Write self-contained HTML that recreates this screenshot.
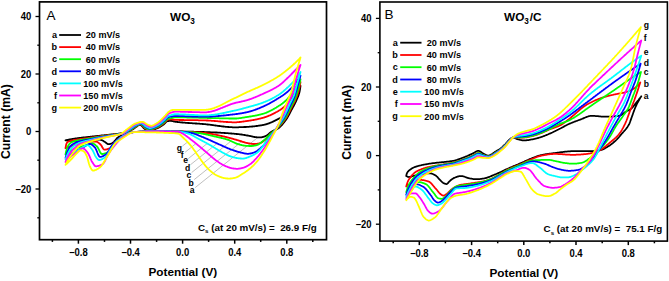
<!DOCTYPE html><html><head><meta charset="utf-8"><style>html,body{margin:0;padding:0;background:#fff;width:669px;height:281px;overflow:hidden}svg{display:block}</style></head><body><svg width="669" height="281" viewBox="0 0 669 281">
<rect width="669" height="281" fill="#fff"/>
<defs><clipPath id="cl"><rect x="40" y="2" width="287" height="238"/></clipPath><clipPath id="cr"><rect x="380" y="2" width="287" height="238"/></clipPath></defs>
<g clip-path="url(#cl)"><line x1="182.3" y1="146.2" x2="187.6" y2="142.0" stroke="#8a8a8a" stroke-width="0.55"/>
<text x="176.8" y="150.6" font-family="'Liberation Sans', sans-serif" font-weight="bold" font-size="8.6">g</text>
<line x1="185.2" y1="152.2" x2="196.0" y2="143.5" stroke="#8a8a8a" stroke-width="0.55"/>
<text x="180.8" y="157.8" font-family="'Liberation Sans', sans-serif" font-weight="bold" font-size="8.6">f</text>
<line x1="188.3" y1="158.6" x2="207.2" y2="143.5" stroke="#8a8a8a" stroke-width="0.55"/>
<text x="183.3" y="163.4" font-family="'Liberation Sans', sans-serif" font-weight="bold" font-size="8.6">e</text>
<line x1="190.4" y1="164.8" x2="217.1" y2="143.4" stroke="#8a8a8a" stroke-width="0.55"/>
<text x="185.0" y="170.8" font-family="'Liberation Sans', sans-serif" font-weight="bold" font-size="8.6">d</text>
<line x1="191.6" y1="172.6" x2="231.1" y2="141.0" stroke="#8a8a8a" stroke-width="0.55"/>
<text x="186.5" y="178.2" font-family="'Liberation Sans', sans-serif" font-weight="bold" font-size="8.6">c</text>
<line x1="194.2" y1="179.6" x2="241.8" y2="141.5" stroke="#8a8a8a" stroke-width="0.55"/>
<text x="188.6" y="185.6" font-family="'Liberation Sans', sans-serif" font-weight="bold" font-size="8.6">b</text>
<line x1="195.2" y1="187.6" x2="258.0" y2="137.3" stroke="#8a8a8a" stroke-width="0.55"/>
<text x="189.7" y="193.2" font-family="'Liberation Sans', sans-serif" font-weight="bold" font-size="8.6">a</text>
<path d="M65.5,140.3 66.0,140.2 66.5,140.1 67.0,140.0 67.5,139.9 68.0,139.8 68.5,139.7 69.0,139.6 69.5,139.5 70.0,139.4 70.5,139.3 71.0,139.2 71.5,139.1 72.0,139.1 72.5,139.0 73.0,138.9 73.5,138.8 74.0,138.7 74.5,138.7 75.0,138.6 75.5,138.5 76.0,138.4 76.5,138.4 77.0,138.3 77.5,138.2 78.0,138.2 78.5,138.1 79.0,138.0 79.5,138.0 80.0,137.9 80.5,137.8 81.0,137.8 81.5,137.7 82.0,137.7 82.5,137.6 83.0,137.5 83.5,137.5 84.0,137.4 84.5,137.4 85.0,137.3 85.5,137.3 86.0,137.2 86.5,137.2 87.0,137.1 87.5,137.1 88.0,137.0 88.5,137.0 89.0,136.9 89.5,136.9 90.0,136.8 90.5,136.7 91.0,136.7 91.5,136.6 92.0,136.6 92.5,136.5 93.0,136.5 93.5,136.4 94.0,136.4 94.5,136.3 95.0,136.2 95.5,136.2 96.0,136.1 96.5,136.1 97.0,136.0 97.5,136.0 98.0,135.9 98.5,135.9 99.0,135.8 99.5,135.8 100.0,135.7 100.5,135.6 101.0,135.6 101.5,135.5 102.0,135.5 102.5,135.4 103.0,135.4 103.5,135.3 104.0,135.3 104.5,135.2 105.0,135.2 105.5,135.1 106.0,135.1 106.5,135.0 107.0,135.0 107.5,134.9 108.0,134.8 108.5,134.8 109.0,134.7 109.5,134.7 110.0,134.6 110.5,134.6 111.0,134.5 111.5,134.5 112.0,134.4 112.5,134.3 113.0,134.3 113.5,134.2 114.0,134.2 114.5,134.1 115.0,134.1 115.5,134.0 116.0,134.0 116.5,133.9 117.0,133.9 117.5,133.8 118.0,133.8 118.5,133.7 119.0,133.6 119.5,133.6 120.0,133.5 120.5,133.4 121.0,133.4 121.5,133.3 122.0,133.2 122.5,133.1 123.0,133.0 123.5,132.9 124.0,132.8 124.5,132.6 125.0,132.5 125.5,132.4 126.0,132.2 126.5,132.0 127.0,131.9 127.5,131.7 128.0,131.5 128.5,131.3 129.0,131.1 129.5,130.9 130.0,130.7 130.5,130.5 131.0,130.2 131.5,130.0 132.0,129.7 132.5,129.5 133.0,129.2 133.5,128.9 134.0,128.5 134.5,128.1 135.0,127.7 135.5,127.3 136.0,127.0 136.5,126.7 137.0,126.3 137.5,125.9 138.0,125.6 138.5,125.3 139.0,125.0 139.5,124.9 140.0,124.8 140.5,124.9 141.0,125.2 141.5,125.6 142.0,126.1 142.5,126.6 143.0,127.2 143.5,127.8 144.0,128.3 144.5,128.7 145.0,129.1 145.5,129.3 146.0,129.6 146.5,129.9 147.0,130.1 147.5,130.3 148.0,130.4 148.5,130.5 149.0,130.5 149.5,130.5 150.0,130.4 150.5,130.3 151.0,130.3 151.5,130.2 152.0,130.0 152.5,129.9 153.0,129.8 153.5,129.6 154.0,129.4 154.5,129.3 155.0,129.1 155.5,128.9 156.0,128.7 156.5,128.5 157.0,128.3 157.5,128.2 158.0,128.0 158.5,127.7 159.0,127.5 159.5,127.2 160.0,126.9 160.5,126.6 161.0,126.3 161.5,126.0 162.0,125.6 162.5,125.3 163.0,124.9 163.5,124.6 164.0,124.2 164.5,123.7 165.0,123.1 165.5,122.6 166.0,122.0 166.5,121.6 167.0,121.3 167.5,121.2 168.0,121.1 168.5,121.0 169.0,120.9 169.5,120.8 170.0,120.8 170.5,120.8 171.0,120.8 171.5,120.9 172.0,121.0 172.5,121.1 173.0,121.2 173.5,121.4 174.0,121.5 174.5,121.6 175.0,121.7 175.5,121.8 176.0,121.8 176.5,121.9 177.0,121.9 177.5,122.0 178.0,122.1 178.5,122.1 179.0,122.2 179.5,122.2 180.0,122.3 180.5,122.3 181.0,122.4 181.5,122.4 182.0,122.5 182.5,122.5 183.0,122.6 183.5,122.6 184.0,122.6 184.5,122.7 185.0,122.7 185.5,122.8 186.0,122.8 186.5,122.8 187.0,122.9 187.5,122.9 188.0,123.0 188.5,123.0 189.0,123.0 189.5,123.1 190.0,123.1 190.5,123.1 191.0,123.2 191.5,123.2 192.0,123.2 192.5,123.3 193.0,123.3 193.5,123.3 194.0,123.4 194.5,123.4 195.0,123.4 195.5,123.5 196.0,123.5 196.5,123.5 197.0,123.6 197.5,123.6 198.0,123.6 198.5,123.7 199.0,123.7 199.5,123.7 200.0,123.8 200.5,123.8 201.0,123.9 201.5,123.9 202.0,123.9 202.5,124.0 203.0,124.0 203.5,124.1 204.0,124.1 204.5,124.2 205.0,124.2 205.5,124.2 206.0,124.3 206.5,124.3 207.0,124.4 207.5,124.5 208.0,124.5 208.5,124.6 209.0,124.6 209.5,124.7 210.0,124.7 210.5,124.8 211.0,124.9 211.5,124.9 212.0,125.0 212.5,125.1 213.0,125.1 213.5,125.2 214.0,125.3 214.5,125.3 215.0,125.4 215.5,125.5 216.0,125.6 216.5,125.6 217.0,125.7 217.5,125.8 218.0,125.8 218.5,125.9 219.0,126.0 219.5,126.0 220.0,126.1 220.5,126.2 221.0,126.2 221.5,126.3 222.0,126.4 222.5,126.4 223.0,126.5 223.5,126.5 224.0,126.6 224.5,126.6 225.0,126.7 225.5,126.8 226.0,126.8 226.5,126.9 227.0,126.9 227.5,126.9 228.0,127.0 228.5,127.0 229.0,127.1 229.5,127.1 230.0,127.1 230.5,127.2 231.0,127.2 231.5,127.2 232.0,127.2 232.5,127.3 233.0,127.3 233.5,127.3 234.0,127.3 234.5,127.3 235.0,127.3 235.5,127.3 236.0,127.3 236.5,127.3 237.0,127.3 237.5,127.3 238.0,127.3 238.5,127.3 239.0,127.2 239.5,127.2 240.0,127.2 240.5,127.2 241.0,127.2 241.5,127.2 242.0,127.1 242.5,127.1 243.0,127.1 243.5,127.1 244.0,127.0 244.5,127.0 245.0,127.0 245.5,127.0 246.0,127.0 246.5,126.9 247.0,126.9 247.5,126.9 248.0,126.8 248.5,126.8 249.0,126.8 249.5,126.7 250.0,126.7 250.5,126.7 251.0,126.6 251.5,126.6 252.0,126.5 252.5,126.5 253.0,126.4 253.5,126.4 254.0,126.3 254.5,126.3 255.0,126.2 255.5,126.2 256.0,126.1 256.5,126.0 257.0,126.0 257.5,125.9 258.0,125.8 258.5,125.7 259.0,125.7 259.5,125.6 260.0,125.5 260.5,125.4 261.0,125.4 261.5,125.3 262.0,125.2 262.5,125.1 263.0,125.0 263.5,124.9 264.0,124.8 264.5,124.7 265.0,124.6 265.5,124.4 266.0,124.3 266.5,124.1 267.0,124.0 267.5,123.8 268.0,123.6 268.5,123.5 269.0,123.3 269.5,123.1 270.0,122.9 270.5,122.7 271.0,122.5 271.5,122.3 272.0,122.1 272.5,121.8 273.0,121.6 273.5,121.4 274.0,121.1 274.5,120.9 275.0,120.6 275.5,120.4 276.0,120.1 276.5,119.9 277.0,119.6 277.5,119.4 278.0,119.1 278.5,118.9 279.0,118.6 279.5,118.3 280.0,118.1 280.5,117.8 281.0,117.5 281.5,117.2 282.0,116.9 282.5,116.6 283.0,116.3 283.5,115.9 284.0,115.6 284.5,115.2 285.0,114.8 285.5,114.4 286.0,114.0 286.5,113.5 287.0,113.0 287.5,112.5 288.0,111.8 288.5,111.2 289.0,110.4 289.5,109.6 290.0,108.7 290.5,107.9 291.0,106.9 291.5,106.0 292.0,105.0 292.5,104.0 293.0,103.0 293.5,102.0 294.0,101.0 294.5,100.0 295.0,99.0 295.5,97.9 296.0,96.8 296.5,95.7 297.0,94.6 297.5,93.4 298.0,92.2 298.5,91.0 299.0,89.7 299.5,88.5 300.0,87.2 300.5,85.9 300.5,85.9 300.0,89.3 299.5,92.0 299.0,93.8 298.5,95.4 298.0,96.7 297.5,97.8 297.0,99.0 296.5,100.2 296.0,101.3 295.5,102.3 295.0,103.3 294.5,104.3 294.0,105.3 293.5,106.2 293.0,107.1 292.5,108.1 292.0,109.0 291.5,109.9 291.0,110.9 290.5,111.9 290.0,112.8 289.5,113.8 289.0,114.7 288.5,115.6 288.0,116.5 287.5,117.4 287.0,118.2 286.5,119.0 286.0,119.7 285.5,120.4 285.0,121.1 284.5,121.7 284.0,122.4 283.5,123.0 283.0,123.6 282.5,124.2 282.0,124.8 281.5,125.4 281.0,125.9 280.5,126.4 280.0,126.9 279.5,127.4 279.0,127.8 278.5,128.2 278.0,128.5 277.5,128.8 277.0,129.1 276.5,129.3 276.0,129.6 275.5,129.8 275.0,130.0 274.5,130.2 274.0,130.4 273.5,130.7 273.0,130.9 272.5,131.1 272.0,131.4 271.5,131.7 271.0,132.0 270.5,132.4 270.0,132.8 269.5,133.2 269.0,133.6 268.5,134.1 268.0,134.5 267.5,134.9 267.0,135.2 266.5,135.6 266.0,135.9 265.5,136.1 265.0,136.3 264.5,136.5 264.0,136.6 263.5,136.8 263.0,136.9 262.5,137.1 262.0,137.2 261.5,137.3 261.0,137.3 260.5,137.4 260.0,137.4 259.5,137.4 259.0,137.4 258.5,137.4 258.0,137.3 257.5,137.3 257.0,137.3 256.5,137.2 256.0,137.2 255.5,137.2 255.0,137.1 254.5,137.0 254.0,136.9 253.5,136.8 253.0,136.7 252.5,136.6 252.0,136.4 251.5,136.3 251.0,136.2 250.5,136.1 250.0,136.0 249.5,135.9 249.0,135.8 248.5,135.7 248.0,135.6 247.5,135.5 247.0,135.5 246.5,135.4 246.0,135.3 245.5,135.2 245.0,135.1 244.5,135.0 244.0,134.9 243.5,134.8 243.0,134.8 242.5,134.7 242.0,134.6 241.5,134.5 241.0,134.5 240.5,134.4 240.0,134.3 239.5,134.3 239.0,134.2 238.5,134.2 238.0,134.1 237.5,134.1 237.0,134.0 236.5,134.0 236.0,133.9 235.5,133.9 235.0,133.8 234.5,133.8 234.0,133.7 233.5,133.7 233.0,133.6 232.5,133.6 232.0,133.6 231.5,133.5 231.0,133.5 230.5,133.4 230.0,133.4 229.5,133.3 229.0,133.3 228.5,133.3 228.0,133.2 227.5,133.2 227.0,133.2 226.5,133.1 226.0,133.1 225.5,133.1 225.0,133.0 224.5,133.0 224.0,132.9 223.5,132.9 223.0,132.9 222.5,132.9 222.0,132.8 221.5,132.8 221.0,132.8 220.5,132.7 220.0,132.7 219.5,132.7 219.0,132.6 218.5,132.6 218.0,132.6 217.5,132.6 217.0,132.5 216.5,132.5 216.0,132.5 215.5,132.5 215.0,132.4 214.5,132.4 214.0,132.4 213.5,132.4 213.0,132.4 212.5,132.3 212.0,132.3 211.5,132.3 211.0,132.3 210.5,132.3 210.0,132.2 209.5,132.2 209.0,132.2 208.5,132.2 208.0,132.2 207.5,132.1 207.0,132.1 206.5,132.1 206.0,132.1 205.5,132.1 205.0,132.1 204.5,132.1 204.0,132.0 203.5,132.0 203.0,132.0 202.5,132.0 202.0,132.0 201.5,132.0 201.0,131.9 200.5,131.9 200.0,131.9 199.5,131.9 199.0,131.9 198.5,131.9 198.0,131.9 197.5,131.8 197.0,131.8 196.5,131.8 196.0,131.8 195.5,131.8 195.0,131.8 194.5,131.8 194.0,131.8 193.5,131.7 193.0,131.7 192.5,131.7 192.0,131.7 191.5,131.7 191.0,131.7 190.5,131.7 190.0,131.7 189.5,131.7 189.0,131.6 188.5,131.6 188.0,131.6 187.5,131.6 187.0,131.6 186.5,131.6 186.0,131.6 185.5,131.6 185.0,131.6 184.5,131.6 184.0,131.6 183.5,131.6 183.0,131.5 182.5,131.5 182.0,131.5 181.5,131.5 181.0,131.5 180.5,131.5 180.0,131.5 179.5,131.5 179.0,131.5 178.5,131.5 178.0,131.5 177.5,131.5 177.0,131.5 176.5,131.5 176.0,131.5 175.5,131.5 175.0,131.5 174.5,131.5 174.0,131.5 173.5,131.5 173.0,131.5 172.5,131.5 172.0,131.5 171.5,131.5 171.0,131.5 170.5,131.5 170.0,131.5 169.5,131.5 169.0,131.5 168.5,131.4 168.0,131.4 167.5,131.4 167.0,131.4 166.5,131.4 166.0,131.4 165.5,131.4 165.0,131.4 164.5,131.4 164.0,131.4 163.5,131.4 163.0,131.4 162.5,131.4 162.0,131.4 161.5,131.4 161.0,131.4 160.5,131.4 160.0,131.4 159.5,131.4 159.0,131.4 158.5,131.4 158.0,131.4 157.5,131.4 157.0,131.4 156.5,131.4 156.0,131.4 155.5,131.4 155.0,131.4 154.5,131.4 154.0,131.4 153.5,131.4 153.0,131.4 152.5,131.4 152.0,131.4 151.5,131.4 151.0,131.4 150.5,131.4 150.0,131.4 149.5,131.4 149.0,131.4 148.5,131.4 148.0,131.4 147.5,131.4 147.0,131.4 146.5,131.4 146.0,131.4 145.5,131.5 145.0,131.5 144.5,131.5 144.0,131.5 143.5,131.5 143.0,131.5 142.5,131.5 142.0,131.6 141.5,131.6 141.0,131.6 140.5,131.6 140.0,131.6 139.5,131.7 139.0,131.7 138.5,131.7 138.0,131.7 137.5,131.8 137.0,131.8 136.5,131.8 136.0,131.9 135.5,131.9 135.0,131.9 134.5,132.0 134.0,132.0 133.5,132.0 133.0,132.1 132.5,132.1 132.0,132.2 131.5,132.2 131.0,132.2 130.5,132.3 130.0,132.4 129.5,132.5 129.0,132.6 128.5,132.7 128.0,132.8 127.5,132.9 127.0,133.0 126.5,133.2 126.0,133.3 125.5,133.5 125.0,133.7 124.5,133.8 124.0,134.0 123.5,134.2 123.0,134.4 122.5,134.6 122.0,134.9 121.5,135.1 121.0,135.4 120.5,135.7 120.0,136.0 119.5,136.4 119.0,136.7 118.5,137.1 118.0,137.4 117.5,137.8 117.0,138.2 116.5,138.8 116.0,139.3 115.5,140.0 115.0,140.6 114.5,141.2 114.0,141.8 113.5,142.3 113.0,142.7 112.5,143.1 112.0,143.3 111.5,143.5 111.0,143.7 110.5,143.8 110.0,144.0 109.5,144.1 109.0,144.2 108.5,144.2 108.0,144.1 107.5,143.9 107.0,143.6 106.5,143.2 106.0,142.8 105.5,142.4 105.0,142.0 104.5,141.7 104.0,141.4 103.5,141.1 103.0,140.8 102.5,140.5 102.0,140.2 101.5,140.0 101.0,139.9 100.5,139.8 100.0,139.7 99.5,139.7 99.0,139.6 98.5,139.6 98.0,139.5 97.5,139.5 97.0,139.5 96.5,139.5 96.0,139.5 95.5,139.6 95.0,139.6 94.5,139.7 94.0,139.7 93.5,139.8 93.0,139.9 92.5,139.9 92.0,140.0 91.5,140.1 91.0,140.2 90.5,140.2 90.0,140.3 89.5,140.4 89.0,140.4 88.5,140.5 88.0,140.5 87.5,140.5 87.0,140.6 86.5,140.6 86.0,140.6 85.5,140.6 85.0,140.7 84.5,140.7 84.0,140.7 83.5,140.8 83.0,140.8 82.5,140.8 82.0,140.8 81.5,140.8 81.0,140.9 80.5,140.9 80.0,140.9 79.5,140.9 79.0,140.9 78.5,141.0 78.0,141.0 77.5,141.0 77.0,141.0 76.5,141.0 76.0,141.0 75.5,141.0 75.0,141.0 74.5,141.0 74.0,141.0 73.5,141.0 73.0,141.0 72.5,140.9 72.0,140.9 71.5,140.9 71.0,140.9 70.5,140.8 70.0,140.8 69.5,140.7 69.0,140.7 68.5,140.6 68.0,140.6 67.5,140.5 67.0,140.5 66.5,140.4 66.0,140.4 65.5,140.3Z" fill="none" stroke="#000000" stroke-width="1.8" stroke-linejoin="round"/>
<path d="M65.5,148.1 66.0,145.3 66.5,143.6 67.0,142.7 67.5,142.2 68.0,141.8 68.5,141.5 69.0,141.3 69.5,141.2 70.0,141.0 70.5,140.9 71.0,140.7 71.5,140.6 72.0,140.5 72.5,140.4 73.0,140.3 73.5,140.2 74.0,140.1 74.5,140.0 75.0,139.9 75.5,139.8 76.0,139.7 76.5,139.6 77.0,139.6 77.5,139.5 78.0,139.4 78.5,139.3 79.0,139.2 79.5,139.2 80.0,139.1 80.5,139.0 81.0,139.0 81.5,138.9 82.0,138.8 82.5,138.8 83.0,138.7 83.5,138.6 84.0,138.6 84.5,138.5 85.0,138.4 85.5,138.4 86.0,138.3 86.5,138.3 87.0,138.2 87.5,138.1 88.0,138.1 88.5,138.0 89.0,137.9 89.5,137.9 90.0,137.8 90.5,137.7 91.0,137.7 91.5,137.6 92.0,137.5 92.5,137.4 93.0,137.4 93.5,137.3 94.0,137.2 94.5,137.1 95.0,137.0 95.5,137.0 96.0,136.9 96.5,136.8 97.0,136.7 97.5,136.7 98.0,136.6 98.5,136.5 99.0,136.4 99.5,136.4 100.0,136.3 100.5,136.2 101.0,136.2 101.5,136.1 102.0,136.0 102.5,136.0 103.0,135.9 103.5,135.8 104.0,135.8 104.5,135.7 105.0,135.7 105.5,135.6 106.0,135.5 106.5,135.5 107.0,135.4 107.5,135.4 108.0,135.3 108.5,135.2 109.0,135.2 109.5,135.1 110.0,135.1 110.5,135.0 111.0,134.9 111.5,134.9 112.0,134.8 112.5,134.7 113.0,134.7 113.5,134.6 114.0,134.6 114.5,134.5 115.0,134.4 115.5,134.4 116.0,134.3 116.5,134.3 117.0,134.2 117.5,134.1 118.0,134.1 118.5,134.0 119.0,133.9 119.5,133.9 120.0,133.8 120.5,133.7 121.0,133.6 121.5,133.5 122.0,133.4 122.5,133.3 123.0,133.2 123.5,133.0 124.0,132.9 124.5,132.7 125.0,132.5 125.5,132.4 126.0,132.2 126.5,132.0 127.0,131.8 127.5,131.5 128.0,131.3 128.5,131.1 129.0,130.8 129.5,130.6 130.0,130.3 130.5,130.1 131.0,129.8 131.5,129.6 132.0,129.3 132.5,129.0 133.0,128.6 133.5,128.3 134.0,127.9 134.5,127.5 135.0,127.1 135.5,126.8 136.0,126.5 136.5,126.1 137.0,125.8 137.5,125.5 138.0,125.2 138.5,124.9 139.0,124.7 139.5,124.5 140.0,124.4 140.5,124.4 141.0,124.5 141.5,124.8 142.0,125.2 142.5,125.7 143.0,126.3 143.5,126.8 144.0,127.4 144.5,127.8 145.0,128.2 145.5,128.5 146.0,128.8 146.5,129.0 147.0,129.3 147.5,129.5 148.0,129.7 148.5,129.8 149.0,129.8 149.5,129.8 150.0,129.8 150.5,129.7 151.0,129.6 151.5,129.5 152.0,129.4 152.5,129.3 153.0,129.1 153.5,129.0 154.0,128.8 154.5,128.6 155.0,128.4 155.5,128.2 156.0,128.0 156.5,127.8 157.0,127.6 157.5,127.4 158.0,127.2 158.5,126.9 159.0,126.7 159.5,126.4 160.0,126.1 160.5,125.7 161.0,125.4 161.5,125.0 162.0,124.7 162.5,124.3 163.0,123.9 163.5,123.5 164.0,123.1 164.5,122.6 165.0,122.1 165.5,121.5 166.0,121.0 166.5,120.5 167.0,120.1 167.5,119.8 168.0,119.7 168.5,119.6 169.0,119.5 169.5,119.4 170.0,119.3 170.5,119.3 171.0,119.3 171.5,119.4 172.0,119.4 172.5,119.5 173.0,119.6 173.5,119.6 174.0,119.7 174.5,119.8 175.0,119.8 175.5,119.8 176.0,119.8 176.5,119.9 177.0,119.9 177.5,119.9 178.0,119.9 178.5,119.9 179.0,119.9 179.5,120.0 180.0,120.0 180.5,120.0 181.0,120.0 181.5,120.0 182.0,120.0 182.5,120.0 183.0,120.0 183.5,120.0 184.0,120.1 184.5,120.1 185.0,120.1 185.5,120.1 186.0,120.1 186.5,120.1 187.0,120.1 187.5,120.1 188.0,120.1 188.5,120.1 189.0,120.1 189.5,120.1 190.0,120.1 190.5,120.1 191.0,120.2 191.5,120.2 192.0,120.2 192.5,120.2 193.0,120.2 193.5,120.2 194.0,120.2 194.5,120.2 195.0,120.2 195.5,120.2 196.0,120.2 196.5,120.2 197.0,120.2 197.5,120.2 198.0,120.2 198.5,120.3 199.0,120.3 199.5,120.3 200.0,120.3 200.5,120.3 201.0,120.3 201.5,120.3 202.0,120.3 202.5,120.3 203.0,120.3 203.5,120.4 204.0,120.4 204.5,120.4 205.0,120.4 205.5,120.4 206.0,120.4 206.5,120.5 207.0,120.5 207.5,120.5 208.0,120.5 208.5,120.6 209.0,120.6 209.5,120.6 210.0,120.6 210.5,120.7 211.0,120.7 211.5,120.8 212.0,120.8 212.5,120.8 213.0,120.9 213.5,120.9 214.0,120.9 214.5,121.0 215.0,121.0 215.5,121.1 216.0,121.1 216.5,121.2 217.0,121.2 217.5,121.2 218.0,121.3 218.5,121.3 219.0,121.4 219.5,121.4 220.0,121.5 220.5,121.5 221.0,121.6 221.5,121.6 222.0,121.6 222.5,121.7 223.0,121.7 223.5,121.8 224.0,121.8 224.5,121.8 225.0,121.9 225.5,121.9 226.0,121.9 226.5,122.0 227.0,122.0 227.5,122.0 228.0,122.1 228.5,122.1 229.0,122.1 229.5,122.2 230.0,122.2 230.5,122.2 231.0,122.2 231.5,122.2 232.0,122.3 232.5,122.3 233.0,122.3 233.5,122.3 234.0,122.3 234.5,122.3 235.0,122.3 235.5,122.3 236.0,122.3 236.5,122.3 237.0,122.2 237.5,122.2 238.0,122.2 238.5,122.1 239.0,122.1 239.5,122.0 240.0,122.0 240.5,121.9 241.0,121.9 241.5,121.8 242.0,121.7 242.5,121.7 243.0,121.6 243.5,121.5 244.0,121.4 244.5,121.4 245.0,121.3 245.5,121.2 246.0,121.1 246.5,121.1 247.0,121.0 247.5,120.9 248.0,120.9 248.5,120.8 249.0,120.7 249.5,120.6 250.0,120.6 250.5,120.5 251.0,120.4 251.5,120.3 252.0,120.2 252.5,120.1 253.0,120.1 253.5,120.0 254.0,119.9 254.5,119.8 255.0,119.7 255.5,119.6 256.0,119.5 256.5,119.4 257.0,119.3 257.5,119.2 258.0,119.0 258.5,118.9 259.0,118.8 259.5,118.7 260.0,118.6 260.5,118.5 261.0,118.3 261.5,118.2 262.0,118.1 262.5,117.9 263.0,117.8 263.5,117.7 264.0,117.5 264.5,117.4 265.0,117.2 265.5,117.0 266.0,116.9 266.5,116.7 267.0,116.5 267.5,116.3 268.0,116.1 268.5,115.9 269.0,115.7 269.5,115.5 270.0,115.3 270.5,115.1 271.0,114.8 271.5,114.6 272.0,114.4 272.5,114.1 273.0,113.9 273.5,113.6 274.0,113.4 274.5,113.1 275.0,112.9 275.5,112.6 276.0,112.3 276.5,112.0 277.0,111.8 277.5,111.5 278.0,111.2 278.5,110.9 279.0,110.6 279.5,110.3 280.0,110.0 280.5,109.7 281.0,109.3 281.5,109.0 282.0,108.6 282.5,108.2 283.0,107.8 283.5,107.4 284.0,107.0 284.5,106.6 285.0,106.1 285.5,105.7 286.0,105.2 286.5,104.7 287.0,104.2 287.5,103.7 288.0,103.1 288.5,102.4 289.0,101.8 289.5,101.1 290.0,100.4 290.5,99.6 291.0,98.8 291.5,98.1 292.0,97.3 292.5,96.5 293.0,95.6 293.5,94.8 294.0,94.0 294.5,93.2 295.0,92.3 295.5,91.5 296.0,90.6 296.5,89.7 297.0,88.8 297.5,87.9 298.0,86.9 298.5,86.0 299.0,85.0 299.5,84.0 300.0,83.0 300.5,82.0 300.5,82.0 300.0,84.7 299.5,87.2 299.0,89.3 298.5,91.2 298.0,92.9 297.5,94.5 297.0,95.9 296.5,97.2 296.0,98.5 295.5,99.7 295.0,100.7 294.5,101.8 294.0,102.8 293.5,103.7 293.0,104.7 292.5,105.6 292.0,106.6 291.5,107.5 291.0,108.5 290.5,109.5 290.0,110.5 289.5,111.5 289.0,112.5 288.5,113.5 288.0,114.5 287.5,115.4 287.0,116.3 286.5,117.2 286.0,118.0 285.5,118.7 285.0,119.5 284.5,120.1 284.0,120.8 283.5,121.5 283.0,122.1 282.5,122.7 282.0,123.3 281.5,123.8 281.0,124.4 280.5,124.9 280.0,125.5 279.5,126.0 279.0,126.5 278.5,127.0 278.0,127.5 277.5,128.0 277.0,128.4 276.5,128.9 276.0,129.3 275.5,129.7 275.0,130.1 274.5,130.5 274.0,130.9 273.5,131.3 273.0,131.7 272.5,132.2 272.0,132.6 271.5,133.0 271.0,133.5 270.5,134.0 270.0,134.5 269.5,135.1 269.0,135.7 268.5,136.3 268.0,136.9 267.5,137.5 267.0,138.1 266.5,138.6 266.0,139.1 265.5,139.6 265.0,140.0 264.5,140.4 264.0,140.8 263.5,141.1 263.0,141.5 262.5,141.9 262.0,142.2 261.5,142.5 261.0,142.8 260.5,143.0 260.0,143.2 259.5,143.4 259.0,143.5 258.5,143.6 258.0,143.7 257.5,143.7 257.0,143.8 256.5,143.9 256.0,143.9 255.5,143.9 255.0,144.0 254.5,144.0 254.0,144.0 253.5,144.0 253.0,144.0 252.5,143.9 252.0,143.9 251.5,143.8 251.0,143.7 250.5,143.7 250.0,143.6 249.5,143.5 249.0,143.4 248.5,143.3 248.0,143.2 247.5,143.1 247.0,143.0 246.5,142.9 246.0,142.8 245.5,142.7 245.0,142.5 244.5,142.4 244.0,142.2 243.5,142.1 243.0,141.9 242.5,141.8 242.0,141.6 241.5,141.4 241.0,141.2 240.5,141.1 240.0,140.9 239.5,140.8 239.0,140.6 238.5,140.4 238.0,140.3 237.5,140.2 237.0,140.0 236.5,139.9 236.0,139.7 235.5,139.6 235.0,139.5 234.5,139.3 234.0,139.2 233.5,139.0 233.0,138.9 232.5,138.7 232.0,138.6 231.5,138.5 231.0,138.3 230.5,138.2 230.0,138.1 229.5,137.9 229.0,137.8 228.5,137.7 228.0,137.5 227.5,137.4 227.0,137.3 226.5,137.1 226.0,137.0 225.5,136.9 225.0,136.8 224.5,136.6 224.0,136.5 223.5,136.4 223.0,136.3 222.5,136.2 222.0,136.1 221.5,136.0 221.0,135.9 220.5,135.8 220.0,135.7 219.5,135.6 219.0,135.5 218.5,135.3 218.0,135.2 217.5,135.1 217.0,135.0 216.5,134.9 216.0,134.8 215.5,134.7 215.0,134.6 214.5,134.5 214.0,134.4 213.5,134.3 213.0,134.2 212.5,134.1 212.0,134.0 211.5,133.9 211.0,133.9 210.5,133.8 210.0,133.7 209.5,133.6 209.0,133.5 208.5,133.4 208.0,133.4 207.5,133.3 207.0,133.2 206.5,133.2 206.0,133.1 205.5,133.0 205.0,133.0 204.5,132.9 204.0,132.9 203.5,132.8 203.0,132.8 202.5,132.8 202.0,132.7 201.5,132.7 201.0,132.6 200.5,132.6 200.0,132.6 199.5,132.5 199.0,132.5 198.5,132.5 198.0,132.4 197.5,132.4 197.0,132.4 196.5,132.3 196.0,132.3 195.5,132.3 195.0,132.2 194.5,132.2 194.0,132.2 193.5,132.1 193.0,132.1 192.5,132.1 192.0,132.1 191.5,132.0 191.0,132.0 190.5,132.0 190.0,132.0 189.5,131.9 189.0,131.9 188.5,131.9 188.0,131.9 187.5,131.8 187.0,131.8 186.5,131.8 186.0,131.8 185.5,131.8 185.0,131.7 184.5,131.7 184.0,131.7 183.5,131.7 183.0,131.7 182.5,131.7 182.0,131.7 181.5,131.6 181.0,131.6 180.5,131.6 180.0,131.6 179.5,131.6 179.0,131.6 178.5,131.6 178.0,131.6 177.5,131.6 177.0,131.6 176.5,131.6 176.0,131.6 175.5,131.6 175.0,131.6 174.5,131.6 174.0,131.6 173.5,131.6 173.0,131.6 172.5,131.6 172.0,131.6 171.5,131.6 171.0,131.6 170.5,131.6 170.0,131.6 169.5,131.6 169.0,131.5 168.5,131.5 168.0,131.5 167.5,131.5 167.0,131.5 166.5,131.5 166.0,131.5 165.5,131.5 165.0,131.5 164.5,131.5 164.0,131.5 163.5,131.5 163.0,131.5 162.5,131.5 162.0,131.5 161.5,131.5 161.0,131.5 160.5,131.5 160.0,131.5 159.5,131.5 159.0,131.5 158.5,131.5 158.0,131.5 157.5,131.5 157.0,131.5 156.5,131.5 156.0,131.5 155.5,131.5 155.0,131.5 154.5,131.5 154.0,131.5 153.5,131.5 153.0,131.5 152.5,131.5 152.0,131.5 151.5,131.5 151.0,131.5 150.5,131.5 150.0,131.5 149.5,131.5 149.0,131.5 148.5,131.5 148.0,131.5 147.5,131.5 147.0,131.5 146.5,131.5 146.0,131.5 145.5,131.5 145.0,131.6 144.5,131.6 144.0,131.6 143.5,131.6 143.0,131.6 142.5,131.6 142.0,131.7 141.5,131.7 141.0,131.7 140.5,131.7 140.0,131.7 139.5,131.8 139.0,131.8 138.5,131.8 138.0,131.8 137.5,131.9 137.0,131.9 136.5,131.9 136.0,132.0 135.5,132.0 135.0,132.0 134.5,132.1 134.0,132.1 133.5,132.2 133.0,132.2 132.5,132.3 132.0,132.3 131.5,132.4 131.0,132.6 130.5,132.7 130.0,132.9 129.5,133.1 129.0,133.2 128.5,133.4 128.0,133.6 127.5,133.9 127.0,134.1 126.5,134.3 126.0,134.5 125.5,134.7 125.0,135.0 124.5,135.2 124.0,135.5 123.5,135.8 123.0,136.1 122.5,136.4 122.0,136.7 121.5,137.0 121.0,137.3 120.5,137.7 120.0,138.0 119.5,138.3 119.0,138.7 118.5,139.1 118.0,139.5 117.5,139.9 117.0,140.3 116.5,140.7 116.0,141.1 115.5,141.6 115.0,142.0 114.5,142.5 114.0,143.0 113.5,143.6 113.0,144.2 112.5,145.0 112.0,145.7 111.5,146.5 111.0,147.1 110.5,147.7 110.0,148.0 109.5,148.3 109.0,148.5 108.5,148.7 108.0,148.9 107.5,149.1 107.0,149.3 106.5,149.4 106.0,149.5 105.5,149.6 105.0,149.7 104.5,149.7 104.0,149.5 103.5,149.1 103.0,148.4 102.5,147.6 102.0,146.7 101.5,145.8 101.0,145.1 100.5,144.5 100.0,144.0 99.5,143.6 99.0,143.2 98.5,142.7 98.0,142.4 97.5,142.0 97.0,141.8 96.5,141.6 96.0,141.5 95.5,141.5 95.0,141.5 94.5,141.5 94.0,141.5 93.5,141.5 93.0,141.5 92.5,141.5 92.0,141.5 91.5,141.5 91.0,141.5 90.5,141.5 90.0,141.5 89.5,141.5 89.0,141.5 88.5,141.5 88.0,141.6 87.5,141.6 87.0,141.7 86.5,141.8 86.0,141.9 85.5,141.9 85.0,142.0 84.5,142.1 84.0,142.2 83.5,142.3 83.0,142.4 82.5,142.5 82.0,142.6 81.5,142.7 81.0,142.9 80.5,143.0 80.0,143.1 79.5,143.3 79.0,143.4 78.5,143.6 78.0,143.7 77.5,143.9 77.0,144.0 76.5,144.2 76.0,144.4 75.5,144.5 75.0,144.7 74.5,144.9 74.0,145.1 73.5,145.3 73.0,145.4 72.5,145.6 72.0,145.8 71.5,146.0 71.0,146.1 70.5,146.3 70.0,146.5 69.5,146.7 69.0,146.9 68.5,147.0 68.0,147.2 67.5,147.4 67.0,147.6 66.5,147.7 66.0,147.9 65.5,148.1Z" fill="none" stroke="#ff0000" stroke-width="1.8" stroke-linejoin="round"/>
<path d="M65.5,154.4 66.0,152.0 66.5,150.0 67.0,148.4 67.5,147.1 68.0,146.0 68.5,145.1 69.0,144.4 69.5,143.8 70.0,143.3 70.5,142.9 71.0,142.6 71.5,142.3 72.0,142.1 72.5,141.8 73.0,141.6 73.5,141.5 74.0,141.3 74.5,141.2 75.0,141.0 75.5,140.9 76.0,140.8 76.5,140.7 77.0,140.6 77.5,140.5 78.0,140.4 78.5,140.4 79.0,140.3 79.5,140.2 80.0,140.1 80.5,140.0 81.0,139.9 81.5,139.8 82.0,139.8 82.5,139.7 83.0,139.6 83.5,139.5 84.0,139.4 84.5,139.4 85.0,139.3 85.5,139.2 86.0,139.1 86.5,139.1 87.0,139.0 87.5,138.9 88.0,138.8 88.5,138.7 89.0,138.7 89.5,138.6 90.0,138.5 90.5,138.4 91.0,138.3 91.5,138.2 92.0,138.2 92.5,138.1 93.0,138.0 93.5,137.9 94.0,137.8 94.5,137.7 95.0,137.6 95.5,137.6 96.0,137.5 96.5,137.4 97.0,137.3 97.5,137.2 98.0,137.1 98.5,137.0 99.0,137.0 99.5,136.9 100.0,136.8 100.5,136.7 101.0,136.6 101.5,136.6 102.0,136.5 102.5,136.4 103.0,136.3 103.5,136.3 104.0,136.2 104.5,136.1 105.0,136.0 105.5,136.0 106.0,135.9 106.5,135.8 107.0,135.7 107.5,135.7 108.0,135.6 108.5,135.5 109.0,135.4 109.5,135.4 110.0,135.3 110.5,135.2 111.0,135.1 111.5,135.1 112.0,135.0 112.5,134.9 113.0,134.9 113.5,134.8 114.0,134.7 114.5,134.7 115.0,134.6 115.5,134.5 116.0,134.5 116.5,134.4 117.0,134.3 117.5,134.3 118.0,134.2 118.5,134.1 119.0,134.1 119.5,134.0 120.0,133.9 120.5,133.8 121.0,133.7 121.5,133.6 122.0,133.5 122.5,133.4 123.0,133.2 123.5,133.1 124.0,132.9 124.5,132.7 125.0,132.5 125.5,132.3 126.0,132.1 126.5,131.9 127.0,131.6 127.5,131.4 128.0,131.1 128.5,130.9 129.0,130.6 129.5,130.3 130.0,130.1 130.5,129.8 131.0,129.5 131.5,129.2 132.0,128.9 132.5,128.6 133.0,128.2 133.5,127.8 134.0,127.4 134.5,127.0 135.0,126.7 135.5,126.4 136.0,126.1 136.5,125.8 137.0,125.5 137.5,125.2 138.0,124.9 138.5,124.6 139.0,124.4 139.5,124.2 140.0,124.1 140.5,124.1 141.0,124.1 141.5,124.4 142.0,124.7 142.5,125.1 143.0,125.6 143.5,126.2 144.0,126.7 144.5,127.2 145.0,127.6 145.5,127.9 146.0,128.2 146.5,128.5 147.0,128.7 147.5,129.0 148.0,129.1 148.5,129.3 149.0,129.4 149.5,129.4 150.0,129.3 150.5,129.3 151.0,129.2 151.5,129.1 152.0,129.0 152.5,128.8 153.0,128.7 153.5,128.5 154.0,128.3 154.5,128.1 155.0,127.9 155.5,127.7 156.0,127.5 156.5,127.3 157.0,127.1 157.5,126.9 158.0,126.6 158.5,126.4 159.0,126.1 159.5,125.8 160.0,125.4 160.5,125.1 161.0,124.7 161.5,124.3 162.0,124.0 162.5,123.6 163.0,123.2 163.5,122.8 164.0,122.4 164.5,121.9 165.0,121.4 165.5,120.8 166.0,120.2 166.5,119.7 167.0,119.3 167.5,118.9 168.0,118.8 168.5,118.6 169.0,118.5 169.5,118.5 170.0,118.4 170.5,118.3 171.0,118.2 171.5,118.1 172.0,117.9 172.5,117.8 173.0,117.6 173.5,117.5 174.0,117.4 174.5,117.3 175.0,117.3 175.5,117.3 176.0,117.3 176.5,117.3 177.0,117.3 177.5,117.3 178.0,117.3 178.5,117.3 179.0,117.3 179.5,117.3 180.0,117.3 180.5,117.3 181.0,117.3 181.5,117.4 182.0,117.4 182.5,117.4 183.0,117.4 183.5,117.4 184.0,117.4 184.5,117.4 185.0,117.4 185.5,117.4 186.0,117.4 186.5,117.4 187.0,117.5 187.5,117.5 188.0,117.5 188.5,117.5 189.0,117.5 189.5,117.5 190.0,117.5 190.5,117.5 191.0,117.6 191.5,117.6 192.0,117.6 192.5,117.6 193.0,117.6 193.5,117.6 194.0,117.6 194.5,117.6 195.0,117.7 195.5,117.7 196.0,117.7 196.5,117.7 197.0,117.7 197.5,117.7 198.0,117.7 198.5,117.7 199.0,117.8 199.5,117.8 200.0,117.8 200.5,117.8 201.0,117.8 201.5,117.8 202.0,117.8 202.5,117.8 203.0,117.9 203.5,117.9 204.0,117.9 204.5,117.9 205.0,117.9 205.5,117.9 206.0,117.9 206.5,117.9 207.0,117.9 207.5,118.0 208.0,118.0 208.5,118.0 209.0,118.0 209.5,118.0 210.0,118.0 210.5,118.0 211.0,118.0 211.5,118.1 212.0,118.1 212.5,118.1 213.0,118.1 213.5,118.1 214.0,118.1 214.5,118.1 215.0,118.1 215.5,118.2 216.0,118.2 216.5,118.2 217.0,118.2 217.5,118.2 218.0,118.2 218.5,118.2 219.0,118.2 219.5,118.3 220.0,118.3 220.5,118.3 221.0,118.3 221.5,118.3 222.0,118.3 222.5,118.3 223.0,118.3 223.5,118.4 224.0,118.4 224.5,118.4 225.0,118.4 225.5,118.4 226.0,118.4 226.5,118.4 227.0,118.4 227.5,118.4 228.0,118.4 228.5,118.4 229.0,118.5 229.5,118.5 230.0,118.5 230.5,118.5 231.0,118.5 231.5,118.5 232.0,118.5 232.5,118.5 233.0,118.5 233.5,118.5 234.0,118.5 234.5,118.5 235.0,118.5 235.5,118.5 236.0,118.5 236.5,118.5 237.0,118.4 237.5,118.4 238.0,118.4 238.5,118.3 239.0,118.2 239.5,118.2 240.0,118.1 240.5,118.1 241.0,118.0 241.5,117.9 242.0,117.8 242.5,117.7 243.0,117.7 243.5,117.6 244.0,117.5 244.5,117.4 245.0,117.3 245.5,117.2 246.0,117.2 246.5,117.1 247.0,117.0 247.5,116.9 248.0,116.8 248.5,116.8 249.0,116.7 249.5,116.6 250.0,116.5 250.5,116.5 251.0,116.4 251.5,116.3 252.0,116.2 252.5,116.1 253.0,116.0 253.5,115.9 254.0,115.9 254.5,115.8 255.0,115.7 255.5,115.6 256.0,115.5 256.5,115.4 257.0,115.3 257.5,115.2 258.0,115.1 258.5,114.9 259.0,114.8 259.5,114.7 260.0,114.6 260.5,114.5 261.0,114.3 261.5,114.2 262.0,114.1 262.5,113.9 263.0,113.8 263.5,113.7 264.0,113.5 264.5,113.3 265.0,113.2 265.5,113.0 266.0,112.8 266.5,112.6 267.0,112.4 267.5,112.2 268.0,111.9 268.5,111.7 269.0,111.5 269.5,111.2 270.0,111.0 270.5,110.7 271.0,110.5 271.5,110.2 272.0,110.0 272.5,109.7 273.0,109.4 273.5,109.1 274.0,108.8 274.5,108.6 275.0,108.3 275.5,108.0 276.0,107.7 276.5,107.4 277.0,107.0 277.5,106.7 278.0,106.4 278.5,106.1 279.0,105.8 279.5,105.5 280.0,105.2 280.5,104.8 281.0,104.5 281.5,104.1 282.0,103.7 282.5,103.4 283.0,103.0 283.5,102.6 284.0,102.2 284.5,101.7 285.0,101.3 285.5,100.8 286.0,100.4 286.5,99.9 287.0,99.4 287.5,98.9 288.0,98.3 288.5,97.7 289.0,97.1 289.5,96.5 290.0,95.8 290.5,95.1 291.0,94.4 291.5,93.7 292.0,93.0 292.5,92.2 293.0,91.5 293.5,90.7 294.0,90.0 294.5,89.2 295.0,88.5 295.5,87.7 296.0,86.9 296.5,86.1 297.0,85.3 297.5,84.4 298.0,83.6 298.5,82.7 299.0,81.9 299.5,81.0 300.0,80.1 300.5,79.2 300.5,79.2 300.0,81.6 299.5,83.9 299.0,86.0 298.5,88.0 298.0,89.8 297.5,91.6 297.0,93.3 296.5,94.8 296.0,96.3 295.5,97.6 295.0,98.8 294.5,99.9 294.0,101.0 293.5,102.0 293.0,102.9 292.5,103.9 292.0,104.8 291.5,105.8 291.0,106.8 290.5,107.8 290.0,108.8 289.5,109.9 289.0,110.9 288.5,111.9 288.0,112.9 287.5,113.9 287.0,114.9 286.5,115.8 286.0,116.7 285.5,117.5 285.0,118.3 284.5,119.0 284.0,119.7 283.5,120.4 283.0,121.1 282.5,121.8 282.0,122.4 281.5,123.0 281.0,123.6 280.5,124.2 280.0,124.8 279.5,125.4 279.0,125.9 278.5,126.5 278.0,127.0 277.5,127.5 277.0,128.0 276.5,128.5 276.0,129.0 275.5,129.5 275.0,130.0 274.5,130.4 274.0,130.9 273.5,131.3 273.0,131.8 272.5,132.2 272.0,132.7 271.5,133.1 271.0,133.6 270.5,134.0 270.0,134.5 269.5,135.0 269.0,135.5 268.5,135.9 268.0,136.4 267.5,136.9 267.0,137.4 266.5,137.9 266.0,138.4 265.5,138.8 265.0,139.3 264.5,139.8 264.0,140.2 263.5,140.6 263.0,141.0 262.5,141.4 262.0,141.8 261.5,142.2 261.0,142.6 260.5,143.0 260.0,143.4 259.5,143.7 259.0,144.1 258.5,144.4 258.0,144.6 257.5,144.8 257.0,145.0 256.5,145.1 256.0,145.3 255.5,145.4 255.0,145.5 254.5,145.6 254.0,145.7 253.5,145.8 253.0,145.9 252.5,145.9 252.0,146.0 251.5,146.0 251.0,146.0 250.5,146.0 250.0,146.0 249.5,146.0 249.0,146.0 248.5,145.9 248.0,145.9 247.5,145.9 247.0,145.9 246.5,145.8 246.0,145.8 245.5,145.8 245.0,145.7 244.5,145.6 244.0,145.6 243.5,145.5 243.0,145.4 242.5,145.3 242.0,145.2 241.5,145.0 241.0,144.9 240.5,144.8 240.0,144.7 239.5,144.5 239.0,144.4 238.5,144.2 238.0,144.1 237.5,143.9 237.0,143.8 236.5,143.6 236.0,143.4 235.5,143.2 235.0,143.0 234.5,142.7 234.0,142.5 233.5,142.2 233.0,142.0 232.5,141.8 232.0,141.5 231.5,141.3 231.0,141.0 230.5,140.8 230.0,140.6 229.5,140.3 229.0,140.1 228.5,139.9 228.0,139.8 227.5,139.6 227.0,139.5 226.5,139.3 226.0,139.2 225.5,139.0 225.0,138.9 224.5,138.7 224.0,138.6 223.5,138.5 223.0,138.3 222.5,138.2 222.0,138.1 221.5,138.0 221.0,137.9 220.5,137.7 220.0,137.6 219.5,137.5 219.0,137.4 218.5,137.3 218.0,137.2 217.5,137.1 217.0,137.0 216.5,136.8 216.0,136.7 215.5,136.6 215.0,136.5 214.5,136.4 214.0,136.3 213.5,136.2 213.0,136.0 212.5,135.9 212.0,135.8 211.5,135.7 211.0,135.6 210.5,135.4 210.0,135.3 209.5,135.2 209.0,135.1 208.5,135.0 208.0,134.8 207.5,134.7 207.0,134.6 206.5,134.5 206.0,134.4 205.5,134.3 205.0,134.2 204.5,134.1 204.0,134.0 203.5,133.9 203.0,133.8 202.5,133.7 202.0,133.6 201.5,133.5 201.0,133.4 200.5,133.3 200.0,133.2 199.5,133.1 199.0,133.1 198.5,133.0 198.0,132.9 197.5,132.9 197.0,132.8 196.5,132.8 196.0,132.7 195.5,132.7 195.0,132.6 194.5,132.6 194.0,132.5 193.5,132.5 193.0,132.4 192.5,132.4 192.0,132.4 191.5,132.3 191.0,132.3 190.5,132.2 190.0,132.2 189.5,132.1 189.0,132.1 188.5,132.1 188.0,132.0 187.5,132.0 187.0,132.0 186.5,131.9 186.0,131.9 185.5,131.9 185.0,131.8 184.5,131.8 184.0,131.8 183.5,131.8 183.0,131.7 182.5,131.7 182.0,131.7 181.5,131.7 181.0,131.7 180.5,131.6 180.0,131.6 179.5,131.6 179.0,131.6 178.5,131.6 178.0,131.6 177.5,131.6 177.0,131.6 176.5,131.6 176.0,131.6 175.5,131.6 175.0,131.6 174.5,131.6 174.0,131.6 173.5,131.6 173.0,131.6 172.5,131.6 172.0,131.6 171.5,131.6 171.0,131.6 170.5,131.6 170.0,131.6 169.5,131.5 169.0,131.5 168.5,131.5 168.0,131.5 167.5,131.5 167.0,131.5 166.5,131.5 166.0,131.5 165.5,131.5 165.0,131.5 164.5,131.5 164.0,131.5 163.5,131.5 163.0,131.5 162.5,131.5 162.0,131.5 161.5,131.5 161.0,131.5 160.5,131.5 160.0,131.5 159.5,131.5 159.0,131.5 158.5,131.5 158.0,131.5 157.5,131.5 157.0,131.5 156.5,131.5 156.0,131.5 155.5,131.5 155.0,131.5 154.5,131.5 154.0,131.5 153.5,131.5 153.0,131.5 152.5,131.5 152.0,131.5 151.5,131.5 151.0,131.5 150.5,131.5 150.0,131.5 149.5,131.5 149.0,131.5 148.5,131.5 148.0,131.5 147.5,131.5 147.0,131.5 146.5,131.5 146.0,131.5 145.5,131.5 145.0,131.6 144.5,131.6 144.0,131.6 143.5,131.6 143.0,131.6 142.5,131.6 142.0,131.7 141.5,131.7 141.0,131.7 140.5,131.7 140.0,131.7 139.5,131.8 139.0,131.8 138.5,131.8 138.0,131.9 137.5,131.9 137.0,131.9 136.5,131.9 136.0,132.0 135.5,132.0 135.0,132.0 134.5,132.1 134.0,132.1 133.5,132.2 133.0,132.2 132.5,132.3 132.0,132.3 131.5,132.4 131.0,132.6 130.5,132.7 130.0,132.8 129.5,133.0 129.0,133.2 128.5,133.4 128.0,133.6 127.5,133.8 127.0,134.1 126.5,134.3 126.0,134.5 125.5,134.8 125.0,135.0 124.5,135.2 124.0,135.5 123.5,135.8 123.0,136.1 122.5,136.5 122.0,136.8 121.5,137.2 121.0,137.5 120.5,137.9 120.0,138.3 119.5,138.7 119.0,139.1 118.5,139.6 118.0,140.0 117.5,140.4 117.0,140.9 116.5,141.4 116.0,141.9 115.5,142.5 115.0,143.0 114.5,143.6 114.0,144.1 113.5,144.7 113.0,145.3 112.5,145.9 112.0,146.5 111.5,147.1 111.0,147.9 110.5,148.7 110.0,149.5 109.5,150.2 109.0,150.9 108.5,151.6 108.0,152.1 107.5,152.5 107.0,152.7 106.5,152.9 106.0,153.1 105.5,153.3 105.0,153.4 104.5,153.6 104.0,153.7 103.5,153.8 103.0,153.9 102.5,154.0 102.0,154.0 101.5,153.9 101.0,153.5 100.5,152.9 100.0,152.0 99.5,151.0 99.0,149.9 98.5,148.9 98.0,147.9 97.5,147.1 97.0,146.5 96.5,146.0 96.0,145.6 95.5,145.1 95.0,144.7 94.5,144.3 94.0,144.0 93.5,143.7 93.0,143.6 92.5,143.5 92.0,143.5 91.5,143.6 91.0,143.6 90.5,143.7 90.0,143.9 89.5,144.0 89.0,144.2 88.5,144.3 88.0,144.5 87.5,144.7 87.0,144.9 86.5,145.1 86.0,145.3 85.5,145.4 85.0,145.6 84.5,145.7 84.0,145.8 83.5,146.0 83.0,146.1 82.5,146.2 82.0,146.4 81.5,146.5 81.0,146.6 80.5,146.7 80.0,146.9 79.5,147.0 79.0,147.2 78.5,147.3 78.0,147.5 77.5,147.6 77.0,147.8 76.5,147.9 76.0,148.1 75.5,148.3 75.0,148.5 74.5,148.7 74.0,148.9 73.5,149.2 73.0,149.4 72.5,149.7 72.0,150.0 71.5,150.2 71.0,150.5 70.5,150.8 70.0,151.2 69.5,151.5 69.0,151.8 68.5,152.2 68.0,152.5 67.5,152.9 67.0,153.3 66.5,153.6 66.0,154.0 65.5,154.4Z" fill="none" stroke="#00ff00" stroke-width="1.8" stroke-linejoin="round"/>
<path d="M65.5,158.0 66.0,156.2 66.5,154.5 67.0,153.0 67.5,151.7 68.0,150.5 68.5,149.4 69.0,148.4 69.5,147.5 70.0,146.8 70.5,146.2 71.0,145.7 71.5,145.2 72.0,144.8 72.5,144.4 73.0,144.1 73.5,143.8 74.0,143.5 74.5,143.2 75.0,143.0 75.5,142.8 76.0,142.6 76.5,142.4 77.0,142.2 77.5,142.0 78.0,141.9 78.5,141.7 79.0,141.6 79.5,141.4 80.0,141.3 80.5,141.2 81.0,141.0 81.5,140.9 82.0,140.8 82.5,140.7 83.0,140.6 83.5,140.5 84.0,140.4 84.5,140.3 85.0,140.2 85.5,140.1 86.0,140.0 86.5,139.9 87.0,139.9 87.5,139.8 88.0,139.7 88.5,139.6 89.0,139.5 89.5,139.4 90.0,139.3 90.5,139.2 91.0,139.1 91.5,139.0 92.0,138.9 92.5,138.8 93.0,138.7 93.5,138.6 94.0,138.5 94.5,138.4 95.0,138.3 95.5,138.2 96.0,138.1 96.5,138.0 97.0,137.9 97.5,137.8 98.0,137.7 98.5,137.6 99.0,137.5 99.5,137.4 100.0,137.3 100.5,137.2 101.0,137.1 101.5,137.0 102.0,136.9 102.5,136.9 103.0,136.8 103.5,136.7 104.0,136.6 104.5,136.5 105.0,136.4 105.5,136.4 106.0,136.3 106.5,136.2 107.0,136.1 107.5,136.0 108.0,136.0 108.5,135.9 109.0,135.8 109.5,135.7 110.0,135.6 110.5,135.5 111.0,135.5 111.5,135.4 112.0,135.3 112.5,135.2 113.0,135.1 113.5,135.1 114.0,135.0 114.5,134.9 115.0,134.8 115.5,134.8 116.0,134.7 116.5,134.6 117.0,134.6 117.5,134.5 118.0,134.4 118.5,134.3 119.0,134.2 119.5,134.2 120.0,134.1 120.5,134.0 121.0,133.8 121.5,133.7 122.0,133.6 122.5,133.5 123.0,133.3 123.5,133.1 124.0,132.9 124.5,132.7 125.0,132.4 125.5,132.2 126.0,131.9 126.5,131.6 127.0,131.4 127.5,131.1 128.0,130.8 128.5,130.5 129.0,130.1 129.5,129.8 130.0,129.5 130.5,129.2 131.0,128.9 131.5,128.6 132.0,128.2 132.5,127.8 133.0,127.4 133.5,127.1 134.0,126.7 134.5,126.3 135.0,126.0 135.5,125.7 136.0,125.5 136.5,125.2 137.0,124.9 137.5,124.7 138.0,124.4 138.5,124.2 139.0,124.0 139.5,123.8 140.0,123.7 140.5,123.6 141.0,123.6 141.5,123.7 142.0,123.9 142.5,124.3 143.0,124.7 143.5,125.2 144.0,125.7 144.5,126.1 145.0,126.6 145.5,127.0 146.0,127.2 146.5,127.5 147.0,127.8 147.5,128.0 148.0,128.2 148.5,128.4 149.0,128.6 149.5,128.6 150.0,128.6 150.5,128.6 151.0,128.5 151.5,128.4 152.0,128.3 152.5,128.1 153.0,128.0 153.5,127.8 154.0,127.6 154.5,127.4 155.0,127.2 155.5,126.9 156.0,126.7 156.5,126.5 157.0,126.2 157.5,126.0 158.0,125.7 158.5,125.5 159.0,125.1 159.5,124.8 160.0,124.4 160.5,124.1 161.0,123.7 161.5,123.3 162.0,122.9 162.5,122.4 163.0,122.0 163.5,121.6 164.0,121.2 164.5,120.7 165.0,120.2 165.5,119.6 166.0,119.1 166.5,118.5 167.0,118.0 167.5,117.6 168.0,117.3 168.5,117.1 169.0,116.9 169.5,116.8 170.0,116.7 170.5,116.6 171.0,116.5 171.5,116.5 172.0,116.4 172.5,116.3 173.0,116.2 173.5,116.2 174.0,116.1 174.5,116.1 175.0,116.1 175.5,116.1 176.0,116.1 176.5,116.1 177.0,116.1 177.5,116.1 178.0,116.1 178.5,116.1 179.0,116.1 179.5,116.1 180.0,116.1 180.5,116.2 181.0,116.2 181.5,116.2 182.0,116.2 182.5,116.2 183.0,116.2 183.5,116.2 184.0,116.2 184.5,116.2 185.0,116.3 185.5,116.3 186.0,116.3 186.5,116.3 187.0,116.3 187.5,116.3 188.0,116.3 188.5,116.4 189.0,116.4 189.5,116.4 190.0,116.4 190.5,116.4 191.0,116.4 191.5,116.4 192.0,116.5 192.5,116.5 193.0,116.5 193.5,116.5 194.0,116.5 194.5,116.5 195.0,116.5 195.5,116.6 196.0,116.6 196.5,116.6 197.0,116.6 197.5,116.6 198.0,116.6 198.5,116.6 199.0,116.6 199.5,116.6 200.0,116.7 200.5,116.7 201.0,116.7 201.5,116.7 202.0,116.7 202.5,116.7 203.0,116.7 203.5,116.7 204.0,116.7 204.5,116.7 205.0,116.7 205.5,116.7 206.0,116.7 206.5,116.7 207.0,116.7 207.5,116.7 208.0,116.7 208.5,116.6 209.0,116.6 209.5,116.6 210.0,116.6 210.5,116.6 211.0,116.6 211.5,116.5 212.0,116.5 212.5,116.5 213.0,116.4 213.5,116.4 214.0,116.4 214.5,116.3 215.0,116.3 215.5,116.3 216.0,116.2 216.5,116.2 217.0,116.2 217.5,116.1 218.0,116.1 218.5,116.0 219.0,116.0 219.5,115.9 220.0,115.9 220.5,115.8 221.0,115.8 221.5,115.7 222.0,115.7 222.5,115.6 223.0,115.6 223.5,115.5 224.0,115.5 224.5,115.4 225.0,115.4 225.5,115.3 226.0,115.3 226.5,115.2 227.0,115.1 227.5,115.1 228.0,115.0 228.5,115.0 229.0,114.9 229.5,114.8 230.0,114.8 230.5,114.7 231.0,114.7 231.5,114.6 232.0,114.6 232.5,114.5 233.0,114.4 233.5,114.4 234.0,114.3 234.5,114.3 235.0,114.2 235.5,114.1 236.0,114.1 236.5,114.0 237.0,114.0 237.5,113.9 238.0,113.8 238.5,113.7 239.0,113.7 239.5,113.6 240.0,113.5 240.5,113.4 241.0,113.4 241.5,113.3 242.0,113.2 242.5,113.1 243.0,113.0 243.5,112.9 244.0,112.8 244.5,112.7 245.0,112.6 245.5,112.5 246.0,112.4 246.5,112.3 247.0,112.2 247.5,112.1 248.0,112.0 248.5,111.8 249.0,111.7 249.5,111.6 250.0,111.4 250.5,111.3 251.0,111.1 251.5,111.0 252.0,110.8 252.5,110.7 253.0,110.5 253.5,110.3 254.0,110.2 254.5,110.0 255.0,109.8 255.5,109.6 256.0,109.4 256.5,109.3 257.0,109.1 257.5,108.9 258.0,108.7 258.5,108.5 259.0,108.3 259.5,108.1 260.0,107.9 260.5,107.7 261.0,107.4 261.5,107.2 262.0,107.0 262.5,106.8 263.0,106.6 263.5,106.4 264.0,106.2 264.5,105.9 265.0,105.7 265.5,105.5 266.0,105.2 266.5,105.0 267.0,104.7 267.5,104.5 268.0,104.2 268.5,104.0 269.0,103.7 269.5,103.4 270.0,103.1 270.5,102.9 271.0,102.6 271.5,102.3 272.0,102.0 272.5,101.7 273.0,101.4 273.5,101.2 274.0,100.9 274.5,100.6 275.0,100.3 275.5,100.0 276.0,99.7 276.5,99.3 277.0,99.0 277.5,98.7 278.0,98.4 278.5,98.1 279.0,97.8 279.5,97.5 280.0,97.2 280.5,96.9 281.0,96.5 281.5,96.2 282.0,95.9 282.5,95.6 283.0,95.2 283.5,94.9 284.0,94.5 284.5,94.2 285.0,93.8 285.5,93.4 286.0,93.0 286.5,92.6 287.0,92.2 287.5,91.8 288.0,91.3 288.5,90.9 289.0,90.4 289.5,89.9 290.0,89.4 290.5,88.9 291.0,88.4 291.5,87.9 292.0,87.3 292.5,86.8 293.0,86.2 293.5,85.6 294.0,85.0 294.5,84.4 295.0,83.8 295.5,83.1 296.0,82.4 296.5,81.7 297.0,81.0 297.5,80.3 298.0,79.5 298.5,78.8 299.0,78.0 299.5,77.2 300.0,76.4 300.5,75.6 300.5,75.6 300.0,77.5 299.5,79.3 299.0,81.1 298.5,82.9 298.0,84.7 297.5,86.5 297.0,88.4 296.5,90.2 296.0,92.0 295.5,93.7 295.0,95.3 294.5,96.7 294.0,97.9 293.5,99.0 293.0,100.0 292.5,101.0 292.0,102.0 291.5,103.0 291.0,104.0 290.5,105.0 290.0,106.0 289.5,107.1 289.0,108.2 288.5,109.2 288.0,110.3 287.5,111.4 287.0,112.4 286.5,113.4 286.0,114.4 285.5,115.3 285.0,116.2 284.5,117.1 284.0,117.9 283.5,118.7 283.0,119.5 282.5,120.2 282.0,121.0 281.5,121.7 281.0,122.4 280.5,123.1 280.0,123.8 279.5,124.5 279.0,125.1 278.5,125.8 278.0,126.5 277.5,127.2 277.0,127.9 276.5,128.5 276.0,129.2 275.5,129.9 275.0,130.5 274.5,131.2 274.0,131.9 273.5,132.5 273.0,133.2 272.5,133.8 272.0,134.4 271.5,135.1 271.0,135.7 270.5,136.4 270.0,137.0 269.5,137.6 269.0,138.3 268.5,139.0 268.0,139.6 267.5,140.3 267.0,141.0 266.5,141.6 266.0,142.3 265.5,142.9 265.0,143.6 264.5,144.2 264.0,144.7 263.5,145.3 263.0,145.8 262.5,146.3 262.0,146.8 261.5,147.2 261.0,147.7 260.5,148.1 260.0,148.6 259.5,149.0 259.0,149.4 258.5,149.8 258.0,150.2 257.5,150.6 257.0,151.0 256.5,151.3 256.0,151.6 255.5,151.9 255.0,152.1 254.5,152.3 254.0,152.5 253.5,152.7 253.0,152.8 252.5,153.0 252.0,153.1 251.5,153.3 251.0,153.4 250.5,153.5 250.0,153.6 249.5,153.7 249.0,153.7 248.5,153.8 248.0,153.8 247.5,153.8 247.0,153.8 246.5,153.7 246.0,153.6 245.5,153.6 245.0,153.5 244.5,153.4 244.0,153.3 243.5,153.2 243.0,153.0 242.5,152.9 242.0,152.8 241.5,152.7 241.0,152.6 240.5,152.5 240.0,152.4 239.5,152.2 239.0,152.1 238.5,152.0 238.0,151.8 237.5,151.7 237.0,151.5 236.5,151.4 236.0,151.2 235.5,151.0 235.0,150.9 234.5,150.7 234.0,150.5 233.5,150.4 233.0,150.2 232.5,150.0 232.0,149.8 231.5,149.7 231.0,149.5 230.5,149.3 230.0,149.1 229.5,148.9 229.0,148.7 228.5,148.5 228.0,148.3 227.5,148.1 227.0,147.9 226.5,147.7 226.0,147.4 225.5,147.2 225.0,147.0 224.5,146.8 224.0,146.5 223.5,146.3 223.0,146.1 222.5,145.9 222.0,145.6 221.5,145.4 221.0,145.2 220.5,145.0 220.0,144.7 219.5,144.5 219.0,144.3 218.5,144.1 218.0,143.8 217.5,143.6 217.0,143.4 216.5,143.2 216.0,142.9 215.5,142.7 215.0,142.5 214.5,142.3 214.0,142.0 213.5,141.8 213.0,141.6 212.5,141.3 212.0,141.1 211.5,140.9 211.0,140.7 210.5,140.4 210.0,140.2 209.5,140.0 209.0,139.8 208.5,139.5 208.0,139.3 207.5,139.1 207.0,138.9 206.5,138.7 206.0,138.5 205.5,138.3 205.0,138.0 204.5,137.8 204.0,137.6 203.5,137.4 203.0,137.2 202.5,137.0 202.0,136.8 201.5,136.6 201.0,136.4 200.5,136.2 200.0,136.0 199.5,135.8 199.0,135.6 198.5,135.4 198.0,135.2 197.5,135.0 197.0,134.7 196.5,134.5 196.0,134.4 195.5,134.2 195.0,134.0 194.5,133.8 194.0,133.6 193.5,133.5 193.0,133.3 192.5,133.2 192.0,133.1 191.5,133.0 191.0,132.9 190.5,132.8 190.0,132.7 189.5,132.7 189.0,132.6 188.5,132.5 188.0,132.4 187.5,132.4 187.0,132.3 186.5,132.2 186.0,132.2 185.5,132.1 185.0,132.1 184.5,132.0 184.0,132.0 183.5,131.9 183.0,131.9 182.5,131.8 182.0,131.8 181.5,131.7 181.0,131.7 180.5,131.7 180.0,131.7 179.5,131.6 179.0,131.6 178.5,131.6 178.0,131.6 177.5,131.6 177.0,131.6 176.5,131.6 176.0,131.6 175.5,131.6 175.0,131.6 174.5,131.6 174.0,131.6 173.5,131.6 173.0,131.6 172.5,131.6 172.0,131.6 171.5,131.6 171.0,131.6 170.5,131.6 170.0,131.5 169.5,131.5 169.0,131.5 168.5,131.5 168.0,131.5 167.5,131.5 167.0,131.5 166.5,131.5 166.0,131.5 165.5,131.5 165.0,131.5 164.5,131.5 164.0,131.5 163.5,131.5 163.0,131.5 162.5,131.5 162.0,131.5 161.5,131.5 161.0,131.5 160.5,131.5 160.0,131.5 159.5,131.5 159.0,131.5 158.5,131.5 158.0,131.5 157.5,131.5 157.0,131.5 156.5,131.5 156.0,131.5 155.5,131.5 155.0,131.5 154.5,131.5 154.0,131.5 153.5,131.5 153.0,131.5 152.5,131.5 152.0,131.5 151.5,131.5 151.0,131.5 150.5,131.5 150.0,131.5 149.5,131.5 149.0,131.5 148.5,131.5 148.0,131.5 147.5,131.5 147.0,131.5 146.5,131.5 146.0,131.5 145.5,131.5 145.0,131.6 144.5,131.6 144.0,131.6 143.5,131.6 143.0,131.6 142.5,131.6 142.0,131.7 141.5,131.7 141.0,131.7 140.5,131.7 140.0,131.7 139.5,131.8 139.0,131.8 138.5,131.8 138.0,131.9 137.5,131.9 137.0,131.9 136.5,131.9 136.0,132.0 135.5,132.0 135.0,132.0 134.5,132.1 134.0,132.1 133.5,132.2 133.0,132.2 132.5,132.3 132.0,132.3 131.5,132.4 131.0,132.6 130.5,132.7 130.0,132.9 129.5,133.0 129.0,133.2 128.5,133.4 128.0,133.6 127.5,133.9 127.0,134.1 126.5,134.3 126.0,134.5 125.5,134.8 125.0,135.0 124.5,135.2 124.0,135.5 123.5,135.8 123.0,136.0 122.5,136.3 122.0,136.6 121.5,137.0 121.0,137.3 120.5,137.6 120.0,138.0 119.5,138.4 119.0,138.7 118.5,139.1 118.0,139.5 117.5,139.9 117.0,140.3 116.5,140.8 116.0,141.2 115.5,141.7 115.0,142.2 114.5,142.7 114.0,143.2 113.5,143.7 113.0,144.3 112.5,144.9 112.0,145.5 111.5,146.2 111.0,147.0 110.5,147.9 110.0,148.7 109.5,149.6 109.0,150.5 108.5,151.3 108.0,152.1 107.5,152.9 107.0,153.5 106.5,154.0 106.0,154.4 105.5,154.7 105.0,155.0 104.5,155.3 104.0,155.6 103.5,155.9 103.0,156.1 102.5,156.3 102.0,156.5 101.5,156.7 101.0,156.8 100.5,156.9 100.0,156.9 99.5,156.7 99.0,156.1 98.5,155.3 98.0,154.2 97.5,153.0 97.0,151.7 96.5,150.5 96.0,149.3 95.5,148.3 95.0,147.6 94.5,147.1 94.0,146.6 93.5,146.1 93.0,145.6 92.5,145.2 92.0,144.8 91.5,144.5 91.0,144.2 90.5,144.1 90.0,144.0 89.5,144.0 89.0,144.1 88.5,144.3 88.0,144.5 87.5,144.7 87.0,145.0 86.5,145.3 86.0,145.6 85.5,145.9 85.0,146.2 84.5,146.6 84.0,146.9 83.5,147.2 83.0,147.5 82.5,147.7 82.0,148.0 81.5,148.2 81.0,148.5 80.5,148.7 80.0,149.0 79.5,149.2 79.0,149.4 78.5,149.7 78.0,149.9 77.5,150.2 77.0,150.4 76.5,150.7 76.0,150.9 75.5,151.2 75.0,151.5 74.5,151.8 74.0,152.1 73.5,152.4 73.0,152.7 72.5,153.0 72.0,153.3 71.5,153.7 71.0,154.0 70.5,154.3 70.0,154.7 69.5,155.0 69.0,155.4 68.5,155.7 68.0,156.1 67.5,156.5 67.0,156.8 66.5,157.2 66.0,157.6 65.5,158.0Z" fill="none" stroke="#0000ff" stroke-width="1.8" stroke-linejoin="round"/>
<path d="M65.5,159.5 66.0,158.1 66.5,156.8 67.0,155.6 67.5,154.5 68.0,153.5 68.5,152.5 69.0,151.5 69.5,150.7 70.0,150.0 70.5,149.4 71.0,148.8 71.5,148.2 72.0,147.7 72.5,147.2 73.0,146.8 73.5,146.3 74.0,145.9 74.5,145.5 75.0,145.2 75.5,144.9 76.0,144.6 76.5,144.3 77.0,144.0 77.5,143.7 78.0,143.5 78.5,143.2 79.0,143.0 79.5,142.8 80.0,142.6 80.5,142.4 81.0,142.3 81.5,142.1 82.0,141.9 82.5,141.8 83.0,141.7 83.5,141.5 84.0,141.4 84.5,141.3 85.0,141.1 85.5,141.0 86.0,140.9 86.5,140.8 87.0,140.7 87.5,140.6 88.0,140.5 88.5,140.3 89.0,140.2 89.5,140.1 90.0,140.0 90.5,139.9 91.0,139.8 91.5,139.6 92.0,139.5 92.5,139.4 93.0,139.3 93.5,139.2 94.0,139.1 94.5,139.0 95.0,138.9 95.5,138.7 96.0,138.6 96.5,138.5 97.0,138.4 97.5,138.3 98.0,138.2 98.5,138.1 99.0,138.0 99.5,137.9 100.0,137.8 100.5,137.7 101.0,137.6 101.5,137.5 102.0,137.4 102.5,137.3 103.0,137.2 103.5,137.1 104.0,137.0 104.5,136.9 105.0,136.9 105.5,136.8 106.0,136.7 106.5,136.6 107.0,136.5 107.5,136.4 108.0,136.3 108.5,136.2 109.0,136.1 109.5,136.1 110.0,136.0 110.5,135.9 111.0,135.8 111.5,135.7 112.0,135.6 112.5,135.5 113.0,135.4 113.5,135.3 114.0,135.3 114.5,135.2 115.0,135.1 115.5,135.0 116.0,134.9 116.5,134.9 117.0,134.8 117.5,134.7 118.0,134.6 118.5,134.5 119.0,134.4 119.5,134.3 120.0,134.2 120.5,134.1 121.0,134.0 121.5,133.8 122.0,133.7 122.5,133.5 123.0,133.3 123.5,133.1 124.0,132.9 124.5,132.6 125.0,132.3 125.5,132.0 126.0,131.7 126.5,131.4 127.0,131.1 127.5,130.7 128.0,130.4 128.5,130.0 129.0,129.7 129.5,129.4 130.0,129.0 130.5,128.7 131.0,128.4 131.5,128.0 132.0,127.6 132.5,127.2 133.0,126.8 133.5,126.5 134.0,126.1 134.5,125.8 135.0,125.5 135.5,125.2 136.0,125.0 136.5,124.8 137.0,124.5 137.5,124.3 138.0,124.0 138.5,123.8 139.0,123.6 139.5,123.5 140.0,123.4 140.5,123.3 141.0,123.2 141.5,123.2 142.0,123.4 142.5,123.6 143.0,124.0 143.5,124.4 144.0,124.8 144.5,125.3 145.0,125.8 145.5,126.2 146.0,126.5 146.5,126.8 147.0,127.0 147.5,127.3 148.0,127.5 148.5,127.7 149.0,127.9 149.5,128.0 150.0,128.0 150.5,128.0 151.0,127.9 151.5,127.8 152.0,127.7 152.5,127.6 153.0,127.4 153.5,127.2 154.0,127.0 154.5,126.8 155.0,126.5 155.5,126.3 156.0,126.0 156.5,125.8 157.0,125.5 157.5,125.3 158.0,125.0 158.5,124.7 159.0,124.4 159.5,124.0 160.0,123.6 160.5,123.3 161.0,122.8 161.5,122.4 162.0,122.0 162.5,121.5 163.0,121.1 163.5,120.6 164.0,120.2 164.5,119.8 165.0,119.2 165.5,118.7 166.0,118.1 166.5,117.5 167.0,117.0 167.5,116.5 168.0,116.2 168.5,115.9 169.0,115.7 169.5,115.6 170.0,115.4 170.5,115.3 171.0,115.2 171.5,115.0 172.0,114.9 172.5,114.7 173.0,114.6 173.5,114.4 174.0,114.3 174.5,114.2 175.0,114.2 175.5,114.2 176.0,114.2 176.5,114.2 177.0,114.2 177.5,114.2 178.0,114.2 178.5,114.2 179.0,114.3 179.5,114.3 180.0,114.3 180.5,114.3 181.0,114.3 181.5,114.3 182.0,114.4 182.5,114.4 183.0,114.4 183.5,114.4 184.0,114.5 184.5,114.5 185.0,114.5 185.5,114.5 186.0,114.6 186.5,114.6 187.0,114.6 187.5,114.7 188.0,114.7 188.5,114.7 189.0,114.7 189.5,114.8 190.0,114.8 190.5,114.8 191.0,114.9 191.5,114.9 192.0,114.9 192.5,114.9 193.0,115.0 193.5,115.0 194.0,115.0 194.5,115.1 195.0,115.1 195.5,115.1 196.0,115.1 196.5,115.2 197.0,115.2 197.5,115.2 198.0,115.2 198.5,115.3 199.0,115.3 199.5,115.3 200.0,115.3 200.5,115.3 201.0,115.3 201.5,115.4 202.0,115.4 202.5,115.4 203.0,115.4 203.5,115.4 204.0,115.4 204.5,115.4 205.0,115.4 205.5,115.4 206.0,115.4 206.5,115.4 207.0,115.4 207.5,115.3 208.0,115.3 208.5,115.3 209.0,115.3 209.5,115.2 210.0,115.2 210.5,115.1 211.0,115.1 211.5,115.0 212.0,115.0 212.5,114.9 213.0,114.9 213.5,114.8 214.0,114.7 214.5,114.7 215.0,114.6 215.5,114.5 216.0,114.4 216.5,114.4 217.0,114.3 217.5,114.2 218.0,114.1 218.5,114.0 219.0,113.9 219.5,113.8 220.0,113.7 220.5,113.6 221.0,113.5 221.5,113.4 222.0,113.3 222.5,113.2 223.0,113.1 223.5,113.0 224.0,112.9 224.5,112.8 225.0,112.7 225.5,112.6 226.0,112.5 226.5,112.4 227.0,112.2 227.5,112.1 228.0,112.0 228.5,111.9 229.0,111.8 229.5,111.7 230.0,111.6 230.5,111.5 231.0,111.4 231.5,111.2 232.0,111.1 232.5,111.0 233.0,110.9 233.5,110.8 234.0,110.7 234.5,110.6 235.0,110.5 235.5,110.4 236.0,110.3 236.5,110.2 237.0,110.1 237.5,109.9 238.0,109.8 238.5,109.7 239.0,109.6 239.5,109.4 240.0,109.3 240.5,109.2 241.0,109.1 241.5,108.9 242.0,108.8 242.5,108.6 243.0,108.5 243.5,108.4 244.0,108.2 244.5,108.1 245.0,108.0 245.5,107.8 246.0,107.7 246.5,107.5 247.0,107.4 247.5,107.3 248.0,107.1 248.5,107.0 249.0,106.9 249.5,106.7 250.0,106.6 250.5,106.4 251.0,106.3 251.5,106.2 252.0,106.0 252.5,105.9 253.0,105.8 253.5,105.6 254.0,105.5 254.5,105.3 255.0,105.2 255.5,105.1 256.0,104.9 256.5,104.8 257.0,104.6 257.5,104.5 258.0,104.3 258.5,104.1 259.0,104.0 259.5,103.8 260.0,103.7 260.5,103.5 261.0,103.3 261.5,103.1 262.0,103.0 262.5,102.8 263.0,102.6 263.5,102.4 264.0,102.2 264.5,102.0 265.0,101.8 265.5,101.6 266.0,101.4 266.5,101.2 267.0,101.0 267.5,100.8 268.0,100.5 268.5,100.3 269.0,100.1 269.5,99.9 270.0,99.6 270.5,99.4 271.0,99.1 271.5,98.9 272.0,98.6 272.5,98.4 273.0,98.1 273.5,97.8 274.0,97.6 274.5,97.3 275.0,97.0 275.5,96.7 276.0,96.4 276.5,96.1 277.0,95.8 277.5,95.5 278.0,95.2 278.5,94.9 279.0,94.6 279.5,94.3 280.0,93.9 280.5,93.6 281.0,93.2 281.5,92.8 282.0,92.4 282.5,92.0 283.0,91.6 283.5,91.1 284.0,90.7 284.5,90.3 285.0,89.8 285.5,89.4 286.0,88.9 286.5,88.5 287.0,88.0 287.5,87.5 288.0,87.1 288.5,86.6 289.0,86.2 289.5,85.7 290.0,85.2 290.5,84.7 291.0,84.2 291.5,83.7 292.0,83.2 292.5,82.7 293.0,82.1 293.5,81.6 294.0,81.0 294.5,80.4 295.0,79.8 295.5,79.2 296.0,78.5 296.5,77.9 297.0,77.2 297.5,76.5 298.0,75.8 298.5,75.0 299.0,74.3 299.5,73.5 300.0,72.8 300.5,72.0 300.5,72.0 300.0,73.7 299.5,75.4 299.0,77.1 298.5,78.9 298.0,80.6 297.5,82.4 297.0,84.2 296.5,86.1 296.0,88.0 295.5,90.0 295.0,91.8 294.5,93.6 294.0,95.1 293.5,96.4 293.0,97.6 292.5,98.6 292.0,99.7 291.5,100.6 291.0,101.6 290.5,102.7 290.0,103.7 289.5,104.8 289.0,105.9 288.5,107.0 288.0,108.1 287.5,109.2 287.0,110.3 286.5,111.4 286.0,112.4 285.5,113.5 285.0,114.5 284.5,115.4 284.0,116.3 283.5,117.2 283.0,118.1 282.5,119.0 282.0,119.8 281.5,120.6 281.0,121.4 280.5,122.2 280.0,123.0 279.5,123.8 279.0,124.5 278.5,125.3 278.0,126.0 277.5,126.7 277.0,127.5 276.5,128.2 276.0,128.9 275.5,129.6 275.0,130.3 274.5,131.0 274.0,131.7 273.5,132.3 273.0,133.0 272.5,133.7 272.0,134.3 271.5,135.0 271.0,135.6 270.5,136.3 270.0,136.9 269.5,137.6 269.0,138.2 268.5,138.8 268.0,139.5 267.5,140.1 267.0,140.7 266.5,141.4 266.0,142.0 265.5,142.6 265.0,143.3 264.5,144.0 264.0,144.6 263.5,145.3 263.0,146.0 262.5,146.7 262.0,147.3 261.5,148.0 261.0,148.6 260.5,149.3 260.0,149.9 259.5,150.5 259.0,151.0 258.5,151.5 258.0,152.0 257.5,152.4 257.0,152.8 256.5,153.2 256.0,153.5 255.5,153.8 255.0,154.1 254.5,154.4 254.0,154.7 253.5,154.9 253.0,155.2 252.5,155.4 252.0,155.7 251.5,155.9 251.0,156.1 250.5,156.3 250.0,156.5 249.5,156.7 249.0,156.9 248.5,157.1 248.0,157.3 247.5,157.5 247.0,157.7 246.5,157.9 246.0,158.1 245.5,158.2 245.0,158.3 244.5,158.4 244.0,158.5 243.5,158.6 243.0,158.6 242.5,158.6 242.0,158.6 241.5,158.6 241.0,158.5 240.5,158.5 240.0,158.4 239.5,158.4 239.0,158.3 238.5,158.3 238.0,158.2 237.5,158.1 237.0,158.1 236.5,158.0 236.0,157.9 235.5,157.8 235.0,157.7 234.5,157.6 234.0,157.4 233.5,157.3 233.0,157.2 232.5,157.0 232.0,156.9 231.5,156.7 231.0,156.6 230.5,156.4 230.0,156.2 229.5,156.0 229.0,155.9 228.5,155.6 228.0,155.4 227.5,155.2 227.0,154.9 226.5,154.7 226.0,154.4 225.5,154.2 225.0,153.9 224.5,153.6 224.0,153.3 223.5,153.0 223.0,152.8 222.5,152.5 222.0,152.2 221.5,151.9 221.0,151.6 220.5,151.3 220.0,151.1 219.5,150.8 219.0,150.5 218.5,150.2 218.0,149.9 217.5,149.6 217.0,149.3 216.5,149.0 216.0,148.7 215.5,148.4 215.0,148.1 214.5,147.8 214.0,147.5 213.5,147.1 213.0,146.8 212.5,146.5 212.0,146.2 211.5,145.9 211.0,145.6 210.5,145.3 210.0,145.1 209.5,144.8 209.0,144.5 208.5,144.2 208.0,143.9 207.5,143.7 207.0,143.4 206.5,143.1 206.0,142.8 205.5,142.5 205.0,142.3 204.5,142.0 204.0,141.7 203.5,141.5 203.0,141.2 202.5,140.9 202.0,140.7 201.5,140.4 201.0,140.1 200.5,139.9 200.0,139.6 199.5,139.3 199.0,139.1 198.5,138.8 198.0,138.6 197.5,138.3 197.0,138.0 196.5,137.7 196.0,137.5 195.5,137.2 195.0,136.9 194.5,136.6 194.0,136.3 193.5,136.0 193.0,135.7 192.5,135.4 192.0,135.2 191.5,134.9 191.0,134.7 190.5,134.4 190.0,134.2 189.5,134.0 189.0,133.8 188.5,133.6 188.0,133.5 187.5,133.4 187.0,133.2 186.5,133.1 186.0,133.0 185.5,132.8 185.0,132.7 184.5,132.6 184.0,132.4 183.5,132.3 183.0,132.2 182.5,132.1 182.0,132.0 181.5,131.9 181.0,131.8 180.5,131.8 180.0,131.7 179.5,131.7 179.0,131.6 178.5,131.6 178.0,131.6 177.5,131.6 177.0,131.6 176.5,131.6 176.0,131.6 175.5,131.6 175.0,131.6 174.5,131.6 174.0,131.6 173.5,131.6 173.0,131.6 172.5,131.6 172.0,131.6 171.5,131.6 171.0,131.6 170.5,131.5 170.0,131.5 169.5,131.5 169.0,131.5 168.5,131.5 168.0,131.5 167.5,131.5 167.0,131.5 166.5,131.5 166.0,131.5 165.5,131.5 165.0,131.5 164.5,131.5 164.0,131.5 163.5,131.5 163.0,131.5 162.5,131.5 162.0,131.5 161.5,131.5 161.0,131.5 160.5,131.5 160.0,131.5 159.5,131.5 159.0,131.5 158.5,131.5 158.0,131.5 157.5,131.5 157.0,131.5 156.5,131.5 156.0,131.5 155.5,131.5 155.0,131.5 154.5,131.5 154.0,131.5 153.5,131.5 153.0,131.5 152.5,131.5 152.0,131.5 151.5,131.5 151.0,131.5 150.5,131.5 150.0,131.5 149.5,131.5 149.0,131.5 148.5,131.5 148.0,131.5 147.5,131.5 147.0,131.5 146.5,131.5 146.0,131.5 145.5,131.5 145.0,131.6 144.5,131.6 144.0,131.6 143.5,131.6 143.0,131.6 142.5,131.6 142.0,131.7 141.5,131.7 141.0,131.7 140.5,131.7 140.0,131.7 139.5,131.8 139.0,131.8 138.5,131.8 138.0,131.9 137.5,131.9 137.0,131.9 136.5,131.9 136.0,132.0 135.5,132.0 135.0,132.0 134.5,132.1 134.0,132.1 133.5,132.2 133.0,132.2 132.5,132.3 132.0,132.3 131.5,132.4 131.0,132.6 130.5,132.7 130.0,132.8 129.5,133.0 129.0,133.2 128.5,133.4 128.0,133.6 127.5,133.8 127.0,134.1 126.5,134.3 126.0,134.5 125.5,134.8 125.0,135.0 124.5,135.2 124.0,135.5 123.5,135.8 123.0,136.1 122.5,136.4 122.0,136.8 121.5,137.1 121.0,137.5 120.5,137.9 120.0,138.3 119.5,138.7 119.0,139.2 118.5,139.6 118.0,140.1 117.5,140.5 117.0,141.0 116.5,141.5 116.0,142.1 115.5,142.7 115.0,143.3 114.5,144.0 114.0,144.6 113.5,145.3 113.0,146.0 112.5,146.7 112.0,147.5 111.5,148.2 111.0,148.8 110.5,149.6 110.0,150.3 109.5,151.1 109.0,151.9 108.5,152.8 108.0,153.6 107.5,154.4 107.0,155.1 106.5,155.8 106.0,156.4 105.5,156.9 105.0,157.3 104.5,157.7 104.0,158.0 103.5,158.3 103.0,158.6 102.5,158.9 102.0,159.2 101.5,159.4 101.0,159.6 100.5,159.8 100.0,159.9 99.5,160.0 99.0,160.0 98.5,159.9 98.0,159.5 97.5,159.0 97.0,158.4 96.5,157.8 96.0,157.1 95.5,156.3 95.0,155.3 94.5,154.2 94.0,153.1 93.5,152.0 93.0,151.0 92.5,150.1 92.0,149.5 91.5,148.8 91.0,148.1 90.5,147.5 90.0,146.8 89.5,146.3 89.0,145.9 88.5,145.5 88.0,145.3 87.5,145.2 87.0,145.2 86.5,145.3 86.0,145.5 85.5,145.6 85.0,145.9 84.5,146.1 84.0,146.4 83.5,146.7 83.0,147.0 82.5,147.4 82.0,147.7 81.5,148.0 81.0,148.4 80.5,148.7 80.0,149.0 79.5,149.3 79.0,149.6 78.5,149.9 78.0,150.2 77.5,150.6 77.0,150.9 76.5,151.3 76.0,151.6 75.5,152.0 75.0,152.3 74.5,152.7 74.0,153.0 73.5,153.4 73.0,153.8 72.5,154.1 72.0,154.5 71.5,154.9 71.0,155.2 70.5,155.6 70.0,156.0 69.5,156.4 69.0,156.7 68.5,157.1 68.0,157.5 67.5,157.9 67.0,158.3 66.5,158.7 66.0,159.1 65.5,159.5Z" fill="none" stroke="#00ffff" stroke-width="1.8" stroke-linejoin="round"/>
<path d="M65.5,162.0 66.0,160.8 66.5,159.6 67.0,158.5 67.5,157.5 68.0,156.6 68.5,155.7 69.0,154.8 69.5,154.0 70.0,153.3 70.5,152.6 71.0,152.0 71.5,151.4 72.0,150.8 72.5,150.3 73.0,149.7 73.5,149.2 74.0,148.7 74.5,148.3 75.0,147.8 75.5,147.3 76.0,146.9 76.5,146.5 77.0,146.0 77.5,145.6 78.0,145.2 78.5,144.9 79.0,144.5 79.5,144.2 80.0,144.0 80.5,143.8 81.0,143.6 81.5,143.4 82.0,143.2 82.5,143.0 83.0,142.9 83.5,142.7 84.0,142.6 84.5,142.4 85.0,142.3 85.5,142.2 86.0,142.0 86.5,141.9 87.0,141.8 87.5,141.7 88.0,141.5 88.5,141.4 89.0,141.3 89.5,141.1 90.0,141.0 90.5,140.9 91.0,140.7 91.5,140.6 92.0,140.4 92.5,140.3 93.0,140.1 93.5,140.0 94.0,139.9 94.5,139.7 95.0,139.6 95.5,139.5 96.0,139.3 96.5,139.2 97.0,139.1 97.5,138.9 98.0,138.8 98.5,138.7 99.0,138.5 99.5,138.4 100.0,138.3 100.5,138.2 101.0,138.1 101.5,138.0 102.0,137.8 102.5,137.7 103.0,137.6 103.5,137.5 104.0,137.4 104.5,137.3 105.0,137.2 105.5,137.1 106.0,137.0 106.5,136.9 107.0,136.8 107.5,136.7 108.0,136.6 108.5,136.5 109.0,136.4 109.5,136.3 110.0,136.2 110.5,136.1 111.0,136.0 111.5,135.9 112.0,135.8 112.5,135.7 113.0,135.6 113.5,135.5 114.0,135.4 114.5,135.4 115.0,135.3 115.5,135.2 116.0,135.1 116.5,135.0 117.0,135.0 117.5,134.9 118.0,134.8 118.5,134.7 119.0,134.6 119.5,134.5 120.0,134.4 120.5,134.2 121.0,134.1 121.5,134.0 122.0,133.8 122.5,133.6 123.0,133.4 123.5,133.1 124.0,132.7 124.5,132.4 125.0,132.0 125.5,131.6 126.0,131.2 126.5,130.7 127.0,130.3 127.5,129.9 128.0,129.5 128.5,129.1 129.0,128.7 129.5,128.4 130.0,128.0 130.5,127.6 131.0,127.2 131.5,126.8 132.0,126.4 132.5,126.1 133.0,125.7 133.5,125.4 134.0,125.0 134.5,124.8 135.0,124.5 135.5,124.3 136.0,124.1 136.5,123.9 137.0,123.7 137.5,123.5 138.0,123.3 138.5,123.1 139.0,123.0 139.5,122.8 140.0,122.7 140.5,122.6 141.0,122.5 141.5,122.5 142.0,122.5 142.5,122.6 143.0,122.8 143.5,123.1 144.0,123.4 144.5,123.8 145.0,124.2 145.5,124.6 146.0,125.0 146.5,125.3 147.0,125.6 147.5,125.8 148.0,126.0 148.5,126.3 149.0,126.5 149.5,126.7 150.0,126.8 150.5,126.8 151.0,126.8 151.5,126.7 152.0,126.6 152.5,126.5 153.0,126.3 153.5,126.1 154.0,125.9 154.5,125.6 155.0,125.4 155.5,125.1 156.0,124.8 156.5,124.5 157.0,124.2 157.5,123.9 158.0,123.6 158.5,123.3 159.0,122.9 159.5,122.5 160.0,122.1 160.5,121.7 161.0,121.2 161.5,120.8 162.0,120.3 162.5,119.8 163.0,119.3 163.5,118.8 164.0,118.4 164.5,117.9 165.0,117.4 165.5,116.9 166.0,116.3 166.5,115.7 167.0,115.2 167.5,114.6 168.0,114.1 168.5,113.7 169.0,113.4 169.5,113.2 170.0,113.0 170.5,112.8 171.0,112.6 171.5,112.5 172.0,112.3 172.5,112.2 173.0,112.0 173.5,111.9 174.0,111.8 174.5,111.7 175.0,111.7 175.5,111.7 176.0,111.7 176.5,111.7 177.0,111.7 177.5,111.7 178.0,111.7 178.5,111.7 179.0,111.7 179.5,111.7 180.0,111.7 180.5,111.8 181.0,111.8 181.5,111.8 182.0,111.8 182.5,111.8 183.0,111.8 183.5,111.8 184.0,111.8 184.5,111.8 185.0,111.9 185.5,111.9 186.0,111.9 186.5,111.9 187.0,111.9 187.5,111.9 188.0,111.9 188.5,112.0 189.0,112.0 189.5,112.0 190.0,112.0 190.5,112.0 191.0,112.0 191.5,112.0 192.0,112.1 192.5,112.1 193.0,112.1 193.5,112.1 194.0,112.1 194.5,112.1 195.0,112.1 195.5,112.2 196.0,112.2 196.5,112.2 197.0,112.2 197.5,112.2 198.0,112.2 198.5,112.2 199.0,112.2 199.5,112.2 200.0,112.3 200.5,112.3 201.0,112.3 201.5,112.3 202.0,112.3 202.5,112.3 203.0,112.3 203.5,112.3 204.0,112.3 204.5,112.3 205.0,112.3 205.5,112.3 206.0,112.3 206.5,112.3 207.0,112.2 207.5,112.2 208.0,112.1 208.5,112.0 209.0,112.0 209.5,111.9 210.0,111.8 210.5,111.7 211.0,111.6 211.5,111.5 212.0,111.3 212.5,111.2 213.0,111.1 213.5,110.9 214.0,110.8 214.5,110.6 215.0,110.5 215.5,110.3 216.0,110.1 216.5,110.0 217.0,109.8 217.5,109.6 218.0,109.4 218.5,109.2 219.0,109.0 219.5,108.8 220.0,108.6 220.5,108.4 221.0,108.2 221.5,108.0 222.0,107.8 222.5,107.6 223.0,107.4 223.5,107.2 224.0,107.0 224.5,106.8 225.0,106.6 225.5,106.4 226.0,106.2 226.5,106.0 227.0,105.8 227.5,105.6 228.0,105.4 228.5,105.2 229.0,105.0 229.5,104.8 230.0,104.6 230.5,104.4 231.0,104.2 231.5,104.1 232.0,103.9 232.5,103.7 233.0,103.6 233.5,103.4 234.0,103.3 234.5,103.1 235.0,103.0 235.5,102.9 236.0,102.7 236.5,102.6 237.0,102.5 237.5,102.4 238.0,102.3 238.5,102.2 239.0,102.1 239.5,102.0 240.0,101.9 240.5,101.8 241.0,101.6 241.5,101.5 242.0,101.4 242.5,101.3 243.0,101.2 243.5,101.1 244.0,101.0 244.5,100.9 245.0,100.7 245.5,100.6 246.0,100.5 246.5,100.3 247.0,100.2 247.5,100.1 248.0,99.9 248.5,99.7 249.0,99.6 249.5,99.4 250.0,99.2 250.5,99.1 251.0,98.9 251.5,98.7 252.0,98.5 252.5,98.3 253.0,98.1 253.5,97.9 254.0,97.7 254.5,97.5 255.0,97.3 255.5,97.1 256.0,96.9 256.5,96.7 257.0,96.5 257.5,96.3 258.0,96.0 258.5,95.8 259.0,95.6 259.5,95.4 260.0,95.2 260.5,94.9 261.0,94.7 261.5,94.5 262.0,94.3 262.5,94.0 263.0,93.8 263.5,93.6 264.0,93.3 264.5,93.1 265.0,92.9 265.5,92.7 266.0,92.4 266.5,92.2 267.0,92.0 267.5,91.8 268.0,91.5 268.5,91.3 269.0,91.1 269.5,90.8 270.0,90.6 270.5,90.3 271.0,90.1 271.5,89.8 272.0,89.6 272.5,89.3 273.0,89.1 273.5,88.8 274.0,88.5 274.5,88.2 275.0,88.0 275.5,87.7 276.0,87.4 276.5,87.1 277.0,86.8 277.5,86.5 278.0,86.2 278.5,85.8 279.0,85.5 279.5,85.2 280.0,84.8 280.5,84.4 281.0,84.0 281.5,83.6 282.0,83.2 282.5,82.7 283.0,82.3 283.5,81.8 284.0,81.3 284.5,80.9 285.0,80.4 285.5,79.9 286.0,79.4 286.5,79.0 287.0,78.5 287.5,78.0 288.0,77.5 288.5,77.1 289.0,76.6 289.5,76.1 290.0,75.6 290.5,75.1 291.0,74.6 291.5,74.0 292.0,73.5 292.5,73.0 293.0,72.5 293.5,72.0 294.0,71.5 294.5,71.0 295.0,70.5 295.5,70.0 296.0,69.5 296.5,69.0 297.0,68.5 297.5,68.0 298.0,67.5 298.5,66.9 299.0,66.4 299.5,65.9 300.0,65.4 300.5,64.9 300.5,64.9 300.0,66.4 299.5,68.0 299.0,69.6 298.5,71.2 298.0,72.9 297.5,74.6 297.0,76.3 296.5,78.0 296.0,79.9 295.5,81.8 295.0,83.9 294.5,86.0 294.0,88.1 293.5,90.1 293.0,91.9 292.5,93.5 292.0,94.8 291.5,96.0 291.0,97.1 290.5,98.1 290.0,99.2 289.5,100.3 289.0,101.5 288.5,102.6 288.0,103.8 287.5,104.9 287.0,106.1 286.5,107.2 286.0,108.4 285.5,109.5 285.0,110.7 284.5,111.8 284.0,112.9 283.5,114.0 283.0,115.1 282.5,116.2 282.0,117.3 281.5,118.4 281.0,119.4 280.5,120.5 280.0,121.5 279.5,122.6 279.0,123.6 278.5,124.5 278.0,125.5 277.5,126.4 277.0,127.4 276.5,128.3 276.0,129.1 275.5,130.0 275.0,130.9 274.5,131.7 274.0,132.6 273.5,133.4 273.0,134.2 272.5,135.0 272.0,135.9 271.5,136.7 271.0,137.5 270.5,138.3 270.0,139.1 269.5,140.0 269.0,140.8 268.5,141.6 268.0,142.4 267.5,143.2 267.0,144.0 266.5,144.8 266.0,145.5 265.5,146.3 265.0,147.1 264.5,147.8 264.0,148.5 263.5,149.2 263.0,149.9 262.5,150.6 262.0,151.3 261.5,151.9 261.0,152.6 260.5,153.3 260.0,153.9 259.5,154.5 259.0,155.2 258.5,155.8 258.0,156.4 257.5,156.9 257.0,157.5 256.5,158.1 256.0,158.6 255.5,159.2 255.0,159.7 254.5,160.2 254.0,160.8 253.5,161.3 253.0,161.8 252.5,162.3 252.0,162.7 251.5,163.2 251.0,163.6 250.5,164.0 250.0,164.3 249.5,164.6 249.0,164.9 248.5,165.3 248.0,165.6 247.5,165.9 247.0,166.1 246.5,166.4 246.0,166.7 245.5,166.9 245.0,167.1 244.5,167.3 244.0,167.5 243.5,167.7 243.0,167.8 242.5,167.9 242.0,168.0 241.5,168.2 241.0,168.3 240.5,168.4 240.0,168.5 239.5,168.6 239.0,168.7 238.5,168.7 238.0,168.8 237.5,168.8 237.0,168.8 236.5,168.8 236.0,168.8 235.5,168.7 235.0,168.7 234.5,168.6 234.0,168.6 233.5,168.5 233.0,168.4 232.5,168.4 232.0,168.3 231.5,168.2 231.0,168.0 230.5,167.9 230.0,167.8 229.5,167.6 229.0,167.4 228.5,167.3 228.0,167.1 227.5,166.9 227.0,166.7 226.5,166.5 226.0,166.3 225.5,166.1 225.0,165.9 224.5,165.7 224.0,165.4 223.5,165.2 223.0,164.9 222.5,164.7 222.0,164.4 221.5,164.1 221.0,163.8 220.5,163.5 220.0,163.2 219.5,162.8 219.0,162.5 218.5,162.1 218.0,161.8 217.5,161.4 217.0,161.1 216.5,160.7 216.0,160.4 215.5,160.0 215.0,159.6 214.5,159.2 214.0,158.8 213.5,158.4 213.0,158.0 212.5,157.6 212.0,157.2 211.5,156.7 211.0,156.3 210.5,155.8 210.0,155.4 209.5,155.0 209.0,154.5 208.5,154.1 208.0,153.7 207.5,153.2 207.0,152.8 206.5,152.4 206.0,152.0 205.5,151.5 205.0,151.1 204.5,150.7 204.0,150.3 203.5,149.8 203.0,149.4 202.5,149.0 202.0,148.5 201.5,148.1 201.0,147.7 200.5,147.3 200.0,146.8 199.5,146.4 199.0,146.0 198.5,145.6 198.0,145.2 197.5,144.8 197.0,144.3 196.5,143.9 196.0,143.5 195.5,143.1 195.0,142.7 194.5,142.3 194.0,141.9 193.5,141.5 193.0,141.1 192.5,140.7 192.0,140.3 191.5,140.0 191.0,139.6 190.5,139.2 190.0,138.8 189.5,138.4 189.0,138.0 188.5,137.6 188.0,137.3 187.5,136.9 187.0,136.5 186.5,136.1 186.0,135.7 185.5,135.4 185.0,135.0 184.5,134.7 184.0,134.4 183.5,134.1 183.0,133.8 182.5,133.5 182.0,133.3 181.5,133.0 181.0,132.7 180.5,132.4 180.0,132.2 179.5,132.0 179.0,131.8 178.5,131.7 178.0,131.7 177.5,131.7 177.0,131.7 176.5,131.7 176.0,131.7 175.5,131.7 175.0,131.7 174.5,131.6 174.0,131.6 173.5,131.6 173.0,131.6 172.5,131.6 172.0,131.6 171.5,131.6 171.0,131.6 170.5,131.6 170.0,131.6 169.5,131.6 169.0,131.6 168.5,131.6 168.0,131.6 167.5,131.6 167.0,131.6 166.5,131.6 166.0,131.6 165.5,131.5 165.0,131.5 164.5,131.5 164.0,131.5 163.5,131.5 163.0,131.5 162.5,131.5 162.0,131.5 161.5,131.5 161.0,131.5 160.5,131.5 160.0,131.5 159.5,131.5 159.0,131.5 158.5,131.5 158.0,131.5 157.5,131.5 157.0,131.5 156.5,131.5 156.0,131.5 155.5,131.5 155.0,131.5 154.5,131.5 154.0,131.5 153.5,131.5 153.0,131.5 152.5,131.5 152.0,131.5 151.5,131.5 151.0,131.5 150.5,131.5 150.0,131.5 149.5,131.5 149.0,131.5 148.5,131.5 148.0,131.5 147.5,131.5 147.0,131.5 146.5,131.5 146.0,131.5 145.5,131.6 145.0,131.6 144.5,131.6 144.0,131.6 143.5,131.6 143.0,131.6 142.5,131.7 142.0,131.7 141.5,131.7 141.0,131.7 140.5,131.7 140.0,131.8 139.5,131.8 139.0,131.8 138.5,131.9 138.0,131.9 137.5,131.9 137.0,132.0 136.5,132.0 136.0,132.0 135.5,132.1 135.0,132.1 134.5,132.2 134.0,132.2 133.5,132.3 133.0,132.3 132.5,132.4 132.0,132.5 131.5,132.6 131.0,132.7 130.5,132.9 130.0,133.1 129.5,133.3 129.0,133.6 128.5,133.8 128.0,134.0 127.5,134.3 127.0,134.5 126.5,134.7 126.0,135.0 125.5,135.3 125.0,135.6 124.5,135.9 124.0,136.2 123.5,136.6 123.0,136.9 122.5,137.3 122.0,137.7 121.5,138.1 121.0,138.5 120.5,138.9 120.0,139.4 119.5,139.9 119.0,140.4 118.5,140.9 118.0,141.5 117.5,142.0 117.0,142.6 116.5,143.2 116.0,143.8 115.5,144.4 115.0,145.0 114.5,145.6 114.0,146.2 113.5,146.9 113.0,147.5 112.5,148.2 112.0,148.8 111.5,149.5 111.0,150.2 110.5,150.9 110.0,151.6 109.5,152.4 109.0,153.1 108.5,153.9 108.0,154.7 107.5,155.6 107.0,156.6 106.5,157.7 106.0,158.7 105.5,159.8 105.0,160.8 104.5,161.7 104.0,162.6 103.5,163.3 103.0,163.8 102.5,164.2 102.0,164.5 101.5,164.7 101.0,165.0 100.5,165.2 100.0,165.4 99.5,165.6 99.0,165.8 98.5,165.9 98.0,166.0 97.5,166.1 97.0,166.2 96.5,166.3 96.0,166.3 95.5,166.2 95.0,166.0 94.5,165.5 94.0,164.8 93.5,164.1 93.0,163.3 92.5,162.5 92.0,161.8 91.5,160.8 91.0,159.7 90.5,158.6 90.0,157.4 89.5,156.2 89.0,155.1 88.5,154.1 88.0,153.2 87.5,152.5 87.0,151.9 86.5,151.3 86.0,150.7 85.5,150.2 85.0,149.7 84.5,149.2 84.0,148.8 83.5,148.5 83.0,148.4 82.5,148.3 82.0,148.4 81.5,148.7 81.0,149.0 80.5,149.5 80.0,149.9 79.5,150.4 79.0,150.8 78.5,151.1 78.0,151.5 77.5,151.8 77.0,152.1 76.5,152.4 76.0,152.7 75.5,153.1 75.0,153.4 74.5,153.7 74.0,154.0 73.5,154.4 73.0,154.7 72.5,155.1 72.0,155.5 71.5,155.9 71.0,156.3 70.5,156.8 70.0,157.2 69.5,157.7 69.0,158.2 68.5,158.7 68.0,159.2 67.5,159.8 67.0,160.3 66.5,160.9 66.0,161.4 65.5,162.0Z" fill="none" stroke="#ff00ff" stroke-width="1.8" stroke-linejoin="round"/>
<path d="M65.5,164.9 66.0,163.9 66.5,162.9 67.0,161.9 67.5,161.0 68.0,160.1 68.5,159.3 69.0,158.5 69.5,157.7 70.0,157.0 70.5,156.3 71.0,155.5 71.5,154.8 72.0,154.1 72.5,153.4 73.0,152.8 73.5,152.1 74.0,151.5 74.5,150.9 75.0,150.3 75.5,149.7 76.0,149.2 76.5,148.6 77.0,148.1 77.5,147.6 78.0,147.1 78.5,146.6 79.0,146.2 79.5,145.8 80.0,145.5 80.5,145.2 81.0,144.9 81.5,144.7 82.0,144.4 82.5,144.2 83.0,144.0 83.5,143.8 84.0,143.6 84.5,143.4 85.0,143.2 85.5,143.0 86.0,142.8 86.5,142.7 87.0,142.5 87.5,142.4 88.0,142.2 88.5,142.0 89.0,141.9 89.5,141.7 90.0,141.6 90.5,141.4 91.0,141.3 91.5,141.2 92.0,141.0 92.5,140.9 93.0,140.7 93.5,140.6 94.0,140.4 94.5,140.3 95.0,140.1 95.5,140.0 96.0,139.9 96.5,139.7 97.0,139.6 97.5,139.5 98.0,139.3 98.5,139.2 99.0,139.1 99.5,138.9 100.0,138.8 100.5,138.7 101.0,138.5 101.5,138.4 102.0,138.3 102.5,138.2 103.0,138.1 103.5,137.9 104.0,137.8 104.5,137.7 105.0,137.6 105.5,137.5 106.0,137.4 106.5,137.2 107.0,137.1 107.5,137.0 108.0,136.9 108.5,136.8 109.0,136.7 109.5,136.6 110.0,136.5 110.5,136.3 111.0,136.2 111.5,136.1 112.0,136.0 112.5,135.9 113.0,135.8 113.5,135.7 114.0,135.6 114.5,135.5 115.0,135.4 115.5,135.3 116.0,135.2 116.5,135.1 117.0,135.0 117.5,134.9 118.0,134.8 118.5,134.7 119.0,134.5 119.5,134.4 120.0,134.2 120.5,134.0 121.0,133.8 121.5,133.5 122.0,133.2 122.5,132.8 123.0,132.5 123.5,132.1 124.0,131.7 124.5,131.3 125.0,130.9 125.5,130.5 126.0,130.0 126.5,129.6 127.0,129.2 127.5,128.9 128.0,128.5 128.5,128.1 129.0,127.8 129.5,127.4 130.0,127.0 130.5,126.6 131.0,126.2 131.5,125.8 132.0,125.4 132.5,125.1 133.0,124.7 133.5,124.4 134.0,124.2 134.5,123.9 135.0,123.7 135.5,123.5 136.0,123.3 136.5,123.1 137.0,123.0 137.5,122.8 138.0,122.6 138.5,122.5 139.0,122.3 139.5,122.2 140.0,122.1 140.5,122.0 141.0,121.9 141.5,121.8 142.0,121.8 142.5,121.8 143.0,121.9 143.5,122.1 144.0,122.3 144.5,122.6 145.0,123.0 145.5,123.3 146.0,123.7 146.5,124.0 147.0,124.3 147.5,124.5 148.0,124.8 148.5,125.0 149.0,125.2 149.5,125.4 150.0,125.6 150.5,125.7 151.0,125.8 151.5,125.8 152.0,125.7 152.5,125.6 153.0,125.4 153.5,125.2 154.0,124.9 154.5,124.6 155.0,124.3 155.5,124.0 156.0,123.7 156.5,123.4 157.0,123.1 157.5,122.7 158.0,122.4 158.5,122.0 159.0,121.6 159.5,121.2 160.0,120.8 160.5,120.3 161.0,119.8 161.5,119.3 162.0,118.8 162.5,118.3 163.0,117.8 163.5,117.3 164.0,116.8 164.5,116.3 165.0,115.8 165.5,115.3 166.0,114.7 166.5,114.1 167.0,113.6 167.5,113.0 168.0,112.5 168.5,112.0 169.0,111.6 169.5,111.2 170.0,110.9 170.5,110.6 171.0,110.4 171.5,110.2 172.0,110.1 172.5,110.0 173.0,109.9 173.5,109.9 174.0,109.8 174.5,109.8 175.0,109.8 175.5,109.8 176.0,109.8 176.5,109.8 177.0,109.8 177.5,109.8 178.0,109.8 178.5,109.8 179.0,109.8 179.5,109.8 180.0,109.8 180.5,109.8 181.0,109.8 181.5,109.8 182.0,109.8 182.5,109.8 183.0,109.8 183.5,109.8 184.0,109.8 184.5,109.8 185.0,109.8 185.5,109.8 186.0,109.8 186.5,109.8 187.0,109.8 187.5,109.8 188.0,109.8 188.5,109.8 189.0,109.8 189.5,109.8 190.0,109.8 190.5,109.8 191.0,109.8 191.5,109.8 192.0,109.8 192.5,109.8 193.0,109.8 193.5,109.8 194.0,109.8 194.5,109.8 195.0,109.8 195.5,109.8 196.0,109.8 196.5,109.8 197.0,109.8 197.5,109.8 198.0,109.8 198.5,109.8 199.0,109.8 199.5,109.8 200.0,109.8 200.5,109.8 201.0,109.8 201.5,109.8 202.0,109.8 202.5,109.8 203.0,109.8 203.5,109.8 204.0,109.8 204.5,109.8 205.0,109.8 205.5,109.8 206.0,109.8 206.5,109.7 207.0,109.7 207.5,109.7 208.0,109.6 208.5,109.5 209.0,109.4 209.5,109.3 210.0,109.2 210.5,109.1 211.0,109.0 211.5,108.9 212.0,108.7 212.5,108.6 213.0,108.4 213.5,108.3 214.0,108.1 214.5,107.9 215.0,107.7 215.5,107.5 216.0,107.3 216.5,107.1 217.0,106.9 217.5,106.7 218.0,106.5 218.5,106.3 219.0,106.0 219.5,105.8 220.0,105.6 220.5,105.3 221.0,105.1 221.5,104.8 222.0,104.6 222.5,104.3 223.0,104.1 223.5,103.8 224.0,103.5 224.5,103.3 225.0,103.0 225.5,102.8 226.0,102.5 226.5,102.2 227.0,102.0 227.5,101.7 228.0,101.4 228.5,101.2 229.0,100.9 229.5,100.7 230.0,100.4 230.5,100.1 231.0,99.9 231.5,99.6 232.0,99.4 232.5,99.2 233.0,98.9 233.5,98.7 234.0,98.4 234.5,98.2 235.0,98.0 235.5,97.8 236.0,97.6 236.5,97.3 237.0,97.1 237.5,96.9 238.0,96.6 238.5,96.4 239.0,96.1 239.5,95.9 240.0,95.6 240.5,95.4 241.0,95.1 241.5,94.9 242.0,94.6 242.5,94.4 243.0,94.1 243.5,93.9 244.0,93.6 244.5,93.4 245.0,93.2 245.5,92.9 246.0,92.7 246.5,92.4 247.0,92.2 247.5,92.0 248.0,91.7 248.5,91.5 249.0,91.3 249.5,91.1 250.0,90.8 250.5,90.6 251.0,90.4 251.5,90.2 252.0,90.0 252.5,89.7 253.0,89.5 253.5,89.3 254.0,89.1 254.5,88.9 255.0,88.7 255.5,88.4 256.0,88.2 256.5,88.0 257.0,87.8 257.5,87.6 258.0,87.4 258.5,87.1 259.0,86.9 259.5,86.7 260.0,86.4 260.5,86.2 261.0,86.0 261.5,85.7 262.0,85.5 262.5,85.2 263.0,85.0 263.5,84.7 264.0,84.5 264.5,84.2 265.0,84.0 265.5,83.7 266.0,83.5 266.5,83.2 267.0,83.0 267.5,82.7 268.0,82.4 268.5,82.2 269.0,81.9 269.5,81.6 270.0,81.4 270.5,81.1 271.0,80.8 271.5,80.5 272.0,80.2 272.5,80.0 273.0,79.7 273.5,79.4 274.0,79.1 274.5,78.8 275.0,78.5 275.5,78.2 276.0,77.9 276.5,77.6 277.0,77.3 277.5,77.0 278.0,76.6 278.5,76.3 279.0,76.0 279.5,75.7 280.0,75.3 280.5,75.0 281.0,74.6 281.5,74.3 282.0,73.9 282.5,73.5 283.0,73.1 283.5,72.8 284.0,72.4 284.5,72.0 285.0,71.6 285.5,71.2 286.0,70.8 286.5,70.4 287.0,70.0 287.5,69.6 288.0,69.2 288.5,68.8 289.0,68.4 289.5,68.0 290.0,67.5 290.5,67.1 291.0,66.7 291.5,66.2 292.0,65.8 292.5,65.4 293.0,64.9 293.5,64.5 294.0,64.0 294.5,63.5 295.0,63.1 295.5,62.6 296.0,62.1 296.5,61.6 297.0,61.1 297.5,60.6 298.0,60.1 298.5,59.6 299.0,59.1 299.5,58.6 300.0,58.0 300.5,57.5 300.5,57.5 300.0,59.2 299.5,60.9 299.0,62.6 298.5,64.3 298.0,66.0 297.5,67.7 297.0,69.4 296.5,71.1 296.0,72.8 295.5,74.6 295.0,76.5 294.5,78.6 294.0,80.8 293.5,83.0 293.0,85.2 292.5,87.3 292.0,89.3 291.5,91.1 291.0,92.6 290.5,93.9 290.0,95.1 289.5,96.2 289.0,97.4 288.5,98.6 288.0,99.8 287.5,101.0 287.0,102.2 286.5,103.4 286.0,104.6 285.5,105.8 285.0,107.0 284.5,108.2 284.0,109.4 283.5,110.7 283.0,112.0 282.5,113.4 282.0,114.8 281.5,116.3 281.0,117.8 280.5,119.3 280.0,120.8 279.5,122.2 279.0,123.5 278.5,124.8 278.0,125.9 277.5,126.9 277.0,127.9 276.5,128.8 276.0,129.8 275.5,130.7 275.0,131.6 274.5,132.5 274.0,133.5 273.5,134.4 273.0,135.4 272.5,136.3 272.0,137.3 271.5,138.2 271.0,139.2 270.5,140.1 270.0,141.0 269.5,141.9 269.0,142.8 268.5,143.7 268.0,144.6 267.5,145.5 267.0,146.4 266.5,147.3 266.0,148.2 265.5,149.0 265.0,149.9 264.5,150.7 264.0,151.5 263.5,152.3 263.0,153.1 262.5,153.8 262.0,154.6 261.5,155.4 261.0,156.1 260.5,156.9 260.0,157.6 259.5,158.3 259.0,159.0 258.5,159.6 258.0,160.3 257.5,160.9 257.0,161.5 256.5,162.1 256.0,162.7 255.5,163.2 255.0,163.7 254.5,164.3 254.0,164.8 253.5,165.3 253.0,165.8 252.5,166.3 252.0,166.7 251.5,167.2 251.0,167.6 250.5,168.1 250.0,168.5 249.5,168.9 249.0,169.3 248.5,169.7 248.0,170.1 247.5,170.5 247.0,170.8 246.5,171.2 246.0,171.5 245.5,171.9 245.0,172.2 244.5,172.6 244.0,172.9 243.5,173.2 243.0,173.5 242.5,173.8 242.0,174.1 241.5,174.5 241.0,174.8 240.5,175.1 240.0,175.4 239.5,175.8 239.0,176.1 238.5,176.4 238.0,176.6 237.5,176.9 237.0,177.1 236.5,177.3 236.0,177.5 235.5,177.7 235.0,177.8 234.5,177.9 234.0,178.0 233.5,178.1 233.0,178.2 232.5,178.3 232.0,178.4 231.5,178.4 231.0,178.5 230.5,178.5 230.0,178.6 229.5,178.6 229.0,178.6 228.5,178.6 228.0,178.6 227.5,178.5 227.0,178.5 226.5,178.4 226.0,178.4 225.5,178.3 225.0,178.2 224.5,178.2 224.0,178.1 223.5,178.0 223.0,177.8 222.5,177.7 222.0,177.6 221.5,177.4 221.0,177.2 220.5,177.0 220.0,176.9 219.5,176.7 219.0,176.4 218.5,176.2 218.0,176.0 217.5,175.8 217.0,175.5 216.5,175.3 216.0,175.0 215.5,174.8 215.0,174.5 214.5,174.2 214.0,173.8 213.5,173.5 213.0,173.1 212.5,172.7 212.0,172.3 211.5,171.9 211.0,171.5 210.5,171.0 210.0,170.6 209.5,170.1 209.0,169.7 208.5,169.2 208.0,168.7 207.5,168.2 207.0,167.7 206.5,167.1 206.0,166.5 205.5,165.9 205.0,165.3 204.5,164.7 204.0,164.0 203.5,163.4 203.0,162.7 202.5,162.0 202.0,161.4 201.5,160.7 201.0,160.0 200.5,159.3 200.0,158.6 199.5,157.8 199.0,157.1 198.5,156.3 198.0,155.6 197.5,154.9 197.0,154.2 196.5,153.4 196.0,152.7 195.5,152.0 195.0,151.3 194.5,150.6 194.0,149.9 193.5,149.2 193.0,148.5 192.5,147.8 192.0,147.1 191.5,146.5 191.0,145.9 190.5,145.3 190.0,144.7 189.5,144.1 189.0,143.5 188.5,143.0 188.0,142.5 187.5,141.9 187.0,141.4 186.5,140.9 186.0,140.4 185.5,139.9 185.0,139.4 184.5,139.0 184.0,138.5 183.5,138.0 183.0,137.5 182.5,137.0 182.0,136.5 181.5,136.0 181.0,135.5 180.5,135.0 180.0,134.6 179.5,134.2 179.0,133.9 178.5,133.7 178.0,133.6 177.5,133.5 177.0,133.5 176.5,133.4 176.0,133.4 175.5,133.3 175.0,133.3 174.5,133.2 174.0,133.2 173.5,133.2 173.0,133.1 172.5,133.1 172.0,133.1 171.5,133.1 171.0,133.0 170.5,133.0 170.0,133.0 169.5,133.0 169.0,133.0 168.5,132.9 168.0,132.9 167.5,132.9 167.0,132.9 166.5,132.9 166.0,132.8 165.5,132.8 165.0,132.8 164.5,132.8 164.0,132.8 163.5,132.7 163.0,132.7 162.5,132.7 162.0,132.7 161.5,132.6 161.0,132.6 160.5,132.6 160.0,132.6 159.5,132.6 159.0,132.5 158.5,132.5 158.0,132.5 157.5,132.5 157.0,132.5 156.5,132.5 156.0,132.4 155.5,132.4 155.0,132.4 154.5,132.4 154.0,132.4 153.5,132.4 153.0,132.4 152.5,132.3 152.0,132.3 151.5,132.3 151.0,132.3 150.5,132.3 150.0,132.3 149.5,132.3 149.0,132.3 148.5,132.3 148.0,132.3 147.5,132.3 147.0,132.3 146.5,132.3 146.0,132.3 145.5,132.3 145.0,132.3 144.5,132.2 144.0,132.2 143.5,132.2 143.0,132.2 142.5,132.2 142.0,132.2 141.5,132.2 141.0,132.2 140.5,132.2 140.0,132.2 139.5,132.2 139.0,132.2 138.5,132.2 138.0,132.2 137.5,132.2 137.0,132.2 136.5,132.2 136.0,132.2 135.5,132.2 135.0,132.2 134.5,132.2 134.0,132.2 133.5,132.2 133.0,132.2 132.5,132.3 132.0,132.5 131.5,132.6 131.0,132.9 130.5,133.1 130.0,133.4 129.5,133.6 129.0,134.0 128.5,134.3 128.0,134.6 127.5,135.0 127.0,135.3 126.5,135.6 126.0,136.0 125.5,136.3 125.0,136.6 124.5,136.9 124.0,137.2 123.5,137.5 123.0,137.9 122.5,138.2 122.0,138.5 121.5,138.9 121.0,139.2 120.5,139.5 120.0,139.9 119.5,140.2 119.0,140.5 118.5,140.8 118.0,141.1 117.5,141.4 117.0,141.8 116.5,142.2 116.0,142.6 115.5,143.1 115.0,143.7 114.5,144.3 114.0,145.0 113.5,145.8 113.0,146.5 112.5,147.4 112.0,148.2 111.5,149.1 111.0,150.0 110.5,150.9 110.0,151.8 109.5,152.7 109.0,153.6 108.5,154.4 108.0,155.3 107.5,156.0 107.0,156.8 106.5,157.6 106.0,158.5 105.5,159.4 105.0,160.2 104.5,161.1 104.0,162.0 103.5,162.8 103.0,163.6 102.5,164.4 102.0,165.1 101.5,165.8 101.0,166.4 100.5,166.9 100.0,167.3 99.5,167.7 99.0,168.0 98.5,168.4 98.0,168.7 97.5,169.0 97.0,169.3 96.5,169.6 96.0,169.8 95.5,170.0 95.0,170.2 94.5,170.4 94.0,170.5 93.5,170.6 93.0,170.6 92.5,170.4 92.0,170.0 91.5,169.3 91.0,168.4 90.5,167.5 90.0,166.5 89.5,165.3 89.0,163.8 88.5,162.0 88.0,160.1 87.5,158.3 87.0,156.7 86.5,155.5 86.0,154.5 85.5,153.6 85.0,152.8 84.5,152.1 84.0,151.6 83.5,151.2 83.0,151.0 82.5,150.7 82.0,150.6 81.5,150.4 81.0,150.3 80.5,150.3 80.0,150.4 79.5,150.7 79.0,151.0 78.5,151.5 78.0,152.0 77.5,152.5 77.0,153.0 76.5,153.5 76.0,154.0 75.5,154.5 75.0,155.1 74.5,155.7 74.0,156.2 73.5,156.8 73.0,157.4 72.5,158.0 72.0,158.5 71.5,159.0 71.0,159.5 70.5,160.0 70.0,160.6 69.5,161.1 69.0,161.6 68.5,162.0 68.0,162.5 67.5,163.0 67.0,163.5 66.5,164.0 66.0,164.4 65.5,164.9Z" fill="none" stroke="#ffff00" stroke-width="1.8" stroke-linejoin="round"/>
</g>
<g clip-path="url(#cr)"><path d="M406.2,176.0 406.7,173.8 407.2,172.7 407.7,171.9 408.2,171.3 408.7,170.8 409.2,170.4 409.7,170.0 410.2,169.6 410.7,169.2 411.2,168.9 411.7,168.6 412.2,168.3 412.7,168.0 413.2,167.7 413.7,167.5 414.2,167.3 414.7,167.1 415.2,166.9 415.7,166.7 416.2,166.6 416.7,166.4 417.2,166.3 417.7,166.1 418.2,166.0 418.7,165.8 419.2,165.7 419.7,165.6 420.2,165.5 420.7,165.4 421.2,165.2 421.7,165.1 422.2,165.0 422.7,164.9 423.2,164.8 423.7,164.7 424.2,164.6 424.7,164.5 425.2,164.4 425.7,164.3 426.2,164.3 426.7,164.2 427.2,164.1 427.7,164.0 428.2,163.9 428.7,163.8 429.2,163.7 429.7,163.7 430.2,163.6 430.7,163.5 431.2,163.4 431.7,163.4 432.2,163.3 432.7,163.2 433.2,163.2 433.7,163.1 434.2,163.0 434.7,163.0 435.2,162.9 435.7,162.8 436.2,162.8 436.7,162.7 437.2,162.7 437.7,162.6 438.2,162.6 438.7,162.5 439.2,162.5 439.7,162.4 440.2,162.4 440.7,162.3 441.2,162.3 441.7,162.2 442.2,162.2 442.7,162.1 443.2,162.1 443.7,162.0 444.2,162.0 444.7,161.9 445.2,161.9 445.7,161.8 446.2,161.8 446.7,161.7 447.2,161.7 447.7,161.6 448.2,161.5 448.7,161.5 449.2,161.4 449.7,161.4 450.2,161.3 450.7,161.2 451.2,161.2 451.7,161.1 452.2,161.0 452.7,160.9 453.2,160.8 453.7,160.8 454.2,160.7 454.7,160.5 455.2,160.4 455.7,160.3 456.2,160.1 456.7,160.0 457.2,159.8 457.7,159.6 458.2,159.4 458.7,159.2 459.2,159.1 459.7,158.9 460.2,158.7 460.7,158.5 461.2,158.3 461.7,158.1 462.2,158.0 462.7,157.8 463.2,157.6 463.7,157.4 464.2,157.2 464.7,157.0 465.2,156.8 465.7,156.6 466.2,156.4 466.7,156.2 467.2,156.0 467.7,155.8 468.2,155.5 468.7,155.3 469.2,155.1 469.7,154.9 470.2,154.6 470.7,154.4 471.2,154.2 471.7,153.9 472.2,153.7 472.7,153.4 473.2,153.2 473.7,152.9 474.2,152.7 474.7,152.4 475.2,152.1 475.7,151.8 476.2,151.5 476.7,151.2 477.2,151.0 477.7,150.9 478.2,150.8 478.7,150.8 479.2,151.0 479.7,151.2 480.2,151.5 480.7,151.8 481.2,152.2 481.7,152.6 482.2,152.9 482.7,153.2 483.2,153.5 483.7,153.8 484.2,154.0 484.7,154.3 485.2,154.5 485.7,154.8 486.2,155.0 486.7,155.2 487.2,155.4 487.7,155.5 488.2,155.5 488.7,155.5 489.2,155.4 489.7,155.2 490.2,155.0 490.7,154.8 491.2,154.5 491.7,154.2 492.2,153.9 492.7,153.5 493.2,153.2 493.7,152.8 494.2,152.5 494.7,152.1 495.2,151.8 495.7,151.5 496.2,151.2 496.7,150.9 497.2,150.6 497.7,150.4 498.2,150.1 498.7,149.8 499.2,149.5 499.7,149.2 500.2,148.8 500.7,148.4 501.2,148.0 501.7,147.6 502.2,147.2 502.7,146.7 503.2,146.2 503.7,145.7 504.2,145.2 504.7,144.8 505.2,144.3 505.7,143.7 506.2,143.2 506.7,142.6 507.2,142.0 507.7,141.4 508.2,140.8 508.7,140.3 509.2,139.8 509.7,139.4 510.2,139.0 510.7,138.7 511.2,138.3 511.7,138.0 512.2,137.8 512.7,137.6 513.2,137.6 513.7,137.7 514.2,137.8 514.7,138.0 515.2,138.2 515.7,138.4 516.2,138.6 516.7,138.9 517.2,139.1 517.7,139.2 518.2,139.4 518.7,139.5 519.2,139.6 519.7,139.7 520.2,139.9 520.7,140.0 521.2,140.1 521.7,140.2 522.2,140.3 522.7,140.3 523.2,140.4 523.8,140.4 524.3,140.4 524.8,140.4 525.3,140.4 525.8,140.3 526.3,140.3 526.8,140.2 527.3,140.2 527.8,140.1 528.3,140.0 528.8,140.0 529.3,139.9 529.8,139.8 530.3,139.7 530.8,139.6 531.3,139.5 531.8,139.4 532.3,139.4 532.8,139.3 533.3,139.2 533.8,139.1 534.3,139.0 534.8,138.8 535.3,138.7 535.8,138.6 536.3,138.5 536.8,138.3 537.3,138.2 537.8,138.1 538.3,137.9 538.8,137.8 539.3,137.6 539.8,137.5 540.3,137.3 540.8,137.2 541.3,137.0 541.8,136.8 542.3,136.7 542.8,136.5 543.3,136.3 543.8,136.1 544.3,135.9 544.8,135.7 545.3,135.5 545.8,135.3 546.3,135.1 546.8,134.9 547.3,134.7 547.8,134.5 548.3,134.3 548.8,134.0 549.3,133.8 549.8,133.6 550.3,133.4 550.8,133.2 551.3,132.9 551.8,132.7 552.3,132.5 552.8,132.2 553.3,132.0 553.8,131.7 554.3,131.5 554.8,131.3 555.3,131.0 555.8,130.7 556.3,130.5 556.8,130.2 557.3,130.0 557.8,129.7 558.3,129.5 558.8,129.2 559.3,129.0 559.8,128.7 560.3,128.5 560.8,128.2 561.3,128.0 561.8,127.7 562.3,127.4 562.8,127.2 563.3,126.9 563.8,126.6 564.3,126.4 564.8,126.1 565.3,125.8 565.8,125.6 566.3,125.3 566.8,125.0 567.3,124.8 567.8,124.5 568.3,124.3 568.8,124.1 569.3,123.8 569.8,123.6 570.3,123.4 570.8,123.2 571.3,123.0 571.8,122.8 572.3,122.6 572.8,122.4 573.3,122.2 573.8,122.0 574.3,121.8 574.8,121.6 575.3,121.4 575.8,121.2 576.3,121.0 576.8,120.9 577.3,120.7 577.8,120.5 578.3,120.3 578.8,120.1 579.3,120.0 579.8,119.8 580.3,119.6 580.8,119.4 581.3,119.2 581.8,119.0 582.3,118.8 582.8,118.6 583.3,118.4 583.8,118.1 584.3,117.9 584.8,117.7 585.3,117.5 585.8,117.3 586.3,117.1 586.8,116.9 587.3,116.7 587.8,116.5 588.3,116.4 588.8,116.2 589.3,116.1 589.8,116.0 590.3,115.9 590.8,115.8 591.3,115.8 591.8,115.8 592.3,115.8 592.8,115.8 593.3,115.8 593.8,115.9 594.3,115.9 594.8,115.9 595.3,116.0 595.8,116.0 596.3,116.0 596.8,116.1 597.3,116.1 597.8,116.2 598.3,116.2 598.8,116.3 599.3,116.3 599.8,116.4 600.3,116.4 600.8,116.5 601.3,116.5 601.8,116.5 602.3,116.6 602.8,116.6 603.3,116.6 603.8,116.7 604.3,116.7 604.8,116.7 605.3,116.7 605.8,116.7 606.3,116.7 606.8,116.7 607.3,116.7 607.8,116.7 608.3,116.7 608.8,116.6 609.3,116.6 609.8,116.6 610.3,116.6 610.8,116.6 611.3,116.5 611.8,116.5 612.3,116.5 612.8,116.4 613.3,116.4 613.8,116.4 614.3,116.3 614.8,116.3 615.3,116.2 615.8,116.2 616.3,116.1 616.8,116.1 617.3,116.0 617.8,116.0 618.3,115.9 618.8,115.8 619.3,115.8 619.8,115.6 620.3,115.5 620.8,115.2 621.3,114.9 621.8,114.6 622.3,114.3 622.8,113.9 623.3,113.5 623.8,113.1 624.3,112.8 624.8,112.4 625.3,112.0 625.8,111.7 626.3,111.4 626.8,111.1 627.3,110.8 627.8,110.6 628.3,110.4 628.8,110.1 629.3,109.9 629.8,109.6 630.3,109.3 630.8,109.0 631.3,108.6 631.8,108.1 632.3,107.6 632.8,107.1 633.3,106.4 633.8,105.8 634.3,105.2 634.8,104.5 635.3,103.9 635.8,103.2 636.3,102.6 636.8,102.0 637.3,101.4 637.8,100.8 638.3,100.2 638.8,99.5 639.3,98.9 639.8,98.3 640.3,97.6 640.8,97.0 641.3,96.3 641.3,96.3 640.8,97.1 640.3,97.9 639.8,98.7 639.3,99.6 638.8,100.5 638.3,101.4 637.8,102.3 637.3,103.2 636.8,104.2 636.3,105.3 635.8,106.3 635.3,107.5 634.8,108.7 634.3,110.0 633.8,111.4 633.3,112.8 632.8,114.2 632.3,115.6 631.8,117.0 631.3,118.4 630.8,119.9 630.3,121.3 629.8,122.6 629.3,123.8 628.8,124.8 628.3,125.6 627.8,126.4 627.3,127.2 626.8,127.9 626.3,128.5 625.8,129.2 625.3,129.8 624.8,130.3 624.3,130.9 623.8,131.5 623.3,132.0 622.8,132.6 622.3,133.2 621.8,133.7 621.3,134.3 620.8,134.9 620.3,135.5 619.8,136.1 619.3,136.7 618.8,137.3 618.3,137.8 617.8,138.4 617.3,138.9 616.8,139.5 616.3,140.0 615.8,140.5 615.3,140.9 614.8,141.4 614.3,141.8 613.8,142.2 613.3,142.7 612.8,143.1 612.3,143.5 611.8,143.9 611.3,144.3 610.8,144.6 610.3,145.0 609.8,145.4 609.3,145.7 608.8,146.0 608.3,146.3 607.8,146.6 607.3,146.9 606.8,147.2 606.3,147.5 605.8,147.8 605.3,148.1 604.8,148.4 604.3,148.7 603.8,148.9 603.3,149.2 602.8,149.4 602.3,149.6 601.8,149.8 601.3,150.0 600.8,150.1 600.3,150.2 599.8,150.3 599.3,150.4 598.8,150.5 598.3,150.6 597.8,150.6 597.3,150.7 596.8,150.8 596.3,150.8 595.8,150.9 595.3,150.9 594.8,151.0 594.3,151.0 593.8,151.1 593.3,151.1 592.8,151.1 592.3,151.2 591.8,151.2 591.3,151.2 590.8,151.2 590.3,151.2 589.8,151.2 589.3,151.2 588.8,151.2 588.3,151.2 587.8,151.2 587.3,151.2 586.8,151.2 586.3,151.2 585.8,151.2 585.3,151.2 584.8,151.2 584.3,151.2 583.8,151.2 583.3,151.2 582.8,151.2 582.3,151.2 581.8,151.2 581.3,151.2 580.8,151.2 580.3,151.2 579.8,151.2 579.3,151.2 578.8,151.2 578.3,151.2 577.8,151.2 577.3,151.2 576.8,151.2 576.3,151.2 575.8,151.2 575.3,151.2 574.8,151.2 574.3,151.2 573.8,151.2 573.3,151.2 572.8,151.2 572.3,151.2 571.8,151.2 571.3,151.2 570.8,151.2 570.3,151.3 569.8,151.3 569.3,151.3 568.8,151.3 568.3,151.4 567.8,151.4 567.3,151.5 566.8,151.5 566.3,151.6 565.8,151.6 565.3,151.7 564.8,151.7 564.3,151.8 563.8,151.8 563.3,151.9 562.8,152.0 562.3,152.0 561.8,152.1 561.3,152.2 560.8,152.2 560.3,152.3 559.8,152.4 559.3,152.4 558.8,152.5 558.3,152.6 557.8,152.6 557.3,152.7 556.8,152.8 556.3,152.8 555.8,152.9 555.3,153.0 554.8,153.0 554.3,153.1 553.8,153.2 553.3,153.2 552.8,153.3 552.3,153.3 551.8,153.4 551.3,153.5 550.8,153.5 550.3,153.6 549.8,153.7 549.3,153.7 548.8,153.8 548.3,153.9 547.8,153.9 547.3,154.0 546.8,154.1 546.3,154.2 545.8,154.2 545.3,154.3 544.8,154.4 544.3,154.5 543.8,154.6 543.3,154.7 542.8,154.8 542.3,154.9 541.8,155.0 541.3,155.1 540.8,155.2 540.3,155.3 539.8,155.5 539.3,155.6 538.8,155.7 538.3,155.9 537.8,156.1 537.3,156.2 536.8,156.4 536.3,156.6 535.8,156.8 535.3,157.0 534.8,157.2 534.3,157.3 533.8,157.5 533.3,157.7 532.8,157.9 532.3,158.1 531.8,158.3 531.3,158.5 530.8,158.7 530.3,158.9 529.8,159.1 529.3,159.3 528.8,159.5 528.3,159.7 527.8,160.0 527.3,160.2 526.8,160.4 526.3,160.7 525.8,160.9 525.3,161.1 524.8,161.3 524.3,161.6 523.8,161.8 523.2,162.0 522.7,162.3 522.2,162.5 521.7,162.7 521.2,162.9 520.7,163.2 520.2,163.4 519.7,163.6 519.2,163.8 518.7,164.0 518.2,164.3 517.7,164.5 517.2,164.7 516.7,164.9 516.2,165.1 515.7,165.3 515.2,165.5 514.7,165.7 514.2,165.9 513.7,166.1 513.2,166.4 512.7,166.6 512.2,166.8 511.7,167.0 511.2,167.2 510.7,167.4 510.2,167.6 509.7,167.8 509.2,168.1 508.7,168.3 508.2,168.5 507.7,168.7 507.2,168.9 506.7,169.2 506.2,169.4 505.7,169.6 505.2,169.9 504.7,170.1 504.2,170.3 503.7,170.6 503.2,170.8 502.7,171.0 502.2,171.3 501.7,171.5 501.2,171.7 500.7,172.0 500.2,172.2 499.7,172.4 499.2,172.7 498.7,172.9 498.2,173.1 497.7,173.4 497.2,173.6 496.7,173.8 496.2,174.0 495.7,174.2 495.2,174.4 494.7,174.6 494.2,174.8 493.7,175.0 493.2,175.2 492.7,175.4 492.2,175.6 491.7,175.9 491.2,176.1 490.7,176.3 490.2,176.5 489.7,176.7 489.2,176.9 488.7,177.1 488.2,177.3 487.7,177.4 487.2,177.6 486.7,177.8 486.2,177.9 485.7,178.1 485.2,178.2 484.7,178.3 484.2,178.4 483.7,178.5 483.2,178.6 482.7,178.6 482.2,178.7 481.7,178.8 481.2,178.8 480.7,178.9 480.2,179.0 479.7,179.0 479.2,179.1 478.7,179.1 478.2,179.1 477.7,179.2 477.2,179.2 476.7,179.2 476.2,179.2 475.7,179.2 475.2,179.2 474.7,179.1 474.2,179.1 473.7,179.0 473.2,179.0 472.7,178.9 472.2,178.8 471.7,178.7 471.2,178.6 470.7,178.6 470.2,178.5 469.7,178.4 469.2,178.3 468.7,178.2 468.2,178.1 467.7,177.9 467.2,177.7 466.7,177.6 466.2,177.4 465.7,177.2 465.2,177.0 464.7,176.8 464.2,176.6 463.7,176.5 463.2,176.3 462.7,176.2 462.2,176.1 461.7,176.0 461.2,176.0 460.7,176.0 460.2,176.0 459.7,176.1 459.2,176.2 458.7,176.3 458.2,176.4 457.7,176.6 457.2,176.7 456.7,176.9 456.2,177.1 455.7,177.3 455.2,177.5 454.7,177.7 454.2,177.9 453.7,178.1 453.2,178.4 452.7,178.7 452.2,179.1 451.7,179.4 451.2,179.8 450.7,180.2 450.2,180.7 449.7,181.1 449.2,181.6 448.7,182.1 448.2,182.8 447.7,183.3 447.2,183.7 446.7,184.0 446.2,184.0 445.7,183.9 445.2,183.8 444.7,183.6 444.2,183.4 443.7,183.2 443.2,182.9 442.7,182.5 442.2,182.1 441.7,181.6 441.2,181.2 440.7,180.7 440.2,180.2 439.7,179.7 439.2,179.2 438.7,178.6 438.2,178.0 437.7,177.4 437.2,176.8 436.7,176.4 436.2,175.9 435.7,175.6 435.2,175.3 434.7,175.0 434.2,174.7 433.7,174.4 433.2,174.2 432.7,174.0 432.2,173.8 431.7,173.6 431.2,173.4 430.7,173.4 430.2,173.3 429.7,173.3 429.2,173.3 428.7,173.3 428.2,173.4 427.7,173.4 427.2,173.4 426.7,173.5 426.2,173.5 425.7,173.6 425.2,173.7 424.7,173.7 424.2,173.8 423.7,173.9 423.2,174.0 422.7,174.1 422.2,174.1 421.7,174.2 421.2,174.3 420.7,174.4 420.2,174.5 419.7,174.5 419.2,174.6 418.7,174.7 418.2,174.8 417.7,174.9 417.2,175.0 416.7,175.1 416.2,175.3 415.7,175.4 415.2,175.5 414.7,175.6 414.2,175.7 413.7,175.8 413.2,176.0 412.7,176.1 412.2,176.2 411.7,176.4 411.2,176.6 410.7,176.7 410.2,176.8 409.7,176.9 409.2,177.0 408.7,177.0 408.2,176.9 407.7,176.8 407.2,176.5 406.7,176.3 406.2,176.0Z" fill="none" stroke="#000000" stroke-width="1.75" stroke-linejoin="round"/>
<path d="M406.2,186.5 406.7,184.8 407.2,183.2 407.7,181.8 408.2,180.7 408.7,179.8 409.2,179.1 409.7,178.4 410.2,177.7 410.7,177.1 411.2,176.4 411.7,175.8 412.2,175.1 412.7,174.5 413.2,174.0 413.7,173.5 414.2,173.0 414.7,172.6 415.2,172.2 415.7,171.9 416.2,171.6 416.7,171.3 417.2,171.1 417.7,170.8 418.2,170.6 418.7,170.4 419.2,170.1 419.7,169.9 420.2,169.7 420.7,169.5 421.2,169.3 421.7,169.1 422.2,168.9 422.7,168.7 423.2,168.5 423.7,168.3 424.2,168.2 424.7,168.0 425.2,167.9 425.7,167.7 426.2,167.6 426.7,167.5 427.2,167.3 427.7,167.2 428.2,167.1 428.7,167.0 429.2,166.9 429.7,166.8 430.2,166.7 430.7,166.6 431.2,166.5 431.7,166.4 432.2,166.3 432.7,166.2 433.2,166.1 433.7,166.0 434.2,165.9 434.7,165.8 435.2,165.7 435.7,165.7 436.2,165.6 436.7,165.5 437.2,165.4 437.7,165.3 438.2,165.2 438.7,165.1 439.2,165.1 439.7,165.0 440.2,164.9 440.7,164.8 441.2,164.7 441.7,164.7 442.2,164.6 442.7,164.5 443.2,164.4 443.7,164.3 444.2,164.2 444.7,164.2 445.2,164.1 445.7,164.0 446.2,163.9 446.7,163.8 447.2,163.7 447.7,163.6 448.2,163.5 448.7,163.4 449.2,163.3 449.7,163.2 450.2,163.1 450.7,163.0 451.2,162.9 451.7,162.8 452.2,162.7 452.7,162.6 453.2,162.5 453.7,162.4 454.2,162.2 454.7,162.1 455.2,162.0 455.7,161.9 456.2,161.7 456.7,161.6 457.2,161.4 457.7,161.3 458.2,161.1 458.7,161.0 459.2,160.8 459.7,160.7 460.2,160.5 460.7,160.3 461.2,160.2 461.7,160.0 462.2,159.8 462.7,159.7 463.2,159.5 463.7,159.3 464.2,159.1 464.7,159.0 465.2,158.8 465.7,158.6 466.2,158.4 466.7,158.2 467.2,158.0 467.7,157.8 468.2,157.6 468.7,157.4 469.2,157.2 469.7,157.0 470.2,156.8 470.7,156.5 471.2,156.3 471.7,156.1 472.2,155.8 472.7,155.6 473.2,155.4 473.7,155.1 474.2,154.9 474.7,154.6 475.2,154.3 475.7,154.0 476.2,153.7 476.7,153.4 477.2,153.2 477.7,153.0 478.2,152.9 478.7,153.0 479.2,153.1 479.7,153.2 480.2,153.4 480.7,153.7 481.2,153.9 481.7,154.2 482.2,154.5 482.7,154.7 483.2,154.9 483.7,155.1 484.2,155.3 484.7,155.5 485.2,155.6 485.7,155.8 486.2,156.0 486.7,156.1 487.2,156.2 487.7,156.3 488.2,156.3 488.7,156.3 489.2,156.2 489.7,156.1 490.2,155.9 490.7,155.7 491.2,155.5 491.7,155.2 492.2,154.9 492.7,154.6 493.2,154.2 493.7,153.9 494.2,153.6 494.7,153.2 495.2,152.9 495.7,152.6 496.2,152.3 496.7,152.0 497.2,151.7 497.7,151.4 498.2,151.0 498.7,150.7 499.2,150.4 499.7,150.0 500.2,149.6 500.7,149.2 501.2,148.8 501.7,148.4 502.2,148.0 502.7,147.5 503.2,147.0 503.7,146.6 504.2,146.1 504.7,145.6 505.2,145.1 505.7,144.5 506.2,144.0 506.7,143.4 507.2,142.8 507.7,142.2 508.2,141.6 508.7,141.0 509.2,140.5 509.7,140.0 510.2,139.6 510.7,139.1 511.2,138.6 511.7,138.2 512.2,137.8 512.7,137.6 513.2,137.6 513.7,137.5 514.2,137.5 514.7,137.5 515.2,137.5 515.7,137.5 516.2,137.5 516.7,137.5 517.2,137.5 517.7,137.5 518.2,137.5 518.7,137.5 519.2,137.5 519.7,137.5 520.2,137.5 520.7,137.5 521.2,137.5 521.7,137.5 522.2,137.5 522.7,137.5 523.2,137.5 523.8,137.5 524.3,137.5 524.8,137.5 525.3,137.4 525.8,137.4 526.3,137.3 526.8,137.3 527.3,137.2 527.8,137.1 528.3,137.0 528.8,136.9 529.3,136.7 529.8,136.6 530.3,136.5 530.8,136.4 531.3,136.3 531.8,136.2 532.3,136.0 532.8,135.9 533.3,135.8 533.8,135.7 534.3,135.5 534.8,135.4 535.3,135.2 535.8,135.1 536.3,134.9 536.8,134.7 537.3,134.6 537.8,134.4 538.3,134.2 538.8,134.0 539.3,133.8 539.8,133.7 540.3,133.5 540.8,133.3 541.3,133.1 541.8,132.9 542.3,132.7 542.8,132.5 543.3,132.2 543.8,132.0 544.3,131.8 544.8,131.6 545.3,131.3 545.8,131.1 546.3,130.9 546.8,130.6 547.3,130.4 547.8,130.2 548.3,130.0 548.8,129.7 549.3,129.5 549.8,129.3 550.3,129.1 550.8,129.0 551.3,128.8 551.8,128.6 552.3,128.4 552.8,128.2 553.3,128.1 553.8,127.9 554.3,127.7 554.8,127.5 555.3,127.4 555.8,127.2 556.3,127.0 556.8,126.8 557.3,126.6 557.8,126.4 558.3,126.2 558.8,126.0 559.3,125.8 559.8,125.5 560.3,125.3 560.8,125.0 561.3,124.7 561.8,124.4 562.3,124.1 562.8,123.7 563.3,123.4 563.8,123.0 564.3,122.7 564.8,122.3 565.3,121.9 565.8,121.5 566.3,121.2 566.8,120.8 567.3,120.4 567.8,120.0 568.3,119.6 568.8,119.3 569.3,118.9 569.8,118.5 570.3,118.1 570.8,117.7 571.3,117.2 571.8,116.8 572.3,116.4 572.8,115.9 573.3,115.5 573.8,115.1 574.3,114.6 574.8,114.2 575.3,113.7 575.8,113.3 576.3,112.8 576.8,112.4 577.3,112.0 577.8,111.5 578.3,111.1 578.8,110.6 579.3,110.2 579.8,109.8 580.3,109.4 580.8,108.9 581.3,108.5 581.8,108.1 582.3,107.7 582.8,107.3 583.3,107.0 583.8,106.6 584.3,106.2 584.8,105.9 585.3,105.6 585.8,105.2 586.3,104.9 586.8,104.6 587.3,104.3 587.8,104.1 588.3,103.8 588.8,103.5 589.3,103.2 589.8,103.0 590.3,102.7 590.8,102.5 591.3,102.2 591.8,102.0 592.3,101.7 592.8,101.5 593.3,101.2 593.8,101.0 594.3,100.8 594.8,100.5 595.3,100.3 595.8,100.1 596.3,99.9 596.8,99.7 597.3,99.5 597.8,99.3 598.3,99.1 598.8,98.9 599.3,98.7 599.8,98.5 600.3,98.3 600.8,98.1 601.3,98.0 601.8,97.8 602.3,97.6 602.8,97.5 603.3,97.3 603.8,97.2 604.3,97.0 604.8,96.9 605.3,96.7 605.8,96.6 606.3,96.4 606.8,96.3 607.3,96.2 607.8,96.0 608.3,95.9 608.8,95.8 609.3,95.7 609.8,95.5 610.3,95.4 610.8,95.3 611.3,95.2 611.8,95.1 612.3,95.0 612.8,94.9 613.3,94.7 613.8,94.6 614.3,94.5 614.8,94.4 615.3,94.3 615.8,94.2 616.3,94.1 616.8,94.0 617.3,93.9 617.8,93.8 618.3,93.7 618.8,93.6 619.3,93.5 619.8,93.4 620.3,93.3 620.8,93.2 621.3,93.1 621.8,93.1 622.3,93.0 622.8,92.9 623.3,92.8 623.8,92.7 624.3,92.5 624.8,92.4 625.3,92.3 625.8,92.2 626.3,92.0 626.8,91.9 627.3,91.7 627.8,91.6 628.3,91.4 628.8,91.2 629.3,91.0 629.8,90.8 630.3,90.5 630.8,90.3 631.3,90.0 631.8,89.8 632.3,89.5 632.8,89.2 633.3,88.9 633.8,88.6 634.3,88.3 634.8,88.0 635.3,87.6 635.8,87.2 636.3,86.7 636.8,86.2 637.3,85.7 637.8,85.2 638.3,84.7 638.8,84.1 639.3,83.6 639.8,83.0 640.3,82.4 640.3,82.4 639.8,84.0 639.3,85.5 638.8,87.1 638.3,88.6 637.8,90.1 637.3,91.6 636.8,93.1 636.3,94.5 635.8,96.0 635.3,97.4 634.8,98.8 634.3,100.2 633.8,101.5 633.3,102.8 632.8,104.1 632.3,105.3 631.8,106.6 631.3,107.8 630.8,109.0 630.3,110.3 629.8,111.5 629.3,112.9 628.8,114.2 628.3,115.6 627.8,117.0 627.3,118.4 626.8,119.7 626.3,121.0 625.8,122.2 625.3,123.4 624.8,124.4 624.3,125.4 623.8,126.4 623.3,127.4 622.8,128.3 622.3,129.2 621.8,130.1 621.3,130.9 620.8,131.7 620.3,132.4 619.8,133.1 619.3,133.8 618.8,134.4 618.3,135.0 617.8,135.5 617.3,136.1 616.8,136.6 616.3,137.1 615.8,137.6 615.3,138.0 614.8,138.5 614.3,138.9 613.8,139.4 613.3,139.8 612.8,140.2 612.3,140.6 611.8,141.0 611.3,141.4 610.8,141.9 610.3,142.3 609.8,142.7 609.3,143.1 608.8,143.5 608.3,144.0 607.8,144.4 607.3,144.8 606.8,145.2 606.3,145.7 605.8,146.1 605.3,146.5 604.8,146.9 604.3,147.3 603.8,147.7 603.3,148.1 602.8,148.4 602.3,148.8 601.8,149.1 601.3,149.4 600.8,149.7 600.3,149.9 599.8,150.2 599.3,150.4 598.8,150.6 598.3,150.8 597.8,151.0 597.3,151.2 596.8,151.4 596.3,151.6 595.8,151.8 595.3,151.9 594.8,152.1 594.3,152.3 593.8,152.4 593.3,152.6 592.8,152.7 592.3,152.9 591.8,153.0 591.3,153.1 590.8,153.3 590.3,153.4 589.8,153.5 589.3,153.6 588.8,153.7 588.3,153.7 587.8,153.8 587.3,153.9 586.8,153.9 586.3,154.0 585.8,154.0 585.3,154.1 584.8,154.1 584.3,154.2 583.8,154.2 583.3,154.3 582.8,154.3 582.3,154.4 581.8,154.4 581.3,154.4 580.8,154.5 580.3,154.5 579.8,154.5 579.3,154.6 578.8,154.6 578.3,154.6 577.8,154.7 577.3,154.7 576.8,154.7 576.3,154.7 575.8,154.8 575.3,154.8 574.8,154.8 574.3,154.8 573.8,154.8 573.3,154.8 572.8,154.8 572.3,154.8 571.8,154.8 571.3,154.8 570.8,154.8 570.3,154.8 569.8,154.7 569.3,154.7 568.8,154.7 568.3,154.7 567.8,154.6 567.3,154.6 566.8,154.6 566.3,154.5 565.8,154.5 565.3,154.5 564.8,154.4 564.3,154.4 563.8,154.3 563.3,154.3 562.8,154.3 562.3,154.2 561.8,154.2 561.3,154.2 560.8,154.1 560.3,154.1 559.8,154.1 559.3,154.0 558.8,154.0 558.3,154.0 557.8,154.0 557.3,153.9 556.8,153.9 556.3,153.9 555.8,153.9 555.3,153.9 554.8,153.9 554.3,153.9 553.8,153.9 553.3,153.9 552.8,154.0 552.3,154.0 551.8,154.0 551.3,154.1 550.8,154.1 550.3,154.2 549.8,154.2 549.3,154.3 548.8,154.4 548.3,154.4 547.8,154.5 547.3,154.6 546.8,154.7 546.3,154.8 545.8,154.8 545.3,154.9 544.8,155.0 544.3,155.1 543.8,155.2 543.3,155.3 542.8,155.4 542.3,155.5 541.8,155.6 541.3,155.7 540.8,155.8 540.3,155.9 539.8,156.1 539.3,156.2 538.8,156.3 538.3,156.5 537.8,156.6 537.3,156.8 536.8,157.0 536.3,157.2 535.8,157.4 535.3,157.6 534.8,157.8 534.3,158.0 533.8,158.3 533.3,158.5 532.8,158.7 532.3,158.9 531.8,159.1 531.3,159.3 530.8,159.5 530.3,159.7 529.8,160.0 529.3,160.2 528.8,160.4 528.3,160.6 527.8,160.9 527.3,161.1 526.8,161.4 526.3,161.6 525.8,161.8 525.3,162.1 524.8,162.3 524.3,162.5 523.8,162.8 523.2,163.0 522.7,163.3 522.2,163.5 521.7,163.7 521.2,163.9 520.7,164.2 520.2,164.4 519.7,164.6 519.2,164.8 518.7,165.0 518.2,165.2 517.7,165.4 517.2,165.6 516.7,165.8 516.2,166.0 515.7,166.2 515.2,166.4 514.7,166.6 514.2,166.8 513.7,167.0 513.2,167.2 512.7,167.4 512.2,167.6 511.7,167.8 511.2,168.0 510.7,168.3 510.2,168.5 509.7,168.7 509.2,168.9 508.7,169.1 508.2,169.4 507.7,169.6 507.2,169.9 506.7,170.1 506.2,170.4 505.7,170.7 505.2,171.0 504.7,171.3 504.2,171.6 503.7,171.9 503.2,172.2 502.7,172.5 502.2,172.8 501.7,173.1 501.2,173.4 500.7,173.7 500.2,174.1 499.7,174.4 499.2,174.7 498.7,175.0 498.2,175.3 497.7,175.6 497.2,175.8 496.7,176.1 496.2,176.4 495.7,176.6 495.2,176.9 494.7,177.1 494.2,177.4 493.7,177.6 493.2,177.8 492.7,178.1 492.2,178.3 491.7,178.5 491.2,178.7 490.7,179.0 490.2,179.2 489.7,179.4 489.2,179.6 488.7,179.8 488.2,180.0 487.7,180.2 487.2,180.3 486.7,180.5 486.2,180.7 485.7,180.8 485.2,180.9 484.7,181.1 484.2,181.2 483.7,181.3 483.2,181.4 482.7,181.5 482.2,181.6 481.7,181.7 481.2,181.8 480.7,181.9 480.2,182.0 479.7,182.1 479.2,182.1 478.7,182.2 478.2,182.3 477.7,182.4 477.2,182.4 476.7,182.5 476.2,182.6 475.7,182.7 475.2,182.7 474.7,182.8 474.2,182.9 473.7,183.0 473.2,183.0 472.7,183.1 472.2,183.2 471.7,183.2 471.2,183.3 470.7,183.4 470.2,183.5 469.7,183.5 469.2,183.6 468.7,183.7 468.2,183.8 467.7,183.8 467.2,183.9 466.7,183.9 466.2,184.0 465.7,184.1 465.2,184.1 464.7,184.2 464.2,184.3 463.7,184.3 463.2,184.4 462.7,184.5 462.2,184.6 461.7,184.6 461.2,184.7 460.7,184.8 460.2,184.9 459.7,185.1 459.2,185.2 458.7,185.4 458.2,185.6 457.7,185.8 457.2,186.0 456.7,186.2 456.2,186.5 455.7,186.7 455.2,187.0 454.7,187.3 454.2,187.6 453.7,187.9 453.2,188.2 452.7,188.5 452.2,188.9 451.7,189.2 451.2,189.6 450.7,190.0 450.2,190.5 449.7,191.0 449.2,191.5 448.7,192.0 448.2,192.6 447.7,193.0 447.2,193.5 446.7,193.9 446.2,194.2 445.7,194.6 445.2,194.9 444.7,195.2 444.2,195.5 443.7,195.6 443.2,195.6 442.7,195.4 442.2,195.2 441.7,194.9 441.2,194.6 440.7,194.2 440.2,193.8 439.7,193.3 439.2,192.8 438.7,192.2 438.2,191.6 437.7,191.0 437.2,190.3 436.7,189.7 436.2,189.1 435.7,188.6 435.2,188.1 434.7,187.5 434.2,186.9 433.7,186.3 433.2,185.7 432.7,185.1 432.2,184.5 431.7,183.9 431.2,183.4 430.7,182.9 430.2,182.5 429.7,182.1 429.2,181.8 428.7,181.6 428.2,181.4 427.7,181.3 427.2,181.1 426.7,181.0 426.2,180.8 425.7,180.7 425.2,180.5 424.7,180.4 424.2,180.3 423.7,180.2 423.2,180.1 422.7,180.0 422.2,180.0 421.7,179.9 421.2,179.9 420.7,179.8 420.2,179.8 419.7,179.8 419.2,179.8 418.7,179.9 418.2,180.1 417.7,180.2 417.2,180.4 416.7,180.7 416.2,180.9 415.7,181.2 415.2,181.4 414.7,181.7 414.2,181.9 413.7,182.1 413.2,182.4 412.7,182.6 412.2,182.8 411.7,183.1 411.2,183.3 410.7,183.6 410.2,183.9 409.7,184.2 409.2,184.5 408.7,184.8 408.2,185.1 407.7,185.4 407.2,185.8 406.7,186.1 406.2,186.5Z" fill="none" stroke="#ff0000" stroke-width="1.75" stroke-linejoin="round"/>
<path d="M406.2,192.2 406.7,190.4 407.2,188.7 407.7,187.2 408.2,186.0 408.7,185.0 409.2,184.0 409.7,183.2 410.2,182.4 410.7,181.6 411.2,180.9 411.7,180.2 412.2,179.6 412.7,179.0 413.2,178.4 413.7,177.9 414.2,177.3 414.7,176.8 415.2,176.3 415.7,175.7 416.2,175.2 416.7,174.7 417.2,174.2 417.7,173.7 418.2,173.3 418.7,172.9 419.2,172.5 419.7,172.2 420.2,171.9 420.7,171.6 421.2,171.3 421.7,171.1 422.2,170.8 422.7,170.6 423.2,170.3 423.7,170.1 424.2,169.9 424.7,169.6 425.2,169.4 425.7,169.2 426.2,169.0 426.7,168.8 427.2,168.6 427.7,168.4 428.2,168.2 428.7,168.1 429.2,167.9 429.7,167.7 430.2,167.6 430.7,167.4 431.2,167.3 431.7,167.1 432.2,167.0 432.7,166.8 433.2,166.7 433.7,166.6 434.2,166.4 434.7,166.3 435.2,166.2 435.7,166.1 436.2,165.9 436.7,165.8 437.2,165.7 437.7,165.6 438.2,165.5 438.7,165.4 439.2,165.4 439.7,165.3 440.2,165.2 440.7,165.1 441.2,165.0 441.7,165.0 442.2,164.9 442.7,164.8 443.2,164.7 443.7,164.6 444.2,164.5 444.7,164.4 445.2,164.4 445.8,164.3 446.3,164.2 446.8,164.1 447.3,164.0 447.8,163.9 448.3,163.8 448.8,163.7 449.3,163.6 449.8,163.5 450.3,163.4 450.8,163.3 451.3,163.2 451.8,163.1 452.3,163.0 452.8,162.9 453.3,162.8 453.8,162.7 454.3,162.5 454.8,162.4 455.3,162.3 455.8,162.1 456.3,162.0 456.8,161.8 457.3,161.7 457.8,161.5 458.3,161.3 458.8,161.2 459.3,161.0 459.8,160.8 460.3,160.7 460.8,160.5 461.3,160.3 461.8,160.2 462.3,160.0 462.8,159.8 463.3,159.6 463.8,159.5 464.3,159.3 464.8,159.1 465.3,158.9 465.8,158.7 466.3,158.5 466.8,158.3 467.3,158.2 467.8,158.0 468.3,157.8 468.8,157.6 469.3,157.4 469.8,157.1 470.3,156.9 470.8,156.7 471.3,156.5 471.8,156.2 472.3,156.0 472.8,155.8 473.3,155.5 473.8,155.3 474.3,155.1 474.8,154.8 475.3,154.5 475.8,154.2 476.3,153.9 476.8,153.6 477.3,153.4 477.8,153.2 478.3,153.1 478.8,153.2 479.3,153.3 479.8,153.4 480.3,153.6 480.8,153.9 481.3,154.1 481.8,154.4 482.3,154.7 482.8,154.9 483.3,155.1 483.8,155.2 484.3,155.4 484.8,155.6 485.3,155.8 485.8,155.9 486.3,156.1 486.8,156.2 487.3,156.3 487.8,156.4 488.3,156.4 488.8,156.4 489.3,156.3 489.8,156.2 490.3,156.0 490.8,155.8 491.3,155.5 491.8,155.2 492.3,154.9 492.8,154.6 493.3,154.3 493.8,153.9 494.3,153.6 494.8,153.3 495.3,152.9 495.8,152.6 496.3,152.3 496.8,152.0 497.3,151.7 497.8,151.4 498.3,151.1 498.8,150.7 499.3,150.4 499.8,150.0 500.3,149.7 500.8,149.3 501.3,148.8 501.8,148.4 502.3,148.0 502.8,147.5 503.3,147.0 503.8,146.6 504.3,146.1 504.8,145.6 505.3,145.1 505.8,144.5 506.3,144.0 506.8,143.4 507.3,142.8 507.8,142.2 508.3,141.6 508.8,141.0 509.3,140.5 509.8,140.0 510.3,139.5 510.8,139.0 511.3,138.6 511.8,138.1 512.3,137.8 512.8,137.6 513.3,137.5 513.8,137.5 514.3,137.5 514.8,137.4 515.3,137.4 515.8,137.4 516.3,137.4 516.8,137.3 517.3,137.3 517.8,137.3 518.3,137.3 518.8,137.3 519.3,137.3 519.8,137.3 520.3,137.3 520.8,137.3 521.3,137.3 521.8,137.3 522.3,137.3 522.8,137.3 523.3,137.2 523.9,137.2 524.4,137.2 524.9,137.2 525.4,137.1 525.9,137.1 526.4,137.0 526.9,136.9 527.4,136.8 527.9,136.7 528.4,136.6 528.9,136.5 529.4,136.4 529.9,136.3 530.4,136.2 530.9,136.1 531.4,135.9 531.9,135.8 532.4,135.7 532.9,135.6 533.4,135.5 533.9,135.3 534.4,135.2 534.9,135.0 535.4,134.9 535.9,134.7 536.4,134.5 536.9,134.4 537.4,134.2 537.9,134.0 538.4,133.8 538.9,133.6 539.4,133.5 539.9,133.3 540.4,133.1 540.9,132.9 541.4,132.7 541.9,132.5 542.4,132.3 542.9,132.1 543.4,131.9 543.9,131.6 544.4,131.4 544.9,131.2 545.4,131.0 545.9,130.7 546.4,130.5 546.9,130.3 547.4,130.0 547.9,129.8 548.4,129.6 548.9,129.3 549.4,129.1 549.9,128.9 550.4,128.6 550.9,128.4 551.4,128.1 551.9,127.9 552.4,127.6 552.9,127.3 553.4,127.1 553.9,126.8 554.4,126.5 554.9,126.3 555.4,126.0 555.9,125.7 556.4,125.5 556.9,125.2 557.4,125.0 557.9,124.7 558.4,124.5 558.9,124.3 559.4,124.1 559.9,123.8 560.4,123.6 560.9,123.4 561.4,123.3 561.9,123.1 562.4,122.9 562.9,122.8 563.4,122.6 563.9,122.4 564.4,122.3 564.9,122.1 565.4,121.9 565.9,121.7 566.4,121.5 566.9,121.3 567.4,121.1 567.9,120.9 568.4,120.7 568.9,120.4 569.4,120.2 569.9,119.9 570.4,119.7 570.9,119.4 571.4,119.1 571.9,118.8 572.4,118.5 572.9,118.3 573.4,118.0 573.9,117.7 574.4,117.4 574.9,117.1 575.4,116.8 575.9,116.4 576.4,116.1 576.9,115.8 577.4,115.5 577.9,115.1 578.4,114.8 578.9,114.5 579.4,114.1 579.9,113.8 580.4,113.4 580.9,113.0 581.4,112.7 581.9,112.3 582.4,112.0 582.9,111.6 583.4,111.2 583.9,110.9 584.4,110.5 584.9,110.1 585.4,109.8 585.9,109.4 586.4,109.0 586.9,108.7 587.4,108.3 587.9,108.0 588.4,107.6 588.9,107.2 589.4,106.9 589.9,106.5 590.4,106.2 590.9,105.9 591.4,105.5 591.9,105.2 592.4,104.8 592.9,104.5 593.4,104.1 593.9,103.8 594.4,103.5 594.9,103.1 595.4,102.8 595.9,102.4 596.4,102.1 596.9,101.8 597.4,101.4 597.9,101.1 598.4,100.7 598.9,100.4 599.4,100.1 599.9,99.7 600.4,99.4 600.9,99.0 601.4,98.7 602.0,98.4 602.5,98.0 603.0,97.7 603.5,97.3 604.0,97.0 604.5,96.7 605.0,96.3 605.5,96.0 606.0,95.7 606.5,95.3 607.0,95.0 607.5,94.6 608.0,94.3 608.5,94.0 609.0,93.6 609.5,93.3 610.0,92.9 610.5,92.6 611.0,92.3 611.5,91.9 612.0,91.6 612.5,91.2 613.0,90.9 613.5,90.6 614.0,90.2 614.5,89.9 615.0,89.5 615.5,89.2 616.0,88.8 616.5,88.5 617.0,88.1 617.5,87.8 618.0,87.4 618.5,87.1 619.0,86.7 619.5,86.4 620.0,86.0 620.5,85.7 621.0,85.3 621.5,85.0 622.0,84.6 622.5,84.3 623.0,83.9 623.5,83.5 624.0,83.2 624.5,82.8 625.0,82.5 625.5,82.1 626.0,81.8 626.5,81.4 627.0,81.1 627.5,80.7 628.0,80.4 628.5,80.0 629.0,79.7 629.5,79.3 630.0,79.0 630.5,78.7 631.0,78.3 631.5,78.0 632.0,77.7 632.5,77.3 633.0,77.0 633.5,76.7 634.0,76.3 634.5,76.0 635.0,75.7 635.5,75.4 636.0,75.0 636.5,74.7 637.0,74.4 637.5,74.1 638.0,73.8 638.5,73.5 639.0,73.2 639.5,72.9 640.0,72.6 640.5,72.3 641.0,72.0 641.0,72.0 640.5,73.9 640.0,75.7 639.5,77.5 639.0,79.2 638.5,80.9 638.0,82.5 637.5,84.0 637.0,85.5 636.5,86.9 636.0,88.3 635.5,89.6 635.0,90.9 634.5,92.2 634.0,93.5 633.5,94.7 633.0,96.0 632.5,97.4 632.0,98.7 631.5,100.1 631.0,101.5 630.5,102.9 630.0,104.2 629.5,105.4 629.0,106.6 628.5,107.6 628.0,108.6 627.5,109.5 627.0,110.3 626.5,111.1 626.0,111.8 625.5,112.5 625.0,113.2 624.5,113.9 624.0,114.6 623.5,115.3 623.0,116.0 622.5,116.8 622.0,117.5 621.5,118.2 621.0,118.9 620.5,119.6 620.0,120.3 619.5,121.0 619.0,121.7 618.5,122.4 618.0,123.1 617.5,123.8 617.0,124.5 616.5,125.3 616.0,126.0 615.5,126.9 615.0,127.7 614.5,128.6 614.0,129.4 613.5,130.3 613.0,131.3 612.5,132.2 612.0,133.1 611.5,134.0 611.0,134.9 610.5,135.7 610.0,136.5 609.5,137.3 609.0,138.1 608.5,138.8 608.0,139.5 607.5,140.2 607.0,140.8 606.5,141.5 606.0,142.1 605.5,142.8 605.0,143.4 604.5,144.0 604.0,144.6 603.5,145.2 603.0,145.8 602.5,146.3 602.0,146.9 601.4,147.5 600.9,148.0 600.4,148.5 599.9,149.1 599.4,149.6 598.9,150.1 598.4,150.6 597.9,151.1 597.4,151.6 596.9,152.1 596.4,152.6 595.9,153.0 595.4,153.5 594.9,154.0 594.4,154.4 593.9,154.8 593.4,155.3 592.9,155.7 592.4,156.1 591.9,156.5 591.4,156.9 590.9,157.3 590.4,157.6 589.9,158.0 589.4,158.4 588.9,158.7 588.4,159.1 587.9,159.5 587.4,159.9 586.9,160.2 586.4,160.6 585.9,160.9 585.4,161.2 584.9,161.5 584.4,161.8 583.9,162.1 583.4,162.3 582.9,162.5 582.4,162.6 581.9,162.8 581.4,162.8 580.9,162.9 580.4,163.0 579.9,163.1 579.4,163.2 578.9,163.2 578.4,163.3 577.9,163.4 577.4,163.4 576.9,163.5 576.4,163.5 575.9,163.6 575.4,163.6 574.9,163.6 574.4,163.7 573.9,163.7 573.4,163.7 572.9,163.7 572.4,163.7 571.9,163.7 571.4,163.7 570.9,163.6 570.4,163.6 569.9,163.6 569.4,163.5 568.9,163.5 568.4,163.4 567.9,163.4 567.4,163.3 566.9,163.2 566.4,163.2 565.9,163.1 565.4,163.0 564.9,163.0 564.4,162.9 563.9,162.8 563.4,162.8 562.9,162.7 562.4,162.6 561.9,162.5 561.4,162.4 560.9,162.3 560.4,162.2 559.9,162.1 559.4,161.9 558.9,161.8 558.4,161.7 557.9,161.6 557.4,161.5 556.9,161.4 556.4,161.3 555.9,161.2 555.4,161.1 554.9,161.0 554.4,160.9 553.9,160.8 553.4,160.7 552.9,160.5 552.4,160.4 551.9,160.3 551.4,160.2 550.9,160.1 550.4,160.0 549.9,159.9 549.4,159.9 548.9,159.8 548.4,159.8 547.9,159.8 547.4,159.8 546.9,159.8 546.4,159.8 545.9,159.8 545.4,159.8 544.9,159.8 544.4,159.8 543.9,159.9 543.4,159.9 542.9,159.9 542.4,159.9 541.9,159.9 541.4,159.9 540.9,159.9 540.4,160.0 539.9,160.0 539.4,160.0 538.9,160.0 538.4,160.1 537.9,160.1 537.4,160.1 536.9,160.2 536.4,160.2 535.9,160.2 535.4,160.2 534.9,160.3 534.4,160.3 533.9,160.4 533.4,160.4 532.9,160.4 532.4,160.5 531.9,160.5 531.4,160.6 530.9,160.7 530.4,160.8 529.9,160.9 529.4,161.0 528.9,161.2 528.4,161.3 527.9,161.5 527.4,161.7 526.9,161.9 526.4,162.1 525.9,162.3 525.4,162.6 524.9,162.8 524.4,163.0 523.9,163.3 523.3,163.5 522.8,163.7 522.3,164.0 521.8,164.2 521.3,164.4 520.8,164.7 520.3,164.9 519.8,165.1 519.3,165.3 518.8,165.5 518.3,165.7 517.8,165.9 517.3,166.1 516.8,166.3 516.3,166.5 515.8,166.7 515.3,166.9 514.8,167.1 514.3,167.3 513.8,167.5 513.3,167.7 512.8,167.9 512.3,168.1 511.8,168.3 511.3,168.5 510.8,168.7 510.3,169.0 509.8,169.2 509.3,169.4 508.8,169.6 508.3,169.8 507.8,170.1 507.3,170.3 506.8,170.6 506.3,170.8 505.8,171.1 505.3,171.3 504.8,171.6 504.3,171.9 503.8,172.2 503.3,172.5 502.8,172.7 502.3,173.0 501.8,173.3 501.3,173.6 500.8,173.9 500.3,174.2 499.8,174.5 499.3,174.8 498.8,175.1 498.3,175.4 497.8,175.7 497.3,176.0 496.8,176.2 496.3,176.5 495.8,176.8 495.3,177.1 494.8,177.3 494.3,177.6 493.8,177.8 493.3,178.1 492.8,178.3 492.3,178.6 491.8,178.8 491.3,179.0 490.8,179.2 490.3,179.4 489.8,179.6 489.3,179.7 488.8,179.9 488.3,180.1 487.8,180.3 487.3,180.4 486.8,180.6 486.3,180.8 485.8,180.9 485.3,181.1 484.8,181.2 484.3,181.4 483.8,181.5 483.3,181.7 482.8,181.8 482.3,181.9 481.8,182.1 481.3,182.2 480.8,182.3 480.3,182.5 479.8,182.6 479.3,182.7 478.8,182.8 478.3,182.9 477.8,183.0 477.3,183.1 476.8,183.2 476.3,183.3 475.8,183.4 475.3,183.5 474.8,183.6 474.3,183.7 473.8,183.7 473.3,183.8 472.8,183.9 472.3,183.9 471.8,184.0 471.3,184.1 470.8,184.1 470.3,184.2 469.8,184.3 469.3,184.3 468.8,184.4 468.3,184.5 467.8,184.5 467.3,184.6 466.8,184.6 466.3,184.7 465.8,184.8 465.3,184.9 464.8,184.9 464.3,185.0 463.8,185.1 463.3,185.1 462.8,185.2 462.3,185.3 461.8,185.3 461.3,185.4 460.8,185.5 460.3,185.5 459.8,185.6 459.3,185.7 458.8,185.8 458.3,185.9 457.8,186.0 457.3,186.1 456.8,186.2 456.3,186.4 455.8,186.6 455.3,186.9 454.8,187.2 454.3,187.6 453.8,188.0 453.3,188.4 452.8,188.9 452.3,189.3 451.8,189.8 451.3,190.3 450.8,190.7 450.3,191.2 449.8,191.8 449.3,192.4 448.8,193.0 448.3,193.6 447.8,194.2 447.3,194.8 446.8,195.4 446.3,195.9 445.8,196.4 445.2,196.8 444.7,197.2 444.2,197.5 443.7,197.9 443.2,198.2 442.7,198.5 442.2,198.7 441.7,198.8 441.2,198.8 440.7,198.8 440.2,198.7 439.7,198.6 439.2,198.5 438.7,198.4 438.2,198.2 437.7,197.9 437.2,197.5 436.7,197.0 436.2,196.4 435.7,195.7 435.2,195.1 434.7,194.3 434.2,193.6 433.7,193.0 433.2,192.4 432.7,191.8 432.2,191.2 431.7,190.5 431.2,189.8 430.7,189.2 430.2,188.5 429.7,187.8 429.2,187.2 428.7,186.6 428.2,186.0 427.7,185.5 427.2,185.0 426.7,184.6 426.2,184.3 425.7,184.1 425.2,183.9 424.7,183.6 424.2,183.4 423.7,183.2 423.2,183.1 422.7,182.9 422.2,182.7 421.7,182.6 421.2,182.4 420.7,182.3 420.2,182.2 419.7,182.1 419.2,182.1 418.7,182.0 418.2,182.0 417.7,182.0 417.2,182.1 416.7,182.3 416.2,182.5 415.7,182.8 415.2,183.2 414.7,183.5 414.2,183.9 413.7,184.2 413.2,184.7 412.7,185.2 412.2,185.8 411.7,186.4 411.2,187.1 410.7,187.7 410.2,188.3 409.7,188.8 409.2,189.3 408.7,189.8 408.2,190.3 407.7,190.8 407.2,191.3 406.7,191.7 406.2,192.2Z" fill="none" stroke="#00ff00" stroke-width="1.75" stroke-linejoin="round"/>
<path d="M406.2,194.9 406.7,193.4 407.2,192.0 407.7,190.6 408.2,189.4 408.7,188.2 409.2,187.1 409.7,186.0 410.2,185.1 410.7,184.1 411.2,183.3 411.7,182.5 412.2,181.7 412.7,181.0 413.2,180.3 413.7,179.6 414.2,179.0 414.7,178.4 415.2,177.8 415.7,177.3 416.2,176.8 416.7,176.3 417.2,175.9 417.7,175.5 418.2,175.1 418.7,174.7 419.2,174.3 419.7,173.9 420.2,173.6 420.7,173.3 421.2,173.0 421.7,172.7 422.2,172.4 422.7,172.1 423.2,171.9 423.7,171.6 424.2,171.4 424.7,171.1 425.2,170.9 425.7,170.6 426.2,170.4 426.7,170.2 427.2,170.0 427.7,169.8 428.2,169.5 428.7,169.3 429.2,169.1 429.7,168.9 430.2,168.8 430.7,168.6 431.2,168.4 431.7,168.2 432.2,168.1 432.7,167.9 433.2,167.7 433.7,167.6 434.2,167.4 434.7,167.3 435.2,167.1 435.7,167.0 436.2,166.8 436.7,166.7 437.2,166.6 437.7,166.5 438.2,166.4 438.7,166.2 439.2,166.1 439.7,166.0 440.2,165.9 440.7,165.8 441.2,165.7 441.7,165.6 442.2,165.5 442.7,165.4 443.2,165.3 443.7,165.2 444.2,165.2 444.7,165.1 445.2,165.0 445.7,164.9 446.2,164.8 446.7,164.7 447.2,164.6 447.7,164.5 448.2,164.5 448.7,164.4 449.2,164.3 449.7,164.2 450.2,164.1 450.7,164.1 451.2,164.0 451.7,163.9 452.2,163.8 452.7,163.7 453.2,163.6 453.7,163.5 454.2,163.4 454.7,163.2 455.2,163.1 455.7,162.9 456.2,162.8 456.7,162.6 457.2,162.4 457.7,162.2 458.2,162.1 458.7,161.9 459.2,161.7 459.7,161.5 460.2,161.3 460.7,161.1 461.2,161.0 461.7,160.8 462.2,160.6 462.7,160.4 463.2,160.3 463.7,160.1 464.2,159.9 464.7,159.8 465.2,159.6 465.7,159.4 466.2,159.2 466.7,159.0 467.2,158.9 467.7,158.7 468.2,158.5 468.7,158.3 469.2,158.1 469.7,157.9 470.2,157.7 470.7,157.4 471.2,157.2 471.7,157.0 472.2,156.8 472.7,156.5 473.2,156.3 473.7,156.1 474.2,155.9 474.7,155.6 475.2,155.3 475.7,155.0 476.2,154.6 476.7,154.4 477.2,154.1 477.7,154.0 478.2,153.9 478.7,153.9 479.2,153.9 479.7,154.1 480.2,154.3 480.7,154.5 481.2,154.7 481.7,154.9 482.2,155.1 482.7,155.3 483.2,155.5 483.7,155.7 484.2,155.8 484.7,156.0 485.2,156.1 485.7,156.2 486.2,156.4 486.7,156.5 487.2,156.6 487.7,156.6 488.2,156.7 488.7,156.7 489.2,156.6 489.7,156.5 490.2,156.3 490.7,156.1 491.2,155.9 491.7,155.6 492.2,155.3 492.7,155.0 493.2,154.7 493.7,154.4 494.2,154.0 494.7,153.7 495.2,153.4 495.7,153.1 496.2,152.8 496.7,152.5 497.2,152.1 497.7,151.8 498.2,151.5 498.7,151.1 499.2,150.8 499.7,150.4 500.2,150.0 500.7,149.6 501.2,149.2 501.7,148.8 502.2,148.3 502.7,147.9 503.2,147.4 503.7,146.9 504.2,146.5 504.7,146.0 505.2,145.5 505.7,144.9 506.2,144.4 506.7,143.8 507.2,143.2 507.7,142.6 508.2,142.0 508.7,141.4 509.2,140.9 509.7,140.3 510.2,139.9 510.7,139.4 511.2,138.8 511.7,138.4 512.2,138.0 512.7,137.7 513.2,137.5 513.7,137.4 514.2,137.2 514.7,137.1 515.2,137.1 515.7,137.0 516.2,136.9 516.7,136.9 517.2,136.8 517.7,136.7 518.2,136.7 518.7,136.6 519.2,136.6 519.7,136.6 520.2,136.5 520.7,136.5 521.2,136.5 521.7,136.4 522.2,136.4 522.7,136.4 523.2,136.3 523.7,136.3 524.2,136.2 524.7,136.2 525.2,136.1 525.7,136.0 526.2,136.0 526.7,135.9 527.2,135.8 527.7,135.7 528.2,135.6 528.7,135.5 529.2,135.4 529.7,135.3 530.2,135.1 530.7,135.0 531.2,134.9 531.7,134.8 532.2,134.6 532.7,134.5 533.2,134.4 533.7,134.2 534.2,134.1 534.7,133.9 535.2,133.7 535.7,133.6 536.2,133.4 536.7,133.2 537.2,133.0 537.7,132.8 538.2,132.6 538.7,132.5 539.2,132.3 539.7,132.1 540.2,131.9 540.7,131.7 541.2,131.5 541.7,131.3 542.2,131.0 542.7,130.8 543.2,130.6 543.7,130.4 544.2,130.2 544.7,129.9 545.2,129.7 545.7,129.5 546.2,129.2 546.7,129.0 547.2,128.7 547.7,128.5 548.2,128.2 548.7,128.0 549.2,127.7 549.7,127.5 550.2,127.2 550.7,127.0 551.2,126.7 551.7,126.4 552.2,126.1 552.7,125.9 553.2,125.6 553.7,125.3 554.2,125.0 554.7,124.7 555.2,124.4 555.7,124.1 556.2,123.8 556.7,123.5 557.2,123.2 557.7,122.9 558.2,122.6 558.7,122.3 559.2,122.0 559.7,121.7 560.2,121.4 560.7,121.1 561.2,120.8 561.7,120.5 562.2,120.1 562.7,119.8 563.2,119.5 563.7,119.2 564.2,118.9 564.7,118.5 565.2,118.2 565.7,117.9 566.2,117.6 566.7,117.2 567.2,116.9 567.7,116.6 568.2,116.2 568.7,115.9 569.2,115.6 569.7,115.2 570.2,114.9 570.7,114.5 571.2,114.1 571.7,113.8 572.2,113.4 572.7,113.1 573.2,112.7 573.7,112.3 574.2,111.9 574.7,111.5 575.2,111.2 575.7,110.8 576.2,110.4 576.7,110.0 577.2,109.6 577.7,109.2 578.2,108.9 578.7,108.5 579.2,108.1 579.7,107.7 580.2,107.3 580.7,107.0 581.2,106.6 581.7,106.2 582.2,105.8 582.7,105.5 583.2,105.1 583.7,104.7 584.2,104.3 584.7,104.0 585.2,103.6 585.7,103.2 586.2,102.8 586.7,102.5 587.2,102.1 587.7,101.7 588.2,101.3 588.7,101.0 589.2,100.6 589.7,100.2 590.2,99.9 590.7,99.5 591.2,99.1 591.7,98.7 592.2,98.4 592.7,98.0 593.2,97.6 593.7,97.2 594.2,96.8 594.7,96.5 595.2,96.1 595.7,95.7 596.2,95.3 596.7,95.0 597.2,94.6 597.7,94.2 598.2,93.8 598.7,93.5 599.2,93.1 599.7,92.7 600.2,92.3 600.7,92.0 601.2,91.6 601.7,91.2 602.2,90.8 602.7,90.5 603.2,90.1 603.7,89.7 604.2,89.3 604.7,89.0 605.2,88.6 605.7,88.2 606.2,87.8 606.7,87.5 607.2,87.1 607.7,86.7 608.2,86.4 608.7,86.0 609.2,85.6 609.7,85.3 610.2,84.9 610.7,84.5 611.2,84.2 611.7,83.8 612.2,83.4 612.7,83.1 613.2,82.7 613.7,82.3 614.2,82.0 614.7,81.6 615.2,81.3 615.7,80.9 616.2,80.5 616.7,80.2 617.2,79.8 617.7,79.5 618.2,79.1 618.7,78.8 619.2,78.4 619.7,78.0 620.2,77.7 620.7,77.3 621.2,77.0 621.7,76.6 622.2,76.3 622.7,75.9 623.2,75.6 623.7,75.2 624.2,74.9 624.7,74.5 625.2,74.2 625.7,73.8 626.2,73.5 626.7,73.1 627.2,72.8 627.7,72.4 628.2,72.1 628.7,71.7 629.2,71.4 629.7,71.1 630.2,70.7 630.7,70.4 631.2,70.0 631.7,69.7 632.2,69.3 632.7,69.0 633.2,68.7 633.7,68.3 634.2,68.0 634.7,67.6 635.2,67.3 635.7,67.0 636.2,66.6 636.7,66.3 637.2,65.9 637.7,65.6 638.2,65.3 638.7,64.9 639.2,64.6 639.7,64.3 640.2,63.9 640.7,63.6 640.7,63.6 640.2,65.4 639.7,67.1 639.2,68.9 638.7,70.6 638.2,72.2 637.7,73.8 637.2,75.4 636.7,76.9 636.2,78.4 635.7,79.9 635.2,81.3 634.7,82.6 634.2,83.9 633.7,85.2 633.2,86.4 632.7,87.7 632.2,88.9 631.7,90.2 631.2,91.5 630.7,92.8 630.2,94.1 629.7,95.5 629.2,96.9 628.7,98.2 628.2,99.6 627.7,100.9 627.2,102.2 626.7,103.4 626.2,104.6 625.7,105.6 625.2,106.7 624.7,107.6 624.2,108.6 623.7,109.5 623.2,110.4 622.7,111.2 622.2,112.1 621.7,112.9 621.2,113.8 620.7,114.7 620.2,115.5 619.7,116.4 619.2,117.2 618.7,118.1 618.2,118.9 617.7,119.8 617.2,120.6 616.7,121.4 616.2,122.3 615.7,123.1 615.2,124.0 614.7,124.8 614.2,125.7 613.7,126.5 613.2,127.4 612.7,128.3 612.2,129.2 611.7,130.1 611.2,131.0 610.7,131.9 610.2,132.8 609.7,133.7 609.2,134.6 608.7,135.5 608.2,136.3 607.7,137.2 607.2,138.0 606.7,138.9 606.2,139.7 605.7,140.5 605.2,141.3 604.7,142.0 604.2,142.8 603.7,143.5 603.2,144.2 602.7,145.0 602.2,145.7 601.7,146.4 601.2,147.1 600.7,147.8 600.2,148.5 599.7,149.2 599.2,149.9 598.7,150.6 598.2,151.3 597.7,152.0 597.2,152.7 596.7,153.4 596.2,154.2 595.7,154.9 595.2,155.6 594.7,156.4 594.2,157.1 593.7,157.8 593.2,158.5 592.7,159.2 592.2,159.8 591.7,160.3 591.2,160.9 590.7,161.4 590.2,162.0 589.7,162.5 589.2,163.0 588.7,163.5 588.2,164.0 587.7,164.4 587.2,164.8 586.7,165.3 586.2,165.7 585.7,166.0 585.2,166.4 584.7,166.7 584.2,167.0 583.7,167.3 583.2,167.6 582.7,168.0 582.2,168.2 581.7,168.5 581.2,168.8 580.7,169.0 580.2,169.3 579.7,169.5 579.2,169.6 578.7,169.8 578.2,169.9 577.7,170.0 577.2,170.1 576.7,170.1 576.2,170.2 575.7,170.3 575.2,170.4 574.7,170.4 574.2,170.5 573.7,170.5 573.2,170.6 572.7,170.6 572.2,170.7 571.7,170.7 571.2,170.7 570.7,170.8 570.2,170.8 569.7,170.8 569.2,170.8 568.7,170.8 568.2,170.8 567.7,170.7 567.2,170.7 566.7,170.6 566.2,170.6 565.7,170.5 565.2,170.4 564.7,170.4 564.2,170.3 563.7,170.2 563.2,170.1 562.7,170.0 562.2,169.9 561.7,169.8 561.2,169.7 560.7,169.5 560.2,169.4 559.7,169.3 559.2,169.2 558.7,169.1 558.2,169.0 557.7,168.8 557.2,168.7 556.7,168.5 556.2,168.3 555.7,168.2 555.2,168.0 554.7,167.8 554.2,167.6 553.7,167.5 553.2,167.3 552.7,167.1 552.2,166.9 551.7,166.7 551.2,166.5 550.7,166.3 550.2,166.1 549.7,165.8 549.2,165.6 548.7,165.4 548.2,165.1 547.7,164.9 547.2,164.7 546.7,164.5 546.2,164.3 545.7,164.1 545.2,163.9 544.7,163.8 544.2,163.6 543.7,163.5 543.2,163.3 542.7,163.2 542.2,163.0 541.7,162.9 541.2,162.7 540.7,162.6 540.2,162.5 539.7,162.3 539.2,162.2 538.7,162.1 538.2,162.0 537.7,161.9 537.2,161.8 536.7,161.7 536.2,161.6 535.7,161.5 535.2,161.5 534.7,161.4 534.2,161.4 533.7,161.4 533.2,161.4 532.7,161.4 532.2,161.5 531.7,161.6 531.2,161.6 530.7,161.8 530.2,161.9 529.7,162.0 529.2,162.2 528.7,162.3 528.2,162.5 527.7,162.7 527.2,162.9 526.7,163.1 526.2,163.3 525.7,163.5 525.2,163.8 524.7,164.0 524.2,164.2 523.7,164.4 523.2,164.7 522.7,164.9 522.2,165.1 521.7,165.3 521.2,165.5 520.7,165.7 520.2,165.9 519.7,166.1 519.2,166.3 518.7,166.5 518.2,166.7 517.7,166.9 517.2,167.1 516.7,167.3 516.2,167.5 515.7,167.7 515.2,167.9 514.7,168.1 514.2,168.3 513.7,168.5 513.2,168.7 512.7,168.9 512.2,169.1 511.7,169.3 511.2,169.6 510.7,169.8 510.2,170.0 509.7,170.2 509.2,170.5 508.7,170.7 508.2,170.9 507.7,171.1 507.2,171.4 506.7,171.6 506.2,171.9 505.7,172.1 505.2,172.4 504.7,172.7 504.2,172.9 503.7,173.2 503.2,173.5 502.7,173.8 502.2,174.1 501.7,174.4 501.2,174.7 500.7,175.0 500.2,175.2 499.7,175.5 499.2,175.8 498.7,176.1 498.2,176.4 497.7,176.7 497.2,177.0 496.7,177.3 496.2,177.5 495.7,177.8 495.2,178.1 494.7,178.4 494.2,178.6 493.7,178.9 493.2,179.1 492.7,179.4 492.2,179.6 491.7,179.8 491.2,180.0 490.7,180.2 490.2,180.4 489.7,180.6 489.2,180.8 488.7,181.0 488.2,181.2 487.7,181.3 487.2,181.5 486.7,181.7 486.2,181.8 485.7,182.0 485.2,182.2 484.7,182.3 484.2,182.5 483.7,182.6 483.2,182.8 482.7,182.9 482.2,183.1 481.7,183.2 481.2,183.4 480.7,183.5 480.2,183.6 479.7,183.7 479.2,183.9 478.7,184.0 478.2,184.1 477.7,184.2 477.2,184.3 476.7,184.4 476.2,184.5 475.7,184.6 475.2,184.7 474.7,184.8 474.2,184.9 473.7,185.0 473.2,185.1 472.7,185.2 472.2,185.2 471.7,185.3 471.2,185.4 470.7,185.5 470.2,185.6 469.7,185.6 469.2,185.7 468.7,185.8 468.2,185.8 467.7,185.9 467.2,186.0 466.7,186.1 466.2,186.1 465.7,186.2 465.2,186.3 464.7,186.3 464.2,186.4 463.7,186.5 463.2,186.5 462.7,186.6 462.2,186.6 461.7,186.7 461.2,186.7 460.7,186.8 460.2,186.9 459.7,186.9 459.2,187.0 458.7,187.1 458.2,187.1 457.7,187.2 457.2,187.3 456.7,187.5 456.2,187.6 455.7,187.8 455.2,188.0 454.7,188.4 454.2,188.7 453.7,189.1 453.2,189.5 452.7,190.0 452.2,190.4 451.7,190.9 451.2,191.3 450.7,191.8 450.2,192.3 449.7,192.8 449.2,193.4 448.7,193.9 448.2,194.5 447.7,195.1 447.2,195.7 446.7,196.3 446.2,196.8 445.7,197.3 445.2,197.8 444.7,198.3 444.2,198.9 443.7,199.4 443.2,199.8 442.7,200.3 442.2,200.7 441.7,201.1 441.2,201.4 440.7,201.7 440.2,201.9 439.7,202.2 439.2,202.4 438.7,202.5 438.2,202.6 437.7,202.6 437.2,202.4 436.7,202.2 436.2,201.9 435.7,201.5 435.2,201.1 434.7,200.8 434.2,200.2 433.7,199.6 433.2,198.9 432.7,198.2 432.2,197.4 431.7,196.6 431.2,195.8 430.7,195.2 430.2,194.5 429.7,193.9 429.2,193.2 428.7,192.6 428.2,191.9 427.7,191.3 427.2,190.6 426.7,190.0 426.2,189.4 425.7,188.8 425.2,188.3 424.7,187.9 424.2,187.4 423.7,187.1 423.2,186.8 422.7,186.5 422.2,186.2 421.7,186.0 421.2,185.7 420.7,185.5 420.2,185.2 419.7,185.0 419.2,184.8 418.7,184.6 418.2,184.5 417.7,184.4 417.2,184.3 416.7,184.2 416.2,184.2 415.7,184.3 415.2,184.5 414.7,184.8 414.2,185.1 413.7,185.6 413.2,186.1 412.7,186.7 412.2,187.3 411.7,187.9 411.2,188.6 410.7,189.2 410.2,189.8 409.7,190.3 409.2,190.9 408.7,191.5 408.2,192.2 407.7,192.8 407.2,193.5 406.7,194.2 406.2,194.9Z" fill="none" stroke="#0000ff" stroke-width="1.75" stroke-linejoin="round"/>
<path d="M406.2,197.0 406.7,195.7 407.2,194.5 407.7,193.4 408.2,192.2 408.7,191.1 409.2,190.1 409.7,189.1 410.2,188.2 410.7,187.2 411.2,186.4 411.7,185.5 412.2,184.7 412.7,183.9 413.2,183.2 413.7,182.5 414.2,181.8 414.7,181.2 415.2,180.6 415.7,179.9 416.2,179.4 416.7,178.8 417.2,178.3 417.7,177.8 418.2,177.3 418.7,176.9 419.2,176.4 419.7,176.0 420.2,175.6 420.7,175.2 421.2,174.8 421.7,174.5 422.2,174.1 422.7,173.8 423.2,173.5 423.7,173.2 424.2,172.9 424.7,172.6 425.2,172.3 425.7,172.1 426.2,171.8 426.7,171.5 427.2,171.3 427.7,171.0 428.2,170.8 428.7,170.6 429.2,170.3 429.7,170.1 430.2,169.9 430.7,169.7 431.2,169.5 431.7,169.3 432.2,169.1 432.7,168.9 433.2,168.7 433.7,168.5 434.2,168.4 434.7,168.2 435.2,168.0 435.7,167.9 436.2,167.7 436.7,167.6 437.2,167.5 437.7,167.3 438.2,167.2 438.7,167.1 439.2,167.0 439.7,166.9 440.2,166.8 440.7,166.7 441.2,166.5 441.7,166.4 442.2,166.3 442.7,166.2 443.2,166.1 443.7,166.1 444.2,166.0 444.7,165.9 445.2,165.8 445.7,165.7 446.2,165.6 446.7,165.5 447.2,165.4 447.7,165.3 448.2,165.2 448.7,165.2 449.2,165.1 449.7,165.0 450.2,164.9 450.7,164.9 451.2,164.8 451.7,164.7 452.2,164.6 452.7,164.5 453.2,164.4 453.7,164.3 454.2,164.1 454.7,164.0 455.2,163.9 455.7,163.7 456.2,163.5 456.7,163.3 457.2,163.2 457.7,163.0 458.2,162.8 458.7,162.6 459.2,162.4 459.7,162.2 460.2,162.0 460.7,161.8 461.2,161.6 461.7,161.5 462.2,161.3 462.7,161.1 463.2,160.9 463.7,160.8 464.2,160.6 464.7,160.4 465.2,160.3 465.7,160.1 466.2,159.9 466.7,159.8 467.2,159.6 467.7,159.4 468.2,159.2 468.7,159.0 469.2,158.8 469.7,158.6 470.2,158.4 470.7,158.2 471.2,158.0 471.7,157.8 472.2,157.6 472.7,157.3 473.2,157.1 473.7,156.9 474.2,156.6 474.7,156.4 475.2,156.1 475.7,155.7 476.2,155.4 476.7,155.1 477.2,154.9 477.7,154.7 478.2,154.6 478.7,154.6 479.2,154.7 479.7,154.8 480.2,155.0 480.7,155.2 481.2,155.3 481.7,155.5 482.2,155.7 482.7,155.9 483.2,156.0 483.7,156.2 484.2,156.3 484.7,156.4 485.2,156.5 485.7,156.6 486.2,156.7 486.7,156.8 487.2,156.9 487.7,157.0 488.2,157.0 488.7,157.0 489.2,156.9 489.7,156.8 490.2,156.6 490.7,156.4 491.2,156.2 491.7,155.9 492.2,155.7 492.7,155.4 493.2,155.1 493.7,154.7 494.2,154.4 494.7,154.1 495.2,153.7 495.7,153.4 496.2,153.1 496.7,152.8 497.2,152.5 497.7,152.2 498.2,151.8 498.7,151.4 499.2,151.1 499.7,150.7 500.2,150.3 500.7,149.9 501.2,149.5 501.7,149.0 502.2,148.6 502.7,148.1 503.2,147.7 503.7,147.2 504.2,146.7 504.7,146.2 505.2,145.7 505.7,145.2 506.2,144.6 506.7,144.0 507.2,143.4 507.7,142.8 508.2,142.2 508.7,141.6 509.2,141.1 509.7,140.5 510.2,140.0 510.7,139.5 511.2,139.0 511.7,138.5 512.2,138.0 512.7,137.7 513.2,137.4 513.7,137.2 514.2,137.0 514.7,136.9 515.2,136.7 515.7,136.6 516.2,136.4 516.7,136.3 517.2,136.2 517.7,136.1 518.2,136.0 518.7,135.9 519.2,135.8 519.7,135.8 520.2,135.7 520.7,135.6 521.2,135.6 521.7,135.5 522.2,135.5 522.7,135.4 523.2,135.3 523.8,135.2 524.3,135.2 524.8,135.1 525.3,135.0 525.8,134.9 526.3,134.8 526.8,134.7 527.3,134.6 527.8,134.5 528.3,134.4 528.8,134.3 529.3,134.2 529.8,134.1 530.3,133.9 530.8,133.8 531.3,133.7 531.8,133.6 532.3,133.4 532.8,133.3 533.3,133.1 533.8,133.0 534.3,132.8 534.8,132.6 535.3,132.5 535.8,132.3 536.3,132.1 536.8,131.9 537.3,131.7 537.8,131.5 538.3,131.3 538.8,131.1 539.3,130.9 539.8,130.7 540.3,130.4 540.8,130.2 541.3,130.0 541.8,129.8 542.3,129.6 542.8,129.4 543.3,129.1 543.8,128.9 544.3,128.7 544.8,128.4 545.3,128.2 545.8,127.9 546.3,127.7 546.8,127.4 547.3,127.2 547.8,126.9 548.3,126.7 548.8,126.4 549.3,126.1 549.8,125.8 550.3,125.6 550.8,125.3 551.3,125.0 551.8,124.7 552.3,124.4 552.8,124.1 553.3,123.8 553.8,123.5 554.3,123.2 554.8,122.9 555.3,122.6 555.8,122.2 556.3,121.9 556.8,121.6 557.3,121.3 557.8,121.0 558.3,120.6 558.8,120.3 559.3,120.0 559.8,119.7 560.3,119.3 560.8,119.0 561.3,118.7 561.8,118.3 562.3,118.0 562.8,117.7 563.3,117.3 563.8,117.0 564.3,116.7 564.8,116.3 565.3,116.0 565.8,115.6 566.3,115.3 566.8,114.9 567.3,114.6 567.8,114.2 568.3,113.8 568.8,113.4 569.3,113.1 569.8,112.7 570.3,112.3 570.8,111.9 571.3,111.5 571.8,111.1 572.3,110.6 572.8,110.2 573.3,109.8 573.8,109.3 574.3,108.9 574.8,108.4 575.3,107.9 575.8,107.5 576.3,107.0 576.8,106.5 577.3,106.0 577.8,105.5 578.3,105.1 578.8,104.6 579.3,104.1 579.8,103.6 580.3,103.1 580.8,102.6 581.3,102.1 581.8,101.6 582.3,101.1 582.8,100.6 583.3,100.1 583.8,99.7 584.3,99.2 584.8,98.7 585.3,98.2 585.8,97.8 586.3,97.3 586.8,96.8 587.3,96.4 587.8,95.9 588.3,95.5 588.8,95.0 589.3,94.6 589.8,94.2 590.3,93.8 590.8,93.4 591.3,93.0 591.8,92.5 592.3,92.1 592.8,91.7 593.3,91.4 593.8,91.0 594.3,90.6 594.8,90.2 595.3,89.8 595.8,89.4 596.3,89.0 596.8,88.7 597.3,88.3 597.8,87.9 598.3,87.5 598.8,87.2 599.3,86.8 599.8,86.4 600.3,86.1 600.8,85.7 601.3,85.3 601.8,85.0 602.3,84.6 602.8,84.3 603.3,83.9 603.8,83.5 604.3,83.2 604.8,82.8 605.3,82.5 605.8,82.1 606.3,81.7 606.8,81.4 607.3,81.0 607.8,80.6 608.3,80.3 608.8,79.9 609.3,79.6 609.8,79.2 610.3,78.8 610.8,78.5 611.3,78.1 611.8,77.7 612.3,77.3 612.8,77.0 613.3,76.6 613.8,76.2 614.3,75.8 614.8,75.4 615.3,75.1 615.8,74.7 616.3,74.3 616.8,73.9 617.3,73.5 617.8,73.1 618.3,72.7 618.8,72.4 619.3,72.0 619.8,71.6 620.3,71.2 620.8,70.8 621.3,70.4 621.8,70.0 622.3,69.6 622.8,69.3 623.3,68.9 623.8,68.5 624.3,68.1 624.8,67.7 625.3,67.3 625.8,66.9 626.3,66.5 626.8,66.2 627.3,65.8 627.8,65.4 628.3,65.0 628.8,64.6 629.3,64.3 629.8,63.9 630.3,63.5 630.8,63.2 631.3,62.8 631.8,62.4 632.3,62.0 632.8,61.7 633.3,61.3 633.8,60.9 634.3,60.6 634.8,60.2 635.3,59.9 635.8,59.5 636.3,59.1 636.8,58.8 637.3,58.4 637.8,58.1 638.3,57.7 638.8,57.4 639.3,57.0 639.8,56.7 640.3,56.3 640.8,56.0 641.3,55.6 641.3,55.6 640.8,57.1 640.3,58.7 639.8,60.2 639.3,61.7 638.8,63.2 638.3,64.7 637.8,66.2 637.3,67.7 636.8,69.1 636.3,70.6 635.8,72.0 635.3,73.4 634.8,74.9 634.3,76.3 633.8,77.7 633.3,79.1 632.8,80.5 632.3,81.8 631.8,83.2 631.3,84.6 630.8,85.9 630.3,87.2 629.8,88.5 629.3,89.9 628.8,91.2 628.3,92.5 627.8,93.9 627.3,95.2 626.8,96.5 626.3,97.7 625.8,99.0 625.3,100.1 624.8,101.3 624.3,102.4 623.8,103.4 623.3,104.4 622.8,105.3 622.3,106.2 621.8,107.1 621.3,108.0 620.8,108.8 620.3,109.6 619.8,110.5 619.3,111.3 618.8,112.1 618.3,113.0 617.8,113.9 617.3,114.8 616.8,115.7 616.3,116.5 615.8,117.4 615.3,118.3 614.8,119.2 614.3,120.1 613.8,121.0 613.3,121.9 612.8,122.9 612.3,123.8 611.8,124.7 611.3,125.6 610.8,126.5 610.3,127.5 609.8,128.4 609.3,129.3 608.8,130.3 608.3,131.3 607.8,132.2 607.3,133.2 606.8,134.2 606.3,135.2 605.8,136.2 605.3,137.2 604.8,138.1 604.3,139.1 603.8,140.1 603.3,141.1 602.8,142.1 602.3,143.0 601.8,144.0 601.3,145.0 600.8,145.9 600.3,146.9 599.8,147.9 599.3,148.9 598.8,149.9 598.3,150.9 597.8,151.9 597.3,152.9 596.8,153.9 596.3,154.8 595.8,155.7 595.3,156.6 594.8,157.4 594.3,158.2 593.8,158.9 593.3,159.5 592.8,160.2 592.3,160.7 591.8,161.3 591.3,161.8 590.8,162.4 590.3,162.9 589.8,163.3 589.3,163.8 588.8,164.3 588.3,164.7 587.8,165.2 587.3,165.7 586.8,166.1 586.3,166.5 585.8,167.0 585.3,167.4 584.8,167.8 584.3,168.2 583.8,168.6 583.3,169.0 582.8,169.4 582.3,169.8 581.8,170.2 581.3,170.6 580.8,171.0 580.3,171.4 579.8,171.8 579.3,172.2 578.8,172.5 578.3,172.9 577.8,173.3 577.3,173.7 576.8,174.0 576.3,174.3 575.8,174.6 575.3,174.9 574.8,175.1 574.3,175.3 573.8,175.6 573.3,175.8 572.8,176.0 572.3,176.2 571.8,176.4 571.3,176.6 570.8,176.8 570.3,176.9 569.8,177.1 569.3,177.2 568.8,177.3 568.3,177.4 567.8,177.4 567.3,177.4 566.8,177.4 566.3,177.4 565.8,177.4 565.3,177.4 564.8,177.4 564.3,177.4 563.8,177.4 563.3,177.4 562.8,177.4 562.3,177.4 561.8,177.4 561.3,177.4 560.8,177.3 560.3,177.3 559.8,177.2 559.3,177.1 558.8,177.0 558.3,176.9 557.8,176.8 557.3,176.6 556.8,176.5 556.3,176.4 555.8,176.3 555.3,176.2 554.8,176.0 554.3,175.9 553.8,175.8 553.3,175.7 552.8,175.6 552.3,175.5 551.8,175.4 551.3,175.2 550.8,175.1 550.3,175.0 549.8,174.8 549.3,174.7 548.8,174.5 548.3,174.3 547.8,174.1 547.3,173.8 546.8,173.5 546.3,173.2 545.8,172.8 545.3,172.4 544.8,172.0 544.3,171.5 543.8,171.1 543.3,170.6 542.8,170.1 542.3,169.7 541.8,169.2 541.3,168.8 540.8,168.4 540.3,168.0 539.8,167.6 539.3,167.3 538.8,166.9 538.3,166.5 537.8,166.1 537.3,165.7 536.8,165.3 536.3,164.9 535.8,164.5 535.3,164.2 534.8,163.9 534.3,163.6 533.8,163.4 533.3,163.2 532.8,163.1 532.3,163.0 531.8,163.0 531.3,163.0 530.8,163.1 530.3,163.1 529.8,163.2 529.3,163.3 528.8,163.4 528.3,163.5 527.8,163.7 527.3,163.8 526.8,164.0 526.3,164.1 525.8,164.3 525.3,164.5 524.8,164.7 524.3,164.9 523.8,165.1 523.2,165.3 522.7,165.5 522.2,165.7 521.7,165.9 521.2,166.0 520.7,166.2 520.2,166.4 519.7,166.6 519.2,166.8 518.7,167.0 518.2,167.1 517.7,167.3 517.2,167.5 516.7,167.7 516.2,167.9 515.7,168.1 515.2,168.4 514.7,168.6 514.2,168.8 513.7,169.0 513.2,169.2 512.7,169.5 512.2,169.7 511.7,169.9 511.2,170.2 510.7,170.4 510.2,170.6 509.7,170.9 509.2,171.1 508.7,171.3 508.2,171.6 507.7,171.8 507.2,172.1 506.7,172.3 506.2,172.6 505.7,172.9 505.2,173.1 504.7,173.4 504.2,173.7 503.7,174.0 503.2,174.2 502.7,174.5 502.2,174.8 501.7,175.1 501.2,175.4 500.7,175.7 500.2,176.0 499.7,176.3 499.2,176.6 498.7,176.9 498.2,177.2 497.7,177.5 497.2,177.8 496.7,178.1 496.2,178.4 495.7,178.7 495.2,178.9 494.7,179.2 494.2,179.5 493.7,179.7 493.2,180.0 492.7,180.3 492.2,180.5 491.7,180.7 491.2,181.0 490.7,181.2 490.2,181.4 489.7,181.6 489.2,181.8 488.7,182.0 488.2,182.2 487.7,182.4 487.2,182.6 486.7,182.8 486.2,183.0 485.7,183.2 485.2,183.3 484.7,183.5 484.2,183.7 483.7,183.9 483.2,184.0 482.7,184.2 482.2,184.4 481.7,184.5 481.2,184.7 480.7,184.8 480.2,185.0 479.7,185.1 479.2,185.3 478.7,185.4 478.2,185.6 477.7,185.7 477.2,185.8 476.7,185.9 476.2,186.0 475.7,186.2 475.2,186.3 474.7,186.4 474.2,186.5 473.7,186.6 473.2,186.7 472.7,186.8 472.2,186.9 471.7,187.0 471.2,187.1 470.7,187.2 470.2,187.3 469.7,187.4 469.2,187.5 468.7,187.5 468.2,187.6 467.7,187.7 467.2,187.8 466.7,187.8 466.2,187.9 465.7,187.9 465.2,188.0 464.7,188.0 464.2,188.1 463.7,188.1 463.2,188.1 462.7,188.1 462.2,188.2 461.7,188.2 461.2,188.2 460.7,188.2 460.2,188.2 459.7,188.3 459.2,188.3 458.7,188.3 458.2,188.3 457.7,188.4 457.2,188.4 456.7,188.5 456.2,188.6 455.7,188.7 455.2,189.0 454.7,189.4 454.2,189.9 453.7,190.4 453.2,191.0 452.7,191.6 452.2,192.2 451.7,192.9 451.2,193.5 450.7,194.1 450.2,194.7 449.7,195.2 449.2,195.7 448.7,196.2 448.2,196.8 447.7,197.4 447.2,197.9 446.7,198.5 446.2,199.1 445.7,199.7 445.2,200.2 444.7,200.8 444.2,201.3 443.7,201.8 443.2,202.2 442.7,202.7 442.2,203.1 441.7,203.4 441.2,203.7 440.7,204.0 440.2,204.2 439.7,204.5 439.2,204.7 438.7,204.9 438.2,205.1 437.7,205.2 437.2,205.3 436.7,205.3 436.2,205.2 435.7,205.0 435.2,204.8 434.7,204.6 434.2,204.3 433.7,204.0 433.2,203.6 432.7,203.3 432.2,202.9 431.7,202.3 431.2,201.8 430.7,201.1 430.2,200.5 429.7,199.8 429.2,199.1 428.7,198.5 428.2,197.9 427.7,197.2 427.2,196.5 426.7,195.8 426.2,195.1 425.7,194.4 425.2,193.7 424.7,193.0 424.2,192.3 423.7,191.7 423.2,191.1 422.7,190.6 422.2,190.1 421.7,189.7 421.2,189.3 420.7,189.0 420.2,188.6 419.7,188.3 419.2,188.0 418.7,187.6 418.2,187.4 417.7,187.1 417.2,186.9 416.7,186.7 416.2,186.6 415.7,186.5 415.2,186.5 414.7,186.6 414.2,187.0 413.7,187.4 413.2,188.0 412.7,188.7 412.2,189.4 411.7,190.1 411.2,190.9 410.7,191.6 410.2,192.3 409.7,192.8 409.2,193.4 408.7,194.0 408.2,194.6 407.7,195.2 407.2,195.8 406.7,196.4 406.2,197.0Z" fill="none" stroke="#00ffff" stroke-width="1.75" stroke-linejoin="round"/>
<path d="M406.2,199.0 406.7,197.9 407.2,196.9 407.7,195.9 408.2,194.9 408.7,193.9 409.2,193.0 409.7,192.0 410.2,191.1 410.7,190.3 411.2,189.4 411.7,188.5 412.2,187.7 412.7,186.9 413.2,186.2 413.7,185.4 414.2,184.7 414.7,184.0 415.2,183.4 415.7,182.7 416.2,182.1 416.7,181.5 417.2,180.9 417.7,180.3 418.2,179.8 418.7,179.3 419.2,178.8 419.7,178.4 420.2,177.9 420.7,177.5 421.2,177.1 421.7,176.7 422.2,176.3 422.7,176.0 423.2,175.6 423.7,175.3 424.2,174.9 424.7,174.6 425.2,174.3 425.7,174.0 426.2,173.7 426.7,173.4 427.2,173.1 427.7,172.8 428.2,172.5 428.7,172.2 429.2,171.9 429.7,171.6 430.2,171.3 430.7,171.1 431.2,170.8 431.7,170.5 432.2,170.3 432.7,170.0 433.2,169.8 433.7,169.6 434.2,169.4 434.7,169.2 435.2,169.0 435.7,168.8 436.2,168.6 436.7,168.5 437.2,168.3 437.7,168.2 438.2,168.0 438.7,167.9 439.2,167.8 439.7,167.6 440.2,167.5 440.7,167.4 441.2,167.3 441.7,167.2 442.2,167.1 442.7,167.0 443.2,166.9 443.7,166.8 444.2,166.7 444.7,166.6 445.2,166.5 445.7,166.4 446.2,166.3 446.7,166.2 447.2,166.1 447.7,166.0 448.2,166.0 448.7,165.9 449.2,165.8 449.7,165.7 450.2,165.7 450.7,165.6 451.2,165.5 451.7,165.4 452.2,165.3 452.7,165.3 453.2,165.2 453.7,165.1 454.2,165.0 454.7,164.8 455.2,164.7 455.7,164.6 456.2,164.4 456.7,164.3 457.2,164.1 457.7,164.0 458.2,163.8 458.7,163.7 459.2,163.5 459.7,163.3 460.2,163.2 460.7,163.0 461.2,162.9 461.7,162.7 462.2,162.6 462.7,162.4 463.2,162.2 463.7,162.1 464.2,161.9 464.7,161.8 465.2,161.6 465.7,161.4 466.2,161.3 466.7,161.1 467.2,160.9 467.7,160.8 468.2,160.6 468.7,160.4 469.2,160.2 469.7,160.0 470.2,159.8 470.7,159.6 471.2,159.4 471.7,159.2 472.2,159.0 472.7,158.8 473.2,158.6 473.7,158.3 474.2,158.1 474.7,157.8 475.2,157.5 475.7,157.2 476.2,156.9 476.7,156.6 477.2,156.4 477.7,156.2 478.2,156.1 478.7,156.1 479.2,156.1 479.7,156.2 480.2,156.3 480.7,156.4 481.2,156.5 481.7,156.7 482.2,156.8 482.7,156.9 483.2,157.0 483.7,157.0 484.2,157.1 484.7,157.2 485.2,157.3 485.7,157.3 486.2,157.4 486.7,157.4 487.2,157.5 487.7,157.5 488.2,157.5 488.7,157.5 489.2,157.5 489.7,157.4 490.2,157.2 490.7,157.0 491.2,156.8 491.7,156.6 492.2,156.3 492.7,156.0 493.2,155.7 493.7,155.4 494.2,155.1 494.7,154.8 495.2,154.5 495.7,154.2 496.2,153.9 496.7,153.5 497.2,153.2 497.7,152.8 498.2,152.4 498.7,152.0 499.2,151.6 499.7,151.2 500.2,150.8 500.7,150.4 501.2,150.0 501.7,149.6 502.2,149.1 502.7,148.7 503.2,148.2 503.7,147.8 504.2,147.3 504.7,146.8 505.2,146.3 505.7,145.7 506.2,145.2 506.7,144.6 507.2,144.0 507.7,143.3 508.2,142.7 508.7,142.1 509.2,141.5 509.7,140.9 510.2,140.4 510.7,139.8 511.2,139.2 511.7,138.7 512.2,138.2 512.7,137.7 513.2,137.3 513.7,137.0 514.2,136.7 514.7,136.4 515.2,136.1 515.7,135.8 516.2,135.6 516.7,135.3 517.2,135.1 517.7,134.9 518.2,134.8 518.7,134.6 519.2,134.4 519.7,134.3 520.2,134.2 520.7,134.0 521.2,133.9 521.7,133.8 522.2,133.7 522.7,133.6 523.2,133.5 523.8,133.3 524.3,133.2 524.8,133.1 525.3,133.0 525.8,132.9 526.3,132.7 526.8,132.6 527.3,132.5 527.8,132.4 528.3,132.3 528.8,132.2 529.3,132.0 529.8,131.9 530.3,131.8 530.8,131.7 531.3,131.5 531.8,131.4 532.3,131.2 532.8,131.1 533.3,130.9 533.8,130.7 534.3,130.5 534.8,130.3 535.3,130.1 535.8,129.9 536.3,129.7 536.8,129.5 537.3,129.3 537.8,129.0 538.3,128.8 538.8,128.6 539.3,128.3 539.8,128.1 540.3,127.9 540.8,127.7 541.3,127.4 541.8,127.2 542.3,126.9 542.8,126.7 543.3,126.4 543.8,126.1 544.3,125.9 544.8,125.6 545.3,125.4 545.8,125.1 546.3,124.8 546.8,124.6 547.3,124.3 547.8,124.0 548.3,123.8 548.8,123.5 549.3,123.2 549.8,123.0 550.3,122.7 550.8,122.5 551.3,122.2 551.8,122.0 552.3,121.7 552.8,121.5 553.3,121.2 553.8,121.0 554.3,120.7 554.8,120.5 555.3,120.2 555.8,120.0 556.3,119.7 556.8,119.4 557.3,119.1 557.8,118.9 558.3,118.6 558.8,118.3 559.3,118.0 559.8,117.6 560.3,117.3 560.8,117.0 561.3,116.7 561.8,116.3 562.3,115.9 562.8,115.6 563.3,115.2 563.8,114.8 564.3,114.4 564.8,114.0 565.3,113.6 565.8,113.2 566.3,112.8 566.8,112.3 567.3,111.9 567.8,111.5 568.3,111.0 568.8,110.6 569.3,110.2 569.8,109.7 570.3,109.3 570.8,108.8 571.3,108.3 571.8,107.8 572.3,107.4 572.8,106.9 573.3,106.3 573.8,105.8 574.3,105.3 574.8,104.8 575.3,104.3 575.8,103.7 576.3,103.2 576.8,102.6 577.3,102.1 577.8,101.5 578.3,101.0 578.8,100.4 579.3,99.8 579.8,99.3 580.3,98.7 580.8,98.1 581.3,97.6 581.8,97.0 582.3,96.4 582.8,95.9 583.3,95.3 583.8,94.7 584.3,94.2 584.8,93.6 585.3,93.0 585.8,92.5 586.3,91.9 586.8,91.4 587.3,90.9 587.8,90.3 588.3,89.8 588.8,89.3 589.3,88.7 589.8,88.2 590.3,87.7 590.8,87.2 591.3,86.7 591.8,86.2 592.3,85.7 592.8,85.2 593.3,84.7 593.8,84.3 594.3,83.8 594.8,83.3 595.3,82.8 595.8,82.3 596.3,81.9 596.8,81.4 597.3,80.9 597.8,80.4 598.3,80.0 598.8,79.5 599.3,79.0 599.8,78.5 600.3,78.1 600.8,77.6 601.3,77.1 601.8,76.7 602.3,76.2 602.8,75.7 603.3,75.2 603.8,74.8 604.3,74.3 604.8,73.8 605.3,73.3 605.8,72.9 606.3,72.4 606.8,71.9 607.3,71.5 607.8,71.0 608.3,70.5 608.8,70.0 609.3,69.6 609.8,69.1 610.3,68.6 610.8,68.2 611.3,67.7 611.8,67.2 612.3,66.8 612.8,66.3 613.3,65.8 613.8,65.4 614.3,64.9 614.8,64.4 615.3,64.0 615.8,63.5 616.3,63.0 616.8,62.6 617.3,62.1 617.8,61.7 618.3,61.2 618.8,60.7 619.3,60.3 619.8,59.8 620.3,59.3 620.8,58.9 621.3,58.4 621.8,58.0 622.3,57.5 622.8,57.0 623.3,56.6 623.8,56.1 624.3,55.7 624.8,55.2 625.3,54.8 625.8,54.3 626.3,53.9 626.8,53.4 627.3,52.9 627.8,52.5 628.3,52.0 628.8,51.6 629.3,51.1 629.8,50.7 630.3,50.2 630.8,49.8 631.3,49.3 631.8,48.9 632.3,48.4 632.8,48.0 633.3,47.6 633.8,47.1 634.3,46.7 634.8,46.2 635.3,45.8 635.8,45.3 636.3,44.9 636.8,44.4 637.3,44.0 637.8,43.6 638.3,43.1 638.8,42.7 639.3,42.2 639.8,41.8 640.3,41.4 640.8,40.9 641.3,40.5 641.3,40.5 640.8,42.4 640.3,44.2 639.8,46.1 639.3,48.0 638.8,49.9 638.3,51.9 637.8,53.8 637.3,55.8 636.8,57.9 636.3,60.0 635.8,62.2 635.3,64.3 634.8,66.3 634.3,68.3 633.8,70.0 633.3,71.6 632.8,73.2 632.3,74.7 631.8,76.2 631.3,77.6 630.8,78.9 630.3,80.3 629.8,81.6 629.3,82.8 628.8,84.1 628.3,85.3 627.8,86.6 627.3,87.8 626.8,89.0 626.3,90.2 625.8,91.4 625.3,92.6 624.8,93.7 624.3,94.9 623.8,96.0 623.3,97.1 622.8,98.2 622.3,99.3 621.8,100.3 621.3,101.4 620.8,102.4 620.3,103.4 619.8,104.4 619.3,105.4 618.8,106.3 618.3,107.2 617.8,108.1 617.3,109.0 616.8,109.9 616.3,110.7 615.8,111.6 615.3,112.4 614.8,113.3 614.3,114.2 613.8,115.1 613.3,116.0 612.8,116.9 612.3,117.8 611.8,118.8 611.3,119.7 610.8,120.6 610.3,121.6 609.8,122.6 609.3,123.5 608.8,124.5 608.3,125.5 607.8,126.4 607.3,127.4 606.8,128.4 606.3,129.4 605.8,130.4 605.3,131.5 604.8,132.5 604.3,133.6 603.8,134.7 603.3,135.8 602.8,136.8 602.3,137.9 601.8,139.0 601.3,140.1 600.8,141.2 600.3,142.3 599.8,143.4 599.3,144.4 598.8,145.4 598.3,146.4 597.8,147.4 597.3,148.4 596.8,149.4 596.3,150.4 595.8,151.4 595.3,152.4 594.8,153.3 594.3,154.3 593.8,155.2 593.3,156.1 592.8,157.0 592.3,157.8 591.8,158.6 591.3,159.3 590.8,160.0 590.3,160.7 589.8,161.3 589.3,161.9 588.8,162.4 588.3,162.9 587.8,163.5 587.3,164.0 586.8,164.4 586.3,164.9 585.8,165.4 585.3,165.8 584.8,166.3 584.3,166.8 583.8,167.2 583.3,167.7 582.8,168.2 582.3,168.7 581.8,169.2 581.3,169.8 580.8,170.3 580.3,170.9 579.8,171.4 579.3,172.0 578.8,172.6 578.3,173.1 577.8,173.7 577.3,174.3 576.8,174.8 576.3,175.4 575.8,175.9 575.3,176.4 574.8,177.0 574.3,177.5 573.8,177.9 573.3,178.4 572.8,178.8 572.3,179.2 571.8,179.7 571.3,180.1 570.8,180.4 570.3,180.8 569.8,181.2 569.3,181.6 568.8,181.9 568.3,182.3 567.8,182.6 567.3,183.0 566.8,183.3 566.3,183.6 565.8,183.9 565.3,184.3 564.8,184.6 564.3,184.8 563.8,185.1 563.3,185.4 562.8,185.7 562.3,186.0 561.8,186.3 561.3,186.6 560.8,186.8 560.3,186.9 559.8,187.0 559.3,187.1 558.8,187.2 558.3,187.3 557.8,187.4 557.3,187.5 556.8,187.5 556.3,187.6 555.8,187.6 555.3,187.7 554.8,187.7 554.3,187.8 553.8,187.8 553.3,187.8 552.8,187.8 552.3,187.8 551.8,187.8 551.3,187.7 550.8,187.7 550.3,187.6 549.8,187.5 549.3,187.4 548.8,187.3 548.3,187.2 547.8,187.1 547.3,186.9 546.8,186.8 546.3,186.7 545.8,186.5 545.3,186.3 544.8,186.2 544.3,186.0 543.8,185.7 543.3,185.4 542.8,185.1 542.3,184.7 541.8,184.2 541.3,183.8 540.8,183.3 540.3,182.7 539.8,182.2 539.3,181.7 538.8,181.1 538.3,180.6 537.8,180.0 537.3,179.5 536.8,179.0 536.3,178.4 535.8,177.8 535.3,177.1 534.8,176.5 534.3,175.8 533.8,175.0 533.3,174.3 532.8,173.6 532.3,172.9 531.8,172.2 531.3,171.6 530.8,171.0 530.3,170.5 529.8,170.0 529.3,169.7 528.8,169.4 528.3,169.1 527.8,168.9 527.3,168.7 526.8,168.4 526.3,168.2 525.8,168.1 525.3,167.9 524.8,167.9 524.3,167.8 523.8,167.8 523.2,167.8 522.7,167.9 522.2,168.0 521.7,168.1 521.2,168.3 520.7,168.5 520.2,168.6 519.7,168.8 519.2,169.0 518.7,169.2 518.2,169.5 517.7,169.7 517.2,169.9 516.7,170.0 516.2,170.2 515.7,170.4 515.2,170.5 514.7,170.7 514.2,170.8 513.7,171.0 513.2,171.1 512.7,171.3 512.2,171.4 511.7,171.5 511.2,171.7 510.7,171.8 510.2,172.0 509.7,172.2 509.2,172.3 508.7,172.5 508.2,172.7 507.7,172.9 507.2,173.1 506.7,173.3 506.2,173.6 505.7,173.8 505.2,174.1 504.7,174.4 504.2,174.6 503.7,174.9 503.2,175.2 502.7,175.5 502.2,175.8 501.7,176.2 501.2,176.5 500.7,176.8 500.2,177.1 499.7,177.5 499.2,177.8 498.7,178.1 498.2,178.5 497.7,178.8 497.2,179.2 496.7,179.5 496.2,179.8 495.7,180.2 495.2,180.5 494.7,180.8 494.2,181.1 493.7,181.4 493.2,181.7 492.7,182.0 492.2,182.3 491.7,182.6 491.2,182.9 490.7,183.1 490.2,183.4 489.7,183.6 489.2,183.9 488.7,184.1 488.2,184.3 487.7,184.6 487.2,184.8 486.7,185.0 486.2,185.2 485.7,185.5 485.2,185.7 484.7,185.9 484.2,186.1 483.7,186.3 483.2,186.5 482.7,186.7 482.2,186.9 481.7,187.1 481.2,187.3 480.7,187.5 480.2,187.7 479.7,187.9 479.2,188.0 478.7,188.2 478.2,188.4 477.7,188.6 477.2,188.7 476.7,188.9 476.2,189.1 475.7,189.2 475.2,189.4 474.7,189.5 474.2,189.7 473.7,189.8 473.2,190.0 472.7,190.1 472.2,190.3 471.7,190.4 471.2,190.5 470.7,190.7 470.2,190.8 469.7,190.9 469.2,191.1 468.7,191.2 468.2,191.3 467.7,191.4 467.2,191.5 466.7,191.6 466.2,191.8 465.7,191.9 465.2,192.0 464.7,192.1 464.2,192.1 463.7,192.2 463.2,192.3 462.7,192.4 462.2,192.5 461.7,192.5 461.2,192.6 460.7,192.7 460.2,192.8 459.7,192.8 459.2,192.9 458.7,193.0 458.2,193.1 457.7,193.1 457.2,193.2 456.7,193.3 456.2,193.4 455.7,193.5 455.2,193.6 454.7,193.8 454.2,194.0 453.7,194.3 453.2,194.6 452.7,195.1 452.2,195.5 451.7,196.1 451.2,196.6 450.7,197.2 450.2,197.8 449.7,198.5 449.2,199.1 448.7,199.7 448.2,200.3 447.7,200.9 447.2,201.4 446.7,202.0 446.2,202.6 445.7,203.2 445.2,203.8 444.7,204.5 444.2,205.2 443.7,205.9 443.2,206.5 442.7,207.2 442.2,207.8 441.7,208.4 441.2,209.0 440.7,209.5 440.2,210.0 439.7,210.5 439.2,210.9 438.7,211.2 438.2,211.5 437.7,211.8 437.2,212.1 436.7,212.3 436.2,212.6 435.7,212.8 435.2,213.0 434.7,213.2 434.2,213.4 433.7,213.5 433.2,213.6 432.7,213.7 432.2,213.7 431.7,213.6 431.2,213.4 430.7,213.1 430.2,212.7 429.7,212.4 429.2,211.9 428.7,211.5 428.2,211.0 427.7,210.4 427.2,209.7 426.7,208.9 426.2,208.0 425.7,207.1 425.2,206.2 424.7,205.2 424.2,204.3 423.7,203.5 423.2,202.7 422.7,201.9 422.2,201.1 421.7,200.3 421.2,199.5 420.7,198.8 420.2,198.1 419.7,197.5 419.2,196.9 418.7,196.2 418.2,195.6 417.7,195.0 417.2,194.4 416.7,193.9 416.2,193.6 415.7,193.4 415.2,193.3 414.7,193.3 414.2,193.3 413.7,193.3 413.2,193.3 412.7,193.4 412.2,193.4 411.7,193.4 411.2,193.5 410.7,193.5 410.2,193.7 409.7,194.0 409.2,194.5 408.7,195.1 408.2,195.7 407.7,196.5 407.2,197.3 406.7,198.1 406.2,199.0Z" fill="none" stroke="#ff00ff" stroke-width="1.75" stroke-linejoin="round"/>
<path d="M406.3,200.3 406.8,199.4 407.3,198.5 407.8,197.6 408.3,196.8 408.8,195.9 409.3,195.1 409.8,194.2 410.3,193.3 410.8,192.5 411.3,191.6 411.8,190.7 412.3,189.8 412.8,189.0 413.3,188.1 413.8,187.3 414.3,186.5 414.8,185.8 415.3,185.0 415.8,184.3 416.3,183.5 416.8,182.8 417.3,182.1 417.8,181.5 418.3,180.8 418.8,180.3 419.3,179.7 419.8,179.2 420.3,178.7 420.8,178.2 421.3,177.8 421.8,177.4 422.3,177.0 422.8,176.6 423.3,176.2 423.8,175.8 424.3,175.5 424.8,175.1 425.3,174.8 425.8,174.5 426.3,174.2 426.8,173.9 427.3,173.6 427.8,173.3 428.3,173.0 428.8,172.8 429.3,172.5 429.8,172.2 430.3,172.0 430.8,171.7 431.3,171.5 431.8,171.3 432.3,171.0 432.8,170.8 433.3,170.6 433.8,170.3 434.3,170.1 434.8,169.9 435.3,169.7 435.8,169.6 436.3,169.4 436.8,169.2 437.3,169.1 437.8,168.9 438.3,168.8 438.8,168.7 439.3,168.5 439.8,168.4 440.3,168.3 440.8,168.1 441.3,168.0 441.8,167.9 442.3,167.8 442.8,167.7 443.3,167.6 443.8,167.5 444.3,167.3 444.8,167.2 445.3,167.1 445.8,167.0 446.3,166.9 446.8,166.8 447.3,166.7 447.8,166.6 448.3,166.5 448.8,166.5 449.3,166.4 449.8,166.3 450.3,166.2 450.8,166.1 451.3,166.0 451.8,165.9 452.3,165.8 452.8,165.7 453.3,165.6 453.8,165.5 454.3,165.4 454.8,165.3 455.3,165.2 455.8,165.1 456.3,165.0 456.8,164.9 457.3,164.8 457.8,164.7 458.3,164.6 458.8,164.5 459.3,164.4 459.8,164.3 460.3,164.2 460.8,164.0 461.3,163.9 461.8,163.8 462.3,163.6 462.8,163.5 463.3,163.4 463.8,163.2 464.3,163.1 464.8,162.9 465.3,162.7 465.8,162.6 466.3,162.4 466.8,162.3 467.3,162.1 467.8,161.9 468.3,161.7 468.8,161.6 469.3,161.4 469.8,161.2 470.3,161.0 470.8,160.8 471.3,160.6 471.8,160.4 472.3,160.2 472.8,160.0 473.3,159.8 473.8,159.6 474.3,159.3 474.8,159.1 475.3,158.7 475.8,158.4 476.3,158.1 476.8,157.8 477.3,157.6 477.8,157.4 478.3,157.3 478.8,157.3 479.3,157.3 479.8,157.4 480.3,157.4 480.8,157.5 481.3,157.6 481.8,157.6 482.3,157.7 482.8,157.8 483.3,157.8 483.8,157.8 484.3,157.9 484.8,157.9 485.3,157.9 485.8,157.9 486.3,158.0 486.8,158.0 487.3,158.0 487.8,158.0 488.3,158.0 488.8,158.0 489.3,157.9 489.8,157.8 490.3,157.7 490.8,157.5 491.3,157.3 491.8,157.1 492.3,156.8 492.8,156.6 493.3,156.3 493.8,156.0 494.3,155.7 494.8,155.3 495.3,155.0 495.8,154.7 496.3,154.4 496.8,154.1 497.3,153.7 497.8,153.3 498.3,152.9 498.8,152.5 499.3,152.1 499.8,151.6 500.3,151.2 500.8,150.8 501.3,150.4 501.8,149.9 502.3,149.5 502.8,149.1 503.3,148.6 503.8,148.1 504.3,147.7 504.8,147.2 505.3,146.6 505.8,146.1 506.3,145.5 506.8,144.9 507.3,144.3 507.8,143.7 508.3,143.0 508.8,142.4 509.3,141.8 509.8,141.2 510.3,140.6 510.8,140.0 511.3,139.3 511.8,138.7 512.3,138.2 512.8,137.6 513.3,137.2 513.8,136.7 514.3,136.3 514.8,135.9 515.3,135.5 515.8,135.1 516.3,134.8 516.8,134.4 517.3,134.1 517.8,133.9 518.3,133.6 518.8,133.4 519.3,133.2 519.8,133.0 520.3,132.8 520.8,132.6 521.3,132.4 521.8,132.3 522.3,132.1 522.8,132.0 523.3,131.8 523.9,131.6 524.4,131.5 524.9,131.3 525.4,131.2 525.9,131.1 526.4,130.9 526.9,130.8 527.4,130.7 527.9,130.6 528.4,130.4 528.9,130.3 529.4,130.2 529.9,130.0 530.4,129.9 530.9,129.8 531.4,129.6 531.9,129.4 532.4,129.3 532.9,129.1 533.4,128.9 533.9,128.7 534.4,128.5 534.9,128.3 535.4,128.0 535.9,127.8 536.4,127.6 536.9,127.3 537.4,127.1 537.9,126.9 538.4,126.6 538.9,126.4 539.4,126.1 539.9,125.9 540.4,125.6 540.9,125.4 541.4,125.1 541.9,124.9 542.4,124.6 542.9,124.3 543.4,124.1 543.9,123.8 544.4,123.5 544.9,123.2 545.4,122.9 545.9,122.7 546.4,122.4 546.9,122.1 547.4,121.8 547.9,121.5 548.4,121.2 548.9,120.9 549.4,120.6 549.9,120.3 550.4,120.0 550.9,119.7 551.4,119.4 551.9,119.0 552.4,118.7 552.9,118.4 553.4,118.1 553.9,117.7 554.4,117.4 554.9,117.1 555.4,116.7 555.9,116.3 556.4,116.0 556.9,115.6 557.4,115.2 557.9,114.8 558.4,114.4 558.9,114.0 559.4,113.6 559.9,113.2 560.4,112.7 560.9,112.3 561.4,111.8 561.9,111.4 562.4,110.9 562.9,110.4 563.4,110.0 563.9,109.5 564.4,109.0 564.9,108.5 565.4,108.0 565.9,107.5 566.4,107.0 566.9,106.6 567.4,106.1 567.9,105.6 568.4,105.1 568.9,104.6 569.4,104.1 569.9,103.6 570.4,103.1 570.9,102.7 571.4,102.2 571.9,101.7 572.4,101.2 572.9,100.7 573.4,100.2 573.9,99.7 574.4,99.2 574.9,98.7 575.4,98.2 575.9,97.7 576.4,97.2 576.9,96.7 577.4,96.2 577.9,95.7 578.4,95.2 578.9,94.7 579.4,94.1 579.9,93.6 580.4,93.1 580.9,92.6 581.4,92.1 581.9,91.6 582.4,91.0 582.9,90.5 583.4,90.0 583.9,89.5 584.4,88.9 584.9,88.4 585.4,87.9 585.9,87.4 586.4,86.8 586.9,86.3 587.4,85.8 587.9,85.2 588.4,84.7 588.9,84.2 589.4,83.7 589.9,83.1 590.4,82.6 590.9,82.1 591.4,81.6 591.9,81.0 592.4,80.5 592.9,80.0 593.4,79.5 593.9,78.9 594.4,78.4 594.9,77.9 595.4,77.4 595.9,76.8 596.4,76.3 596.9,75.8 597.4,75.3 597.9,74.7 598.4,74.2 598.9,73.7 599.4,73.1 599.9,72.6 600.4,72.1 600.9,71.6 601.4,71.0 601.9,70.5 602.4,70.0 602.9,69.5 603.4,69.0 603.9,68.4 604.4,67.9 604.9,67.4 605.4,66.9 605.9,66.3 606.4,65.8 606.9,65.3 607.4,64.8 607.9,64.2 608.4,63.7 608.9,63.2 609.4,62.7 609.9,62.1 610.4,61.6 610.9,61.1 611.4,60.5 611.9,60.0 612.4,59.4 612.9,58.9 613.4,58.4 613.9,57.8 614.4,57.3 614.9,56.7 615.4,56.2 615.9,55.6 616.4,55.1 616.9,54.5 617.4,54.0 617.9,53.4 618.4,52.9 618.9,52.3 619.4,51.8 619.9,51.2 620.4,50.7 620.9,50.1 621.4,49.5 621.9,49.0 622.4,48.4 622.9,47.9 623.4,47.3 623.9,46.7 624.4,46.2 624.9,45.6 625.4,45.1 625.9,44.5 626.4,43.9 626.9,43.4 627.4,42.8 627.9,42.2 628.4,41.6 628.9,41.1 629.4,40.5 629.9,39.9 630.4,39.4 630.9,38.8 631.4,38.2 631.9,37.6 632.4,37.1 632.9,36.5 633.4,35.9 633.9,35.3 634.4,34.7 634.9,34.2 635.4,33.6 635.9,33.0 636.4,32.4 636.9,31.8 637.4,31.2 637.9,30.6 638.4,30.1 638.9,29.5 639.4,28.9 639.9,28.3 640.4,27.7 640.9,27.1 640.9,27.1 640.4,28.7 639.9,30.4 639.4,32.2 638.9,33.9 638.4,35.7 637.9,37.6 637.4,39.5 636.9,41.4 636.4,43.4 635.9,45.4 635.4,47.6 634.9,49.9 634.4,52.3 633.9,54.8 633.4,57.3 632.9,59.8 632.4,62.3 631.9,64.6 631.4,66.7 630.9,68.6 630.4,70.3 629.9,71.9 629.4,73.3 628.9,74.7 628.4,76.0 627.9,77.2 627.4,78.4 626.9,79.5 626.4,80.6 625.9,81.7 625.4,82.8 624.9,83.8 624.4,84.9 623.9,86.0 623.4,87.1 622.9,88.2 622.4,89.4 621.9,90.5 621.4,91.7 620.9,92.8 620.4,93.9 619.9,95.1 619.4,96.2 618.9,97.3 618.4,98.4 617.9,99.5 617.4,100.6 616.9,101.7 616.4,102.8 615.9,103.9 615.4,105.0 614.9,106.1 614.4,107.2 613.9,108.4 613.4,109.5 612.9,110.6 612.4,111.7 611.9,112.8 611.4,113.9 610.9,115.0 610.4,116.1 609.9,117.2 609.4,118.3 608.9,119.4 608.4,120.5 607.9,121.6 607.4,122.7 606.9,123.8 606.4,124.9 605.9,126.0 605.4,127.1 604.9,128.3 604.4,129.4 603.9,130.6 603.4,131.8 602.9,132.9 602.4,134.2 601.9,135.4 601.4,136.6 600.9,137.8 600.4,139.0 599.9,140.2 599.4,141.3 598.9,142.5 598.4,143.6 597.9,144.7 597.4,145.7 596.9,146.8 596.4,147.7 595.9,148.7 595.4,149.6 594.9,150.5 594.4,151.4 593.9,152.2 593.4,153.0 592.9,153.9 592.4,154.7 591.9,155.5 591.4,156.3 590.9,157.1 590.4,157.8 589.9,158.6 589.4,159.4 588.9,160.2 588.4,160.9 587.9,161.7 587.4,162.5 586.9,163.2 586.4,163.9 585.9,164.7 585.4,165.4 584.9,166.1 584.4,166.8 583.9,167.5 583.4,168.2 582.9,168.8 582.4,169.5 581.9,170.2 581.4,170.8 580.9,171.5 580.4,172.1 579.9,172.8 579.4,173.4 578.9,174.1 578.4,174.7 577.9,175.3 577.4,175.9 576.9,176.5 576.4,177.1 575.9,177.7 575.4,178.2 574.9,178.8 574.4,179.3 573.9,179.7 573.4,180.2 572.9,180.6 572.4,181.0 571.9,181.4 571.4,181.7 570.9,182.0 570.4,182.3 569.9,182.6 569.4,182.9 568.9,183.2 568.4,183.5 567.9,183.8 567.4,184.1 566.9,184.4 566.4,184.7 565.9,185.1 565.4,185.4 564.9,185.8 564.4,186.2 563.9,186.5 563.4,186.9 562.9,187.3 562.4,187.7 561.9,188.1 561.4,188.4 560.9,188.8 560.4,189.2 559.9,189.6 559.4,190.0 558.9,190.4 558.4,190.9 557.9,191.3 557.4,191.8 556.9,192.2 556.4,192.6 555.9,193.0 555.4,193.3 554.9,193.6 554.4,193.8 553.9,194.1 553.4,194.4 552.9,194.6 552.4,194.9 551.9,195.1 551.4,195.4 550.9,195.6 550.4,195.8 549.9,195.9 549.4,196.0 548.9,196.1 548.4,196.2 547.9,196.2 547.4,196.2 546.9,196.2 546.4,196.1 545.9,196.1 545.4,196.0 544.9,196.0 544.4,195.9 543.9,195.8 543.4,195.7 542.9,195.6 542.4,195.5 541.9,195.4 541.4,195.3 540.9,195.1 540.4,195.0 539.9,194.8 539.4,194.7 538.9,194.5 538.4,194.4 537.9,194.2 537.4,194.0 536.9,193.7 536.4,193.4 535.9,193.0 535.4,192.6 534.9,192.2 534.4,191.8 533.9,191.3 533.4,190.8 532.9,190.3 532.4,189.8 531.9,189.2 531.4,188.6 530.9,188.0 530.4,187.2 529.9,186.4 529.4,185.6 528.9,184.7 528.4,183.8 527.9,182.9 527.4,182.0 526.9,181.1 526.4,180.2 525.9,179.4 525.4,178.6 524.9,177.7 524.4,176.8 523.9,175.8 523.3,174.9 522.8,174.0 522.3,173.3 521.8,172.6 521.3,172.1 520.8,171.8 520.3,171.7 519.8,171.5 519.3,171.4 518.8,171.3 518.3,171.2 517.8,171.1 517.3,171.1 516.8,171.0 516.3,171.0 515.8,171.0 515.3,171.0 514.8,171.1 514.3,171.2 513.8,171.3 513.3,171.4 512.8,171.6 512.3,171.7 511.8,171.9 511.3,172.1 510.8,172.3 510.3,172.5 509.8,172.7 509.3,172.9 508.8,173.1 508.3,173.4 507.8,173.6 507.3,173.8 506.8,174.0 506.3,174.3 505.8,174.6 505.3,174.8 504.8,175.1 504.3,175.4 503.8,175.8 503.3,176.1 502.8,176.4 502.3,176.7 501.8,177.0 501.3,177.4 500.8,177.7 500.3,178.0 499.8,178.3 499.3,178.6 498.8,178.9 498.3,179.2 497.8,179.6 497.3,179.9 496.8,180.2 496.3,180.6 495.8,180.9 495.3,181.2 494.8,181.6 494.3,181.9 493.8,182.2 493.3,182.5 492.8,182.8 492.3,183.2 491.8,183.5 491.3,183.8 490.8,184.0 490.3,184.3 489.8,184.6 489.3,184.8 488.8,185.1 488.3,185.4 487.8,185.6 487.3,185.9 486.8,186.1 486.3,186.4 485.8,186.6 485.3,186.8 484.8,187.1 484.3,187.3 483.8,187.5 483.3,187.8 482.8,188.0 482.3,188.2 481.8,188.4 481.3,188.6 480.8,188.9 480.3,189.1 479.8,189.3 479.3,189.5 478.8,189.7 478.3,189.9 477.8,190.1 477.3,190.3 476.8,190.4 476.3,190.6 475.8,190.8 475.3,191.0 474.8,191.2 474.3,191.4 473.8,191.5 473.3,191.7 472.8,191.9 472.3,192.1 471.8,192.2 471.3,192.4 470.8,192.6 470.3,192.7 469.8,192.9 469.3,193.1 468.8,193.2 468.3,193.4 467.8,193.5 467.3,193.6 466.8,193.8 466.3,193.9 465.8,194.0 465.3,194.1 464.8,194.2 464.3,194.3 463.8,194.4 463.3,194.5 462.8,194.6 462.3,194.7 461.8,194.7 461.3,194.8 460.8,194.9 460.3,194.9 459.8,195.0 459.3,195.1 458.8,195.1 458.3,195.2 457.8,195.3 457.3,195.4 456.8,195.5 456.3,195.6 455.8,195.8 455.3,195.9 454.8,196.1 454.3,196.3 453.8,196.5 453.3,196.8 452.8,197.0 452.3,197.3 451.8,197.5 451.3,197.8 450.8,198.1 450.3,198.4 449.8,198.8 449.3,199.1 448.8,199.6 448.3,200.0 447.8,200.6 447.3,201.1 446.8,201.7 446.3,202.3 445.8,203.0 445.3,203.7 444.8,204.3 444.3,205.0 443.8,205.7 443.3,206.3 442.8,207.0 442.3,207.6 441.8,208.3 441.3,209.0 440.8,209.7 440.3,210.4 439.8,211.2 439.3,211.9 438.8,212.7 438.3,213.4 437.8,214.2 437.3,214.8 436.8,215.5 436.3,216.1 435.8,216.6 435.3,217.1 434.8,217.5 434.3,217.8 433.8,218.2 433.3,218.5 432.8,218.9 432.3,219.2 431.8,219.5 431.3,219.8 430.8,220.0 430.3,220.2 429.8,220.4 429.3,220.5 428.8,220.5 428.3,220.5 427.8,220.3 427.3,220.1 426.8,219.8 426.3,219.5 425.8,219.1 425.3,218.6 424.8,218.1 424.3,217.6 423.8,217.1 423.3,216.5 422.8,215.7 422.3,214.8 421.8,213.7 421.3,212.5 420.8,211.3 420.3,210.0 419.8,208.8 419.3,207.6 418.8,206.4 418.3,205.3 417.8,204.2 417.3,203.0 416.8,201.9 416.3,200.9 415.8,200.0 415.3,199.2 414.8,198.5 414.3,197.9 413.8,197.5 413.3,197.4 412.8,197.2 412.3,197.0 411.8,196.9 411.3,196.9 410.8,196.8 410.3,196.8 409.8,197.0 409.3,197.2 408.8,197.6 408.3,198.1 407.8,198.5 407.3,199.0 406.8,199.6 406.3,200.3Z" fill="none" stroke="#ffff00" stroke-width="1.75" stroke-linejoin="round"/>
</g>
<rect x="39.5" y="1.9" width="287.0" height="237.79999999999998" fill="none" stroke="#000" stroke-width="1.7"/>
<line x1="52.4" y1="239.7" x2="52.4" y2="241.89999999999998" stroke="#000" stroke-width="1.5"/>
<line x1="78.4" y1="239.7" x2="78.4" y2="243.7" stroke="#000" stroke-width="1.5"/>
<text transform="translate(78.4,256.0) scale(0.91,1)" font-family="'Liberation Sans', sans-serif" font-weight="bold" font-size="10.4" text-anchor="middle">−0.8</text>
<line x1="104.5" y1="239.7" x2="104.5" y2="241.89999999999998" stroke="#000" stroke-width="1.5"/>
<line x1="130.5" y1="239.7" x2="130.5" y2="243.7" stroke="#000" stroke-width="1.5"/>
<text transform="translate(130.5,256.0) scale(0.91,1)" font-family="'Liberation Sans', sans-serif" font-weight="bold" font-size="10.4" text-anchor="middle">−0.4</text>
<line x1="156.6" y1="239.7" x2="156.6" y2="241.89999999999998" stroke="#000" stroke-width="1.5"/>
<line x1="182.6" y1="239.7" x2="182.6" y2="243.7" stroke="#000" stroke-width="1.5"/>
<text transform="translate(182.6,256.0) scale(0.91,1)" font-family="'Liberation Sans', sans-serif" font-weight="bold" font-size="10.4" text-anchor="middle">0.0</text>
<line x1="208.6" y1="239.7" x2="208.6" y2="241.89999999999998" stroke="#000" stroke-width="1.5"/>
<line x1="234.7" y1="239.7" x2="234.7" y2="243.7" stroke="#000" stroke-width="1.5"/>
<text transform="translate(234.7,256.0) scale(0.91,1)" font-family="'Liberation Sans', sans-serif" font-weight="bold" font-size="10.4" text-anchor="middle">0.4</text>
<line x1="260.7" y1="239.7" x2="260.7" y2="241.89999999999998" stroke="#000" stroke-width="1.5"/>
<line x1="286.8" y1="239.7" x2="286.8" y2="243.7" stroke="#000" stroke-width="1.5"/>
<text transform="translate(286.8,256.0) scale(0.91,1)" font-family="'Liberation Sans', sans-serif" font-weight="bold" font-size="10.4" text-anchor="middle">0.8</text>
<line x1="312.8" y1="239.7" x2="312.8" y2="241.89999999999998" stroke="#000" stroke-width="1.5"/>
<line x1="37.3" y1="217.8" x2="39.5" y2="217.8" stroke="#000" stroke-width="1.3"/>
<line x1="35.5" y1="189.0" x2="39.5" y2="189.0" stroke="#000" stroke-width="1.3"/>
<text transform="translate(31.2,192.7) scale(0.91,1)" font-family="'Liberation Sans', sans-serif" font-weight="bold" font-size="10.4" text-anchor="end">−20</text>
<line x1="37.3" y1="160.2" x2="39.5" y2="160.2" stroke="#000" stroke-width="1.3"/>
<line x1="35.5" y1="131.5" x2="39.5" y2="131.5" stroke="#000" stroke-width="1.3"/>
<text transform="translate(31.2,135.2) scale(0.91,1)" font-family="'Liberation Sans', sans-serif" font-weight="bold" font-size="10.4" text-anchor="end">0</text>
<line x1="37.3" y1="102.8" x2="39.5" y2="102.8" stroke="#000" stroke-width="1.3"/>
<line x1="35.5" y1="74.0" x2="39.5" y2="74.0" stroke="#000" stroke-width="1.3"/>
<text transform="translate(31.2,77.7) scale(0.91,1)" font-family="'Liberation Sans', sans-serif" font-weight="bold" font-size="10.4" text-anchor="end">20</text>
<line x1="37.3" y1="45.2" x2="39.5" y2="45.2" stroke="#000" stroke-width="1.3"/>
<line x1="35.5" y1="16.5" x2="39.5" y2="16.5" stroke="#000" stroke-width="1.3"/>
<text transform="translate(31.2,20.2) scale(0.91,1)" font-family="'Liberation Sans', sans-serif" font-weight="bold" font-size="10.4" text-anchor="end">40</text>

<rect x="379.9" y="2.0" width="287.5" height="239.1" fill="none" stroke="#000" stroke-width="1.6"/>
<line x1="393.2" y1="241.1" x2="393.2" y2="243.29999999999998" stroke="#000" stroke-width="1.5"/>
<line x1="419.3" y1="241.1" x2="419.3" y2="245.1" stroke="#000" stroke-width="1.5"/>
<text transform="translate(419.3,257.4) scale(0.91,1)" font-family="'Liberation Sans', sans-serif" font-weight="bold" font-size="10.4" text-anchor="middle">−0.8</text>
<line x1="445.4" y1="241.1" x2="445.4" y2="243.29999999999998" stroke="#000" stroke-width="1.5"/>
<line x1="471.6" y1="241.1" x2="471.6" y2="245.1" stroke="#000" stroke-width="1.5"/>
<text transform="translate(471.6,257.4) scale(0.91,1)" font-family="'Liberation Sans', sans-serif" font-weight="bold" font-size="10.4" text-anchor="middle">−0.4</text>
<line x1="497.7" y1="241.1" x2="497.7" y2="243.29999999999998" stroke="#000" stroke-width="1.5"/>
<line x1="523.8" y1="241.1" x2="523.8" y2="245.1" stroke="#000" stroke-width="1.5"/>
<text transform="translate(523.8,257.4) scale(0.91,1)" font-family="'Liberation Sans', sans-serif" font-weight="bold" font-size="10.4" text-anchor="middle">0.0</text>
<line x1="549.9" y1="241.1" x2="549.9" y2="243.29999999999998" stroke="#000" stroke-width="1.5"/>
<line x1="576.0" y1="241.1" x2="576.0" y2="245.1" stroke="#000" stroke-width="1.5"/>
<text transform="translate(576.0,257.4) scale(0.91,1)" font-family="'Liberation Sans', sans-serif" font-weight="bold" font-size="10.4" text-anchor="middle">0.4</text>
<line x1="602.2" y1="241.1" x2="602.2" y2="243.29999999999998" stroke="#000" stroke-width="1.5"/>
<line x1="628.3" y1="241.1" x2="628.3" y2="245.1" stroke="#000" stroke-width="1.5"/>
<text transform="translate(628.3,257.4) scale(0.91,1)" font-family="'Liberation Sans', sans-serif" font-weight="bold" font-size="10.4" text-anchor="middle">0.8</text>
<line x1="654.4" y1="241.1" x2="654.4" y2="243.29999999999998" stroke="#000" stroke-width="1.5"/>
<line x1="375.9" y1="224.2" x2="379.9" y2="224.2" stroke="#000" stroke-width="1.3"/>
<text transform="translate(371.6,227.9) scale(0.91,1)" font-family="'Liberation Sans', sans-serif" font-weight="bold" font-size="10.4" text-anchor="end">−20</text>
<line x1="377.7" y1="189.9" x2="379.9" y2="189.9" stroke="#000" stroke-width="1.3"/>
<line x1="375.9" y1="155.6" x2="379.9" y2="155.6" stroke="#000" stroke-width="1.3"/>
<text transform="translate(371.6,159.3) scale(0.91,1)" font-family="'Liberation Sans', sans-serif" font-weight="bold" font-size="10.4" text-anchor="end">0</text>
<line x1="377.7" y1="121.3" x2="379.9" y2="121.3" stroke="#000" stroke-width="1.3"/>
<line x1="375.9" y1="87.0" x2="379.9" y2="87.0" stroke="#000" stroke-width="1.3"/>
<text transform="translate(371.6,90.7) scale(0.91,1)" font-family="'Liberation Sans', sans-serif" font-weight="bold" font-size="10.4" text-anchor="end">20</text>
<line x1="377.7" y1="52.7" x2="379.9" y2="52.7" stroke="#000" stroke-width="1.3"/>
<line x1="375.9" y1="18.4" x2="379.9" y2="18.4" stroke="#000" stroke-width="1.3"/>
<text transform="translate(371.6,22.1) scale(0.91,1)" font-family="'Liberation Sans', sans-serif" font-weight="bold" font-size="10.4" text-anchor="end">40</text>

<text x="46.5" y="20.3" font-family="'Liberation Sans', sans-serif" font-size="13.5">A</text>
<text x="384.5" y="18.7" font-family="'Liberation Sans', sans-serif" font-size="13.5">B</text>
<text x="170" y="20.7" font-family="'Liberation Sans', sans-serif" font-weight="bold" font-size="11.8">WO<tspan font-size="8.2" dy="3">3</tspan></text>
<text x="504" y="21" font-family="'Liberation Sans', sans-serif" font-weight="bold" font-size="11.8">WO<tspan font-size="8.2" dy="3">3</tspan><tspan dy="-3" dx="0.8">/C</tspan></text>
<text x="57" y="38.2" font-family="'Liberation Sans', sans-serif" font-weight="bold" font-size="9.1" text-anchor="end">a</text>
<line x1="59.2" y1="35.0" x2="81" y2="35.0" stroke="#000000" stroke-width="1.8"/>
<text x="103" y="38.3" font-family="'Liberation Sans', sans-serif" font-weight="bold" font-size="9.1" text-anchor="middle">20 mV/s</text>
<text x="57" y="50.3" font-family="'Liberation Sans', sans-serif" font-weight="bold" font-size="9.1" text-anchor="end">b</text>
<line x1="59.2" y1="47.1" x2="81" y2="47.1" stroke="#ff0000" stroke-width="1.8"/>
<text x="103" y="50.4" font-family="'Liberation Sans', sans-serif" font-weight="bold" font-size="9.1" text-anchor="middle">40 mV/s</text>
<text x="57" y="62.4" font-family="'Liberation Sans', sans-serif" font-weight="bold" font-size="9.1" text-anchor="end">c</text>
<line x1="59.2" y1="59.2" x2="81" y2="59.2" stroke="#00ff00" stroke-width="1.8"/>
<text x="103" y="62.5" font-family="'Liberation Sans', sans-serif" font-weight="bold" font-size="9.1" text-anchor="middle">60 mV/s</text>
<text x="57" y="74.5" font-family="'Liberation Sans', sans-serif" font-weight="bold" font-size="9.1" text-anchor="end">d</text>
<line x1="59.2" y1="71.3" x2="81" y2="71.3" stroke="#0000ff" stroke-width="1.8"/>
<text x="103" y="74.6" font-family="'Liberation Sans', sans-serif" font-weight="bold" font-size="9.1" text-anchor="middle">80 mV/s</text>
<text x="57" y="86.6" font-family="'Liberation Sans', sans-serif" font-weight="bold" font-size="9.1" text-anchor="end">e</text>
<line x1="59.2" y1="83.4" x2="81" y2="83.4" stroke="#00ffff" stroke-width="1.8"/>
<text x="103" y="86.7" font-family="'Liberation Sans', sans-serif" font-weight="bold" font-size="9.1" text-anchor="middle">100 mV/s</text>
<text x="57" y="98.7" font-family="'Liberation Sans', sans-serif" font-weight="bold" font-size="9.1" text-anchor="end">f</text>
<line x1="59.2" y1="95.5" x2="81" y2="95.5" stroke="#ff00ff" stroke-width="1.8"/>
<text x="103" y="98.8" font-family="'Liberation Sans', sans-serif" font-weight="bold" font-size="9.1" text-anchor="middle">150 mV/s</text>
<text x="57" y="110.8" font-family="'Liberation Sans', sans-serif" font-weight="bold" font-size="9.1" text-anchor="end">g</text>
<line x1="59.2" y1="107.6" x2="81" y2="107.6" stroke="#ffff00" stroke-width="1.8"/>
<text x="103" y="110.9" font-family="'Liberation Sans', sans-serif" font-weight="bold" font-size="9.1" text-anchor="middle">200 mV/s</text>

<text x="397.8" y="45.9" font-family="'Liberation Sans', sans-serif" font-weight="bold" font-size="9.1" text-anchor="end">a</text>
<line x1="400.2" y1="42.7" x2="421.5" y2="42.7" stroke="#000000" stroke-width="1.8"/>
<text x="444" y="46.0" font-family="'Liberation Sans', sans-serif" font-weight="bold" font-size="9.1" text-anchor="middle">20 mV/s</text>
<text x="397.8" y="58.2" font-family="'Liberation Sans', sans-serif" font-weight="bold" font-size="9.1" text-anchor="end">b</text>
<line x1="400.2" y1="55.0" x2="421.5" y2="55.0" stroke="#ff0000" stroke-width="1.8"/>
<text x="444" y="58.2" font-family="'Liberation Sans', sans-serif" font-weight="bold" font-size="9.1" text-anchor="middle">40 mV/s</text>
<text x="397.8" y="70.4" font-family="'Liberation Sans', sans-serif" font-weight="bold" font-size="9.1" text-anchor="end">c</text>
<line x1="400.2" y1="67.2" x2="421.5" y2="67.2" stroke="#00ff00" stroke-width="1.8"/>
<text x="444" y="70.5" font-family="'Liberation Sans', sans-serif" font-weight="bold" font-size="9.1" text-anchor="middle">60 mV/s</text>
<text x="397.8" y="82.7" font-family="'Liberation Sans', sans-serif" font-weight="bold" font-size="9.1" text-anchor="end">d</text>
<line x1="400.2" y1="79.5" x2="421.5" y2="79.5" stroke="#0000ff" stroke-width="1.8"/>
<text x="444" y="82.8" font-family="'Liberation Sans', sans-serif" font-weight="bold" font-size="9.1" text-anchor="middle">80 mV/s</text>
<text x="397.8" y="94.9" font-family="'Liberation Sans', sans-serif" font-weight="bold" font-size="9.1" text-anchor="end">e</text>
<line x1="400.2" y1="91.7" x2="421.5" y2="91.7" stroke="#00ffff" stroke-width="1.8"/>
<text x="444" y="95.0" font-family="'Liberation Sans', sans-serif" font-weight="bold" font-size="9.1" text-anchor="middle">100 mV/s</text>
<text x="397.8" y="107.2" font-family="'Liberation Sans', sans-serif" font-weight="bold" font-size="9.1" text-anchor="end">f</text>
<line x1="400.2" y1="104.0" x2="421.5" y2="104.0" stroke="#ff00ff" stroke-width="1.8"/>
<text x="444" y="107.2" font-family="'Liberation Sans', sans-serif" font-weight="bold" font-size="9.1" text-anchor="middle">150 mV/s</text>
<text x="397.8" y="119.4" font-family="'Liberation Sans', sans-serif" font-weight="bold" font-size="9.1" text-anchor="end">g</text>
<line x1="400.2" y1="116.2" x2="421.5" y2="116.2" stroke="#ffff00" stroke-width="1.8"/>
<text x="444" y="119.5" font-family="'Liberation Sans', sans-serif" font-weight="bold" font-size="9.1" text-anchor="middle">200 mV/s</text>

<text x="182.9" y="275.9" font-family="'Liberation Sans', sans-serif" font-weight="bold" font-size="11.8" text-anchor="middle">Potential (V)</text>
<text x="523.9" y="276.8" font-family="'Liberation Sans', sans-serif" font-weight="bold" font-size="11.8" text-anchor="middle">Potential (V)</text>
<text transform="translate(10.3,121.6) rotate(-90)" font-family="'Liberation Sans', sans-serif" font-weight="bold" font-size="12.15" text-anchor="middle">Current (mA)</text>
<text transform="translate(350.8,122.4) rotate(-90)" font-family="'Liberation Sans', sans-serif" font-weight="bold" font-size="12.15" text-anchor="middle">Current (mA)</text>
<text x="198" y="230.8" font-family="'Liberation Sans', sans-serif" font-weight="bold" font-size="9.8">C<tspan font-size="6.2" dy="2.6">s</tspan><tspan dy="-2.6"> (at 20 mV/s) =&#160; 26.9 F/g</tspan></text>
<text x="543.6" y="232.2" font-family="'Liberation Sans', sans-serif" font-weight="bold" font-size="9.8">C<tspan font-size="6.2" dy="2.6">s</tspan><tspan dy="-2.6"> (at 20 mV/s) =&#160; 75.1 F/g</tspan></text>
<text x="643.8" y="28.2" font-family="'Liberation Sans', sans-serif" font-weight="bold" font-size="8.6">g</text>
<text x="643.8" y="41.2" font-family="'Liberation Sans', sans-serif" font-weight="bold" font-size="8.6">f</text>
<text x="643.8" y="54.5" font-family="'Liberation Sans', sans-serif" font-weight="bold" font-size="8.6">e</text>
<text x="643.8" y="65.7" font-family="'Liberation Sans', sans-serif" font-weight="bold" font-size="8.6">d</text>
<text x="643.8" y="75.3" font-family="'Liberation Sans', sans-serif" font-weight="bold" font-size="8.6">c</text>
<text x="643.8" y="86.8" font-family="'Liberation Sans', sans-serif" font-weight="bold" font-size="8.6">b</text>
<text x="643.8" y="98.5" font-family="'Liberation Sans', sans-serif" font-weight="bold" font-size="8.6">a</text>
</svg></body></html>
